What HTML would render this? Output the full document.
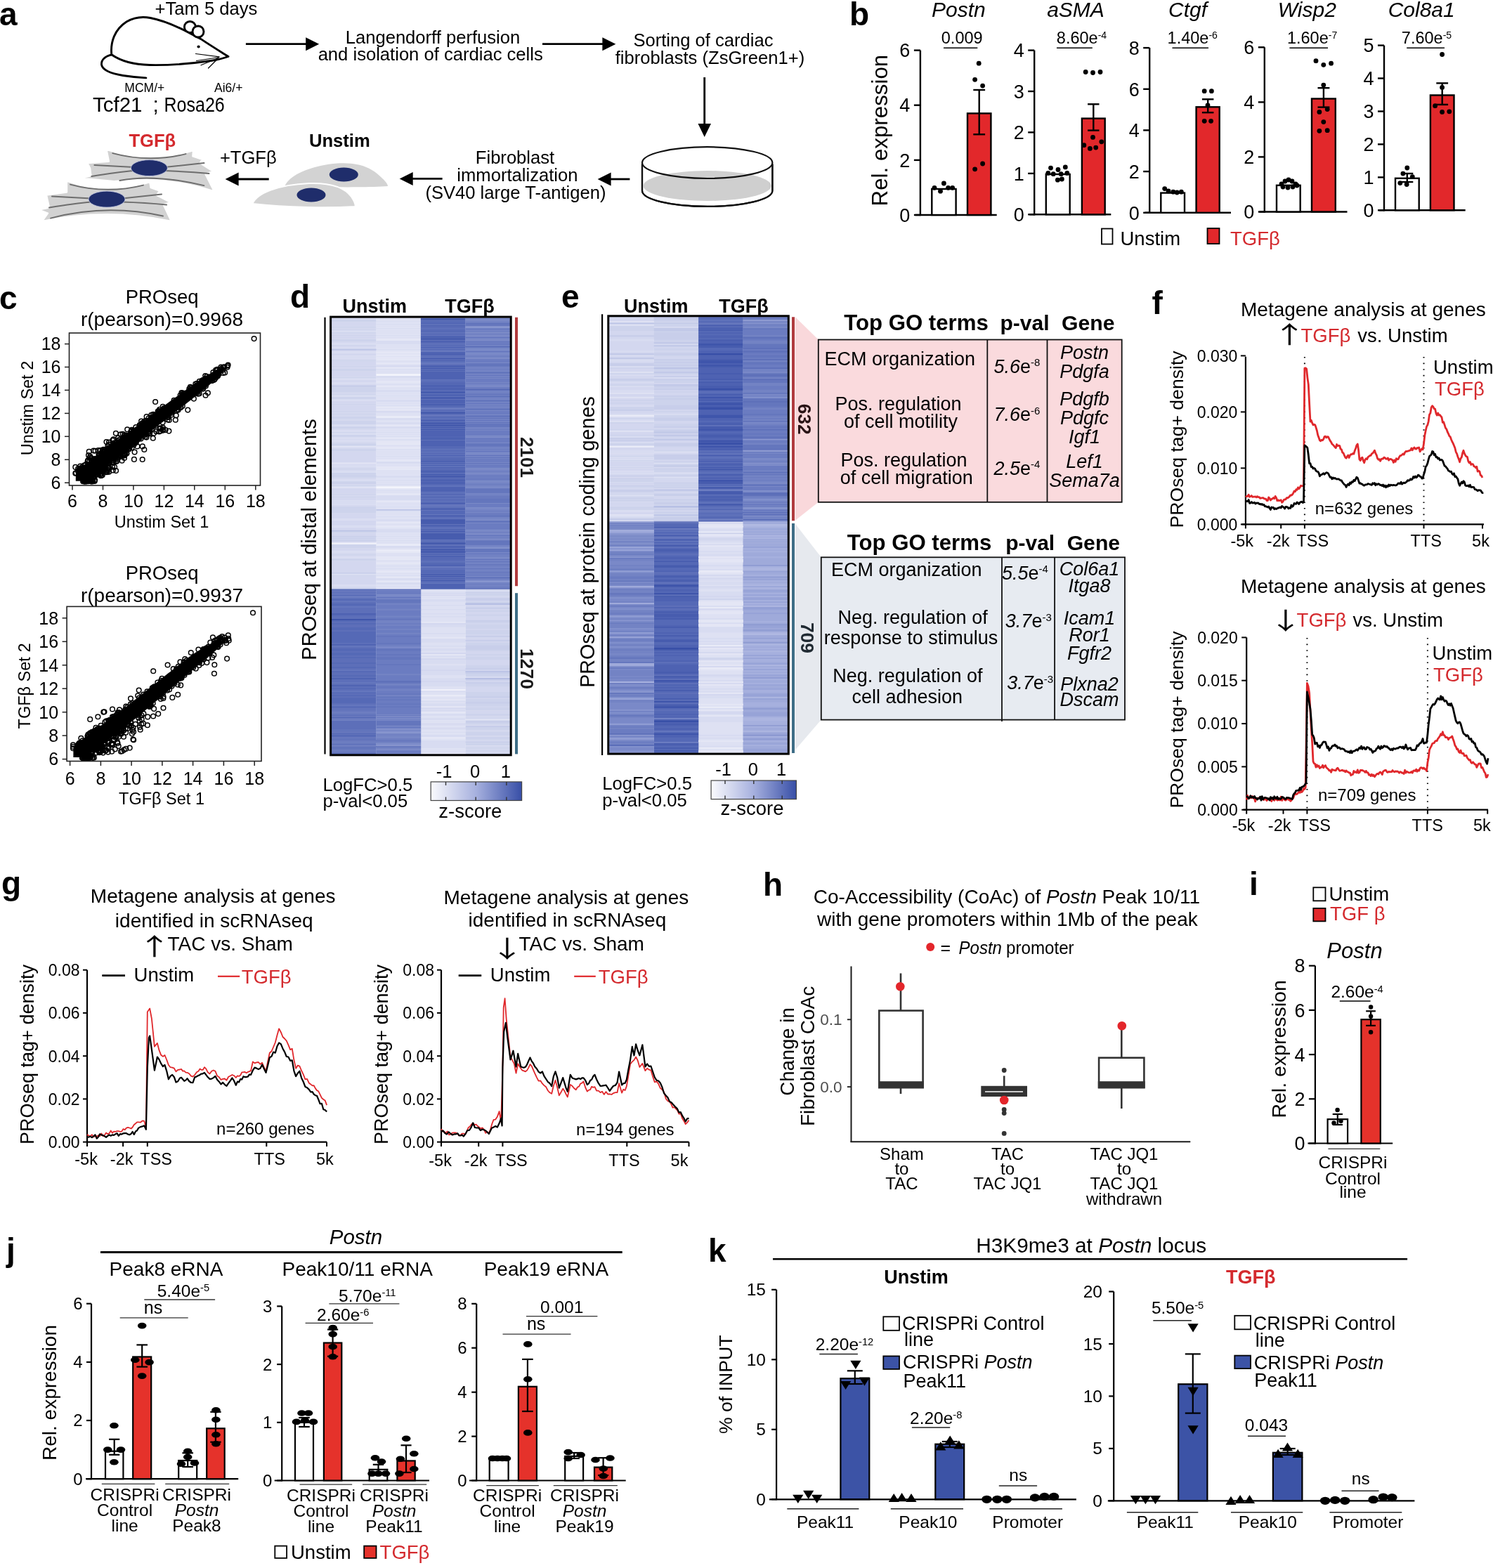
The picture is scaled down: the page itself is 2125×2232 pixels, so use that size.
<!DOCTYPE html><html><head><meta charset="utf-8"><title>Figure</title><style>html,body{margin:0;padding:0;background:#fff;width:2125px;height:2232px;overflow:hidden}svg{display:block}</style></head><body><svg width="2125" height="2232" viewBox="0 0 2125 2232" font-family="'Liberation Sans', Arial, Helvetica, sans-serif"><rect width="2125" height="2232" fill="#fff"/><text x="-1" y="35.5" font-size="46" font-weight="bold">a</text>
<text x="293.4" y="21.3" font-size="25.6" text-anchor="middle">+Tam 5 days</text>
<g fill="none" stroke="#000" stroke-width="2.9" stroke-linecap="round" stroke-linejoin="round">
<circle cx="270.4" cy="38.5" r="8" fill="#fff"/>
<path d="M158.8 77.8 C157 60 163 42 180 31 C192 24 204 23.5 214 25.5 C232 29 250 37 262 43 L285.7 55.4 C300 65 313 73 325 80.5 C318 83 310 85 300 86.5 C270 91 240 93 213 92.5 C190 92 172 87 158.8 77.8 Z" fill="#fff"/>
<circle cx="282" cy="45" r="8" fill="#fff"/>
<path d="M158.8 77.8 C150 80 144 85 144.5 92 C146 101 160 105 175 107.5 C188 109.5 200 110.5 207.9 110.9"/>
<path d="M278.5 76.5 L312 80.8 M279.5 86.5 L312 81.5 M286 92.8 L311 82.5 M296.5 97 L309 84.5" stroke-width="1.2"/>
</g>
<circle cx="282.6" cy="66.5" r="2.1"/>
<text x="132" y="158.8" font-size="29.5">Tcf21</text>
<text x="217.5" y="158.8" font-size="29.5">;</text>
<text x="233.5" y="158.8" font-size="29.5" textLength="86.3" lengthAdjust="spacingAndGlyphs">Rosa26</text>
<text x="205.8" y="130.5" font-size="17.5" text-anchor="middle">MCM/+</text>
<text x="325.2" y="130.5" font-size="17.5" text-anchor="middle">Ai6/+</text>
<line x1="349.9" y1="62.7" x2="437.2" y2="62.7" stroke="#000" stroke-width="2.8" />
<path d="M435.2 53.2 L454.2 62.7 L435.2 72.2Z" fill="#000" />
<line x1="772" y1="62.7" x2="859.4" y2="62.7" stroke="#000" stroke-width="2.8" />
<path d="M857.4 53.2 L876.4 62.7 L857.4 72.2Z" fill="#000" />
<text x="616" y="61.8" font-size="25.6" text-anchor="middle">Langendorff perfusion</text>
<text x="612.7" y="86" font-size="25.6" text-anchor="middle">and isolation of cardiac cells</text>
<text x="1001" y="66.3" font-size="25.6" text-anchor="middle">Sorting of cardiac</text>
<text x="1010.5" y="91" font-size="25.6" text-anchor="middle">fibroblasts (ZsGreen1+)</text>
<line x1="1002.7" y1="110" x2="1002.7" y2="178" stroke="#000" stroke-width="2.8" />
<path d="M993.5 176 L1002.7 195 L1012 176Z" fill="#000" />
<g stroke="#111" stroke-width="2.2">
<path d="M914 233.5 L914 271.5 A92.7 22.4 0 0 0 1099.4 271.5 L1099.4 233.5" fill="#fff"/>
<ellipse cx="1006.7" cy="264.5" rx="91" ry="21.5" fill="#cfcfcf" stroke="none"/>
<path d="M914 271.5 A92.7 22.4 0 0 0 1099.4 271.5" fill="none"/>
<path d="M914 233.5 L914 271.5 M1099.4 233.5 L1099.4 271.5" fill="none"/>
<ellipse cx="1006.7" cy="231.6" rx="92.7" ry="22.4" fill="none"/>
</g>
<line x1="867.6" y1="255" x2="896.4" y2="255" stroke="#000" stroke-width="2.8" />
<path d="M869.6 245.5 L850.6 255 L869.6 264.5Z" fill="#000" />
<line x1="585.7" y1="254.4" x2="629.6" y2="254.4" stroke="#000" stroke-width="2.8" />
<path d="M587.7 244.9 L568.7 254.4 L587.7 263.9Z" fill="#000" />
<line x1="337.6" y1="255" x2="382.7" y2="255" stroke="#000" stroke-width="2.8" />
<path d="M339.6 245.5 L320.6 255 L339.6 264.5Z" fill="#000" />
<text x="733" y="233.4" font-size="25.6" text-anchor="middle">Fibroblast</text>
<text x="736.4" y="257.6" font-size="25.6" text-anchor="middle">immortalization</text>
<text x="733.9" y="282.8" font-size="25.6" text-anchor="middle">(SV40 large T-antigen)</text>
<text x="483.3" y="209.4" font-size="25.6" text-anchor="middle" font-weight="bold">Unstim</text>
<text x="216.8" y="208.8" font-size="25.6" text-anchor="middle" font-weight="bold" fill="#d42a2e">TGFβ</text>
<text x="353.3" y="233.3" font-size="25.6" text-anchor="middle">+TGFβ</text>
<g fill="#d3d3d3">
<path d="M405.7 264 C412 250 440 236 480 232.5 C505 231 525 236 540 250 C548 257 552 262 552 265 C520 267 460 267 405.7 264 Z"/>
<path d="M359.4 290 C366 275 395 263 440 261 C470 260 490 266 500 280 C504 286 506 292 505.7 294 C470 296 410 296 359.4 290 Z" stroke="#fff" stroke-width="2"/>
</g>
<g fill="#1f2d6b">
<ellipse cx="489.3" cy="248.5" rx="20.5" ry="10"/>
<ellipse cx="443" cy="277.5" rx="20.5" ry="10"/>
</g>
<path d="M151.4 212.6 Q211.4 234.4 275.1 214.1 L274.4 222.4 L287.8 226.9 L284.8 232.1 L303.4 244 L292.4 247.8 L304.9 272.4 Q232.4 249.1 162.4 258.1 L115.4 253.7 L129.4 250 L128.1 239.5 L124.4 232.1 L154.9 229.8Z" fill="#d2d2d2" stroke="#fff" stroke-width="2.4" stroke-linejoin="round"/>
<g stroke="#6e6e6e" stroke-width="2" fill="none" stroke-linecap="round">
<path d="M160.4 218.1 Q212.4 232.1 264.4 219.1"/>
<path d="M134.4 235.1 Q172.4 237.1 190.4 238.1"/>
<path d="M234.4 238.1 Q262.4 235.1 290.4 232.1"/>
<path d="M130.4 251.1 Q167.4 245.1 190.4 243.1"/>
<path d="M234.4 243.1 Q267.4 244.1 297.4 247.1"/>
<path d="M170.4 257.1 Q217.4 247.1 290.4 264.1"/>
</g>
<ellipse cx="212.4" cy="239.1" rx="26" ry="11.5" fill="#1f2d6b" stroke="#c8cde6" stroke-width="0.8"/>
<path d="M95 257.6 Q154 278.9 213.2 259 L214.7 267.2 L227.4 271.6 L223 277.6 L243 288.1 L232.6 291.1 L243.8 314.9 Q152 295.6 60 314.9 L68 303.6 L55 298.6 L70 295.6 L66 277.6 L95 273.6Z" fill="#d2d2d2" stroke="#fff" stroke-width="2.4" stroke-linejoin="round"/>
<g stroke="#6e6e6e" stroke-width="2" fill="none" stroke-linecap="round">
<path d="M100 262.6 Q152 276.6 204 263.6"/>
<path d="M74 279.6 Q112 281.6 130 282.6"/>
<path d="M174 282.6 Q202 279.6 230 276.6"/>
<path d="M70 295.6 Q107 289.6 130 287.6"/>
<path d="M174 287.6 Q207 288.6 237 291.6"/>
<path d="M72 310.6 Q152 289.6 232 307.6"/>
</g>
<ellipse cx="152" cy="283.6" rx="26" ry="11.5" fill="#1f2d6b" stroke="#c8cde6" stroke-width="0.8"/>
<text x="1209" y="35.5" font-size="46" font-weight="bold">b</text>
<line x1="1309.9" y1="71.6" x2="1309.9" y2="307.2" stroke="#000" stroke-width="2.4" />
<line x1="1302.5" y1="306" x2="1418.7" y2="306" stroke="#000" stroke-width="2.4" />
<line x1="1300.9" y1="306" x2="1309.9" y2="306" stroke="#000" stroke-width="2.4" />
<text x="1295.4" y="315.7" font-size="27" text-anchor="end">0</text>
<line x1="1300.9" y1="227.9" x2="1309.9" y2="227.9" stroke="#000" stroke-width="2.4" />
<text x="1295.4" y="237.6" font-size="27" text-anchor="end">2</text>
<line x1="1300.9" y1="149.7" x2="1309.9" y2="149.7" stroke="#000" stroke-width="2.4" />
<text x="1295.4" y="159.4" font-size="27" text-anchor="end">4</text>
<line x1="1300.9" y1="71.6" x2="1309.9" y2="71.6" stroke="#000" stroke-width="2.4" />
<text x="1295.4" y="81.3" font-size="27" text-anchor="end">6</text>
<rect x="1326.3" y="269" width="34.3" height="37" fill="#fff" stroke="#000" stroke-width="2.4" />
<circle cx="1330" cy="267.3" r="3.4"/>
<circle cx="1338.5" cy="272.2" r="3.4"/>
<circle cx="1343.4" cy="261" r="3.4"/>
<circle cx="1349.6" cy="267.3" r="3.4"/>
<circle cx="1355.7" cy="267.3" r="3.4"/>
<rect x="1377" y="161.4" width="33.4" height="144.6" fill="#e2282b" stroke="#000" stroke-width="2.4" />
<line x1="1393.7" y1="128" x2="1393.7" y2="191.3" stroke="#000" stroke-width="2.4" />
<line x1="1385.3" y1="128" x2="1402.1" y2="128" stroke="#000" stroke-width="2.4" />
<line x1="1385.3" y1="191.3" x2="1402.1" y2="191.3" stroke="#000" stroke-width="2.4" />
<circle cx="1393.2" cy="90.2" r="3.4"/>
<circle cx="1387.6" cy="113.3" r="3.4"/>
<circle cx="1398.6" cy="122.1" r="3.4"/>
<circle cx="1398.6" cy="233" r="3.4"/>
<circle cx="1387.6" cy="240.8" r="3.4"/>
<line x1="1472.2" y1="71.6" x2="1472.2" y2="306.5" stroke="#000" stroke-width="2.4" />
<line x1="1465.3" y1="305.3" x2="1581.3" y2="305.3" stroke="#000" stroke-width="2.4" />
<line x1="1463.2" y1="305.3" x2="1472.2" y2="305.3" stroke="#000" stroke-width="2.4" />
<text x="1457.7" y="315" font-size="27" text-anchor="end">0</text>
<line x1="1463.2" y1="246.9" x2="1472.2" y2="246.9" stroke="#000" stroke-width="2.4" />
<text x="1457.7" y="256.6" font-size="27" text-anchor="end">1</text>
<line x1="1463.2" y1="188.4" x2="1472.2" y2="188.4" stroke="#000" stroke-width="2.4" />
<text x="1457.7" y="198.2" font-size="27" text-anchor="end">2</text>
<line x1="1463.2" y1="130" x2="1472.2" y2="130" stroke="#000" stroke-width="2.4" />
<text x="1457.7" y="139.7" font-size="27" text-anchor="end">3</text>
<line x1="1463.2" y1="71.6" x2="1472.2" y2="71.6" stroke="#000" stroke-width="2.4" />
<text x="1457.7" y="81.3" font-size="27" text-anchor="end">4</text>
<rect x="1488.8" y="248" width="33.9" height="57.3" fill="#fff" stroke="#000" stroke-width="2.4" />
<circle cx="1495.5" cy="239.1" r="3.4"/>
<circle cx="1506" cy="241.5" r="3.4"/>
<circle cx="1516.3" cy="237.9" r="3.4"/>
<circle cx="1491.8" cy="246.4" r="3.4"/>
<circle cx="1499.2" cy="247.7" r="3.4"/>
<circle cx="1510.2" cy="247.7" r="3.4"/>
<circle cx="1518.8" cy="246.4" r="3.4"/>
<circle cx="1505.4" cy="256.2" r="3.4"/>
<circle cx="1511.4" cy="255" r="3.4"/>
<rect x="1539.9" y="168.6" width="32.8" height="136.7" fill="#e2282b" stroke="#000" stroke-width="2.4" />
<line x1="1556.3" y1="148.3" x2="1556.3" y2="185.6" stroke="#000" stroke-width="2.4" />
<line x1="1548.1" y1="148.3" x2="1564.5" y2="148.3" stroke="#000" stroke-width="2.4" />
<line x1="1548.1" y1="185.6" x2="1564.5" y2="185.6" stroke="#000" stroke-width="2.4" />
<circle cx="1545.2" cy="102.5" r="3.4"/>
<circle cx="1555.5" cy="103.5" r="3.4"/>
<circle cx="1566" cy="102.5" r="3.4"/>
<circle cx="1555.5" cy="195.4" r="3.4"/>
<circle cx="1542.8" cy="206.7" r="3.4"/>
<circle cx="1551.4" cy="211.4" r="3.4"/>
<circle cx="1559.7" cy="210.1" r="3.4"/>
<circle cx="1567.8" cy="201.8" r="3.4"/>
<line x1="1636.2" y1="68.1" x2="1636.2" y2="304" stroke="#000" stroke-width="2.4" />
<line x1="1629.5" y1="302.8" x2="1752" y2="302.8" stroke="#000" stroke-width="2.4" />
<line x1="1627.2" y1="302.8" x2="1636.2" y2="302.8" stroke="#000" stroke-width="2.4" />
<text x="1621.7" y="312.5" font-size="27" text-anchor="end">0</text>
<line x1="1627.2" y1="244.1" x2="1636.2" y2="244.1" stroke="#000" stroke-width="2.4" />
<text x="1621.7" y="253.8" font-size="27" text-anchor="end">2</text>
<line x1="1627.2" y1="185.4" x2="1636.2" y2="185.4" stroke="#000" stroke-width="2.4" />
<text x="1621.7" y="195.2" font-size="27" text-anchor="end">4</text>
<line x1="1627.2" y1="126.8" x2="1636.2" y2="126.8" stroke="#000" stroke-width="2.4" />
<text x="1621.7" y="136.5" font-size="27" text-anchor="end">6</text>
<line x1="1627.2" y1="68.1" x2="1636.2" y2="68.1" stroke="#000" stroke-width="2.4" />
<text x="1621.7" y="77.8" font-size="27" text-anchor="end">8</text>
<rect x="1652.3" y="274.6" width="33.7" height="28.2" fill="#fff" stroke="#000" stroke-width="2.4" />
<circle cx="1657.7" cy="268.6" r="3.4"/>
<circle cx="1663" cy="271.9" r="3.4"/>
<circle cx="1669.8" cy="273.2" r="3.4"/>
<circle cx="1675.2" cy="274" r="3.4"/>
<circle cx="1681.4" cy="273.2" r="3.4"/>
<rect x="1702.6" y="152.3" width="33.1" height="150.5" fill="#e2282b" stroke="#000" stroke-width="2.4" />
<line x1="1719.2" y1="141.3" x2="1719.2" y2="160.2" stroke="#000" stroke-width="2.4" />
<line x1="1710.9" y1="141.3" x2="1727.4" y2="141.3" stroke="#000" stroke-width="2.4" />
<line x1="1710.9" y1="160.2" x2="1727.4" y2="160.2" stroke="#000" stroke-width="2.4" />
<circle cx="1714.2" cy="129.7" r="3.4"/>
<circle cx="1724.4" cy="129.7" r="3.4"/>
<circle cx="1719" cy="150" r="3.4"/>
<circle cx="1714.2" cy="172.3" r="3.4"/>
<circle cx="1723.6" cy="172.3" r="3.4"/>
<line x1="1799.8" y1="67.3" x2="1799.8" y2="302.7" stroke="#000" stroke-width="2.4" />
<line x1="1792.5" y1="301.5" x2="1917.5" y2="301.5" stroke="#000" stroke-width="2.4" />
<line x1="1790.8" y1="301.5" x2="1799.8" y2="301.5" stroke="#000" stroke-width="2.4" />
<text x="1785.3" y="311.2" font-size="27" text-anchor="end">0</text>
<line x1="1790.8" y1="223.4" x2="1799.8" y2="223.4" stroke="#000" stroke-width="2.4" />
<text x="1785.3" y="233.2" font-size="27" text-anchor="end">2</text>
<line x1="1790.8" y1="145.4" x2="1799.8" y2="145.4" stroke="#000" stroke-width="2.4" />
<text x="1785.3" y="155.1" font-size="27" text-anchor="end">4</text>
<line x1="1790.8" y1="67.3" x2="1799.8" y2="67.3" stroke="#000" stroke-width="2.4" />
<text x="1785.3" y="77" font-size="27" text-anchor="end">6</text>
<rect x="1817" y="263.8" width="33.7" height="37.7" fill="#fff" stroke="#000" stroke-width="2.4" />
<circle cx="1824" cy="262" r="3.4"/>
<circle cx="1829" cy="258" r="3.4"/>
<circle cx="1834" cy="256" r="3.4"/>
<circle cx="1839" cy="258" r="3.4"/>
<circle cx="1844" cy="262" r="3.4"/>
<circle cx="1826" cy="266" r="3.4"/>
<circle cx="1833" cy="267" r="3.4"/>
<circle cx="1840" cy="266" r="3.4"/>
<circle cx="1846" cy="264" r="3.4"/>
<rect x="1867" y="140.5" width="33.8" height="161" fill="#e2282b" stroke="#000" stroke-width="2.4" />
<line x1="1883.9" y1="125.2" x2="1883.9" y2="152.6" stroke="#000" stroke-width="2.4" />
<line x1="1875.5" y1="125.2" x2="1892.4" y2="125.2" stroke="#000" stroke-width="2.4" />
<line x1="1875.5" y1="152.6" x2="1892.4" y2="152.6" stroke="#000" stroke-width="2.4" />
<circle cx="1873" cy="86.7" r="3.4"/>
<circle cx="1883.8" cy="92.3" r="3.4"/>
<circle cx="1894.6" cy="90.2" r="3.4"/>
<circle cx="1883.8" cy="121.1" r="3.4"/>
<circle cx="1877.9" cy="159.4" r="3.4"/>
<circle cx="1889.2" cy="155.6" r="3.4"/>
<circle cx="1883.8" cy="173.6" r="3.4"/>
<circle cx="1877.9" cy="186.3" r="3.4"/>
<circle cx="1889.2" cy="185.7" r="3.4"/>
<line x1="1970" y1="64.6" x2="1970" y2="300.5" stroke="#000" stroke-width="2.4" />
<line x1="1963" y1="299.3" x2="2085.7" y2="299.3" stroke="#000" stroke-width="2.4" />
<line x1="1961" y1="299.3" x2="1970" y2="299.3" stroke="#000" stroke-width="2.4" />
<text x="1955.5" y="309" font-size="27" text-anchor="end">0</text>
<line x1="1961" y1="252.4" x2="1970" y2="252.4" stroke="#000" stroke-width="2.4" />
<text x="1955.5" y="262.1" font-size="27" text-anchor="end">1</text>
<line x1="1961" y1="205.4" x2="1970" y2="205.4" stroke="#000" stroke-width="2.4" />
<text x="1955.5" y="215.1" font-size="27" text-anchor="end">2</text>
<line x1="1961" y1="158.5" x2="1970" y2="158.5" stroke="#000" stroke-width="2.4" />
<text x="1955.5" y="168.2" font-size="27" text-anchor="end">3</text>
<line x1="1961" y1="111.5" x2="1970" y2="111.5" stroke="#000" stroke-width="2.4" />
<text x="1955.5" y="121.3" font-size="27" text-anchor="end">4</text>
<line x1="1961" y1="64.6" x2="1970" y2="64.6" stroke="#000" stroke-width="2.4" />
<text x="1955.5" y="74.3" font-size="27" text-anchor="end">5</text>
<rect x="1986" y="253.8" width="33.7" height="45.5" fill="#fff" stroke="#000" stroke-width="2.4" />
<line x1="2002.8" y1="247" x2="2002.8" y2="259" stroke="#000" stroke-width="2.4" />
<line x1="1994.4" y1="247" x2="2011.3" y2="247" stroke="#000" stroke-width="2.4" />
<line x1="1994.4" y1="259" x2="2011.3" y2="259" stroke="#000" stroke-width="2.4" />
<circle cx="2002.8" cy="239" r="3.4"/>
<circle cx="1996.9" cy="247.1" r="3.4"/>
<circle cx="2010.3" cy="251.7" r="3.4"/>
<circle cx="1992.8" cy="260.6" r="3.4"/>
<circle cx="2002.2" cy="262.5" r="3.4"/>
<rect x="2035.9" y="135.5" width="33.6" height="163.8" fill="#e2282b" stroke="#000" stroke-width="2.4" />
<line x1="2052.7" y1="118.4" x2="2052.7" y2="148.9" stroke="#000" stroke-width="2.4" />
<line x1="2044.3" y1="118.4" x2="2061.1" y2="118.4" stroke="#000" stroke-width="2.4" />
<line x1="2044.3" y1="148.9" x2="2061.1" y2="148.9" stroke="#000" stroke-width="2.4" />
<circle cx="2052.6" cy="77.5" r="3.4"/>
<circle cx="2052.6" cy="124.4" r="3.4"/>
<circle cx="2042.6" cy="150.7" r="3.4"/>
<circle cx="2052.6" cy="159.4" r="3.4"/>
<circle cx="2062.8" cy="158.8" r="3.4"/>
<text x="1364.3" y="24.3" font-size="30" text-anchor="middle" font-style="italic">Postn</text>
<text x="1531" y="24.3" font-size="30" text-anchor="middle" font-style="italic">aSMA</text>
<text x="1690.5" y="24.3" font-size="30" text-anchor="middle" font-style="italic">Ctgf</text>
<text x="1860.3" y="24.3" font-size="30" text-anchor="middle" font-style="italic">Wisp2</text>
<text x="2023.2" y="24.3" font-size="30" text-anchor="middle" font-style="italic">Col8a1</text>
<text x="1369.2" y="62.3" font-size="23.5" text-anchor="middle">0.009</text>
<text x="1539.5" y="62.3" font-size="23.5" text-anchor="middle">8.60e<tspan font-size="14.1" dy="-7.5">-4</tspan></text>
<text x="1697.3" y="62.3" font-size="23.5" text-anchor="middle">1.40e<tspan font-size="14.1" dy="-7.5">-6</tspan></text>
<text x="1867.6" y="62.3" font-size="23.5" text-anchor="middle">1.60e<tspan font-size="14.1" dy="-7.5">-7</tspan></text>
<text x="2030.5" y="62.3" font-size="23.5" text-anchor="middle">7.60e<tspan font-size="14.1" dy="-7.5">-5</tspan></text>
<line x1="1343" y1="68.2" x2="1391.3" y2="68.2" stroke="#000" stroke-width="1.6" />
<line x1="1504" y1="68.2" x2="1554.8" y2="68.2" stroke="#000" stroke-width="1.6" />
<line x1="1668.5" y1="68.2" x2="1720" y2="68.2" stroke="#000" stroke-width="1.6" />
<line x1="1835.4" y1="68.2" x2="1890" y2="68.2" stroke="#000" stroke-width="1.6" />
<line x1="2002.2" y1="68.2" x2="2056" y2="68.2" stroke="#000" stroke-width="1.6" />
<text transform="translate(1262.5 185.6) rotate(-90)" font-size="31.3" text-anchor="middle">Rel. expression</text>
<rect x="1568" y="325.5" width="15.5" height="22" fill="#fff" stroke="#000" stroke-width="1.8" />
<text x="1594.5" y="348.5" font-size="27.5">Unstim</text>
<rect x="1718.5" y="325" width="17" height="22" fill="#e2282b" stroke="#000" stroke-width="1.8" />
<text x="1751" y="348.5" font-size="27.5" fill="#d42a2e">TGFβ</text>
<defs><marker id="oc" markerUnits="userSpaceOnUse" markerWidth="9" markerHeight="9" refX="4.5" refY="4.5" overflow="visible"><circle cx="4.5" cy="4.5" r="3.3" fill="none" stroke="#000" stroke-width="1.5"/></marker></defs>
<text x="-1" y="439.5" font-size="46" font-weight="bold">c</text>
<text x="230.6" y="432" font-size="27.5" text-anchor="middle">PROseq</text>
<text x="230.5" y="464.2" font-size="28" text-anchor="middle">r(pearson)=0.9968</text>
<path d="M107.8 684.7 L107.8 672.4 L110.9 668.5 L114.2 665.9 L117.5 663.4 L120.9 660.9 L124.2 658.4 L127.5 655.8 L130.9 653.3 L134.3 650.8 L137.7 648.4 L141 645.9 L144.4 643.4 L147.8 640.9 L151.2 638.4 L154.5 635.9 L157.9 633.4 L161.3 630.9 L164.7 628.4 L168 625.9 L171.4 623.4 L174.8 620.9 L178.2 618.4 L181.5 615.9 L184.9 613.4 L188.3 610.9 L191.7 608.4 L195 605.9 L198.4 603.4 L201.8 601 L205.2 598.5 L208.6 596 L211.9 593.5 L215.3 591 L218.7 588.5 L222.1 586 L225.5 583.5 L228.9 581.1 L232.3 578.6 L235.6 576.1 L239 573.6 L242.4 571.1 L245.8 568.6 L249.2 566.1 L252.6 563.7 L256 561.2 L259.4 558.7 L262.8 556.2 L266.2 553.8 L269.6 551.3 L273 548.8 L276.4 546.3 L279.8 543.9 L283.3 541.5 L287 539.2 L290.6 536.9 L294.3 534.6 L298 532.4 L301.6 530.1 L305.3 527.8 L309 525.6 L313.1 523.6 L318.9 528 L316.2 531 L313.3 533.9 L310.3 536.7 L307.3 539.4 L304.3 542.2 L301.3 545 L298.3 547.8 L295.2 550.5 L292.1 553.2 L288.8 555.8 L285.6 558.3 L282.3 560.9 L279 563.5 L275.8 566.1 L272.5 568.7 L269.3 571.2 L266 573.8 L262.7 576.4 L259.5 579 L256.2 581.5 L252.9 584.1 L249.6 586.7 L246.3 589.2 L243 591.8 L239.8 594.4 L236.5 596.9 L233.2 599.5 L229.9 602.1 L226.6 604.6 L223.4 607.2 L220.1 609.8 L216.8 612.3 L213.5 614.9 L210.2 617.4 L206.9 620 L203.6 622.6 L200.3 625.1 L197 627.7 L193.8 630.2 L190.5 632.8 L187.2 635.3 L183.9 637.9 L180.6 640.5 L177.3 643 L174 645.6 L170.7 648.1 L167.4 650.7 L164.1 653.2 L160.8 655.8 L157.5 658.4 L154.3 660.9 L151 663.5 L147.7 666 L144.4 668.6 L141.1 671.1 L137.7 673.7 L134.4 676.2 L131.1 678.7 L127.7 681.2 L125.8 684.7Z" fill="#000" />
<path d="M114.3 666.9 190.1 612.8 280.5 545.8 143.7 674.6 150.3 671.8 307.1 526.9 257 580.2 129.3 685.2 144.5 677 233.4 581 147.5 665.7 188 631.8 115.6 667.6 227.1 582.8 221.1 572 226.6 614.5 194 628.3 169 647.8 113.3 667.9 204.7 602 125.6 682.2 251.3 584.5 128.4 682.9 280.6 558.9 151.2 660.5 292.2 535.1 171.2 644.9 114.3 668.7 143.4 677.2 215.3 590.8 235.6 612.1 111.1 667 187.5 611.8 205 619.8 186.3 614.3 121.6 685.2 148.4 663.6 207 618.8 238.6 597.5 172.9 645.4 192.7 628.6 317.3 522.7 134.2 674.2 168.7 650 139.7 669.3 122 661.4 144.1 666 177.1 619.3 197.1 624.6 311.3 532.7 178.1 647.1 193.4 608 127.2 683.5 275.9 567.6 180.2 641.2 129.8 685.2 313.3 525.7 123.4 681.9 228.5 613.5 155.7 666.5 160.7 655.2 187.7 631.9 119.9 685.2 129.9 652.3 160.8 669.4 113.1 667.5 310.1 535.2 308.9 527.4 142.7 670.1 303.4 530.1 161.5 652.4 160.4 626.7 128.6 679.1 202.9 602.1 219 616.7 226.4 585.4 148.7 663 127.6 678.4 206.7 621.7 152.8 669.4 162.4 633 126.2 679.3 148 662.6 292.8 538.6 161.5 625.3 122.9 683.4 260 559.6 173.6 655.8 259.8 577.9 120 684.4 160.1 664.7 227.9 610.6 267.3 583.6 114.3 663.5 174.5 647.9 124.6 656.9 128 683.7 155.4 659.7 157.7 636.4 128.7 681 176.6 641.8 130.8 655.3 154.2 660.2 128.4 679.4 208.5 622.6 178.3 639.3 185 635.9 151.6 672.2 140.8 647.7 171.6 649.9 130.2 654.8 168.6 650.4 180.5 645.6 220.1 590.7 167.5 653.3 160.7 652.6 123.5 685.2 243.8 588 208.1 617.2 147.9 669.9 166.2 656.8 232 608.7 180.2 644.3 142.4 675.3 207.8 616.3 171.7 618.3 199 606.2 256.6 562.8 143 641 137.2 675.9 128.4 649.7 153.7 664.9 151.5 629.1 153.7 639.3 231.7 578.7 147.2 639.7 165.1 670.1 130.4 656.9 249.8 597.8 183.6 638.4 153 638.7 147.7 667.6 130.2 681.6 121.4 684.4 224.7 585.5 289.2 540.8 187.4 613.2 228.1 609.2 142.9 670.6 211 614.4 164.4 656.9 164.1 652.1 320.1 530.4 185.7 634.2 272.3 551.8 178.2 639.5 244.1 590.4 135.9 672.3 140.8 674.5 119.2 685.2 205.3 640 193.6 629.9 253.6 583.5 132.6 679.9 183.8 639.3 145.7 643.6 238 593.7 135.1 683.2 307.4 537.6 171 647.5 225.9 585.5 122.9 685.2 161.9 653 124.9 683.2 206.8 599.8 155.4 656.8 126 648 120.4 685.2 278.3 546.5 231.6 601.3 324 520.7 145.5 664.4 132.5 685.2 162.5 633.2 155.1 632.7 177.1 648.5 214.9 594.2 192.7 628.5 131.2 683.5 295.9 559.2 119.5 684.2 211.1 614.5 270.8 550.9 317.1 526.8 140.7 671.5 128.1 679.1 169.5 648.6 174.7 617.8 195.5 635.4 152.8 672 211.6 595.2 127.8 651.9 140.6 670.3 200.6 624.6 212.9 617.5 125.3 655 138.6 675.2 120.4 685.2 128.6 681.2 198.8 623.4 139.8 641 250.7 591.3 191.6 643.6 231.9 612.8 137.8 671.2 130.8 676.4 221.4 606 190.9 653.9 169.2 646.7 208.1 599.1 120.1 685.2 160.4 634.4 145.8 676.3 292.6 562.8 205.7 599.9 108.2 673.4 168.3 623.4 134.7 684.9 192.1 628.8 301.8 542 110.9 670.4 315.1 525 127.4 657 126.3 682.9 121.2 683.8 269.3 553.5 198.7 605.1 289.2 553.4 161.4 655.3 232.1 611.2 282 560.8 154.7 638.2 317.5 530.9 122.2 685.2 262.3 559.8 126.7 642.9 172.8 643.5 130.5 679.7 141.7 667.7 177.8 646.9 239.7 593.9 155 629.6 183.4 635.9 168.3 628 155.2 671.7 323.5 522.8 143.5 646.5 153.4 634.5 177 652 208.6 593 287.4 541.8 292.9 549.4 218.1 589.8 144.3 644.8 161 633 210.5 614.9 163 652.5 309.4 534.2 170.5 647.1 163.1 630.4 131.1 675.7 134.4 673.1 107.3 664.9 177.9 641.1 308.3 535.3 121 685.2 164.9 616.8 108 673.2 216.2 610.4 304.3 540.9 133 675.4 125.5 655.3 188.5 632.3 201.1 599.5 190.7 633.1 141.5 648.1 247.6 569.7 130.8 676.5 162.1 657.9 146.5 665.9 150.6 669.5 135.2 653.1 314.5 522.5 226.2 586 253.4 582.7 302.2 541.6 202.7 654 154.3 665.2 179.3 619.5 324.6 519.5 177.4 646.9 283.8 560.3 131.3 685.2 179.3 640.6 206.3 599.4 146.5 667.1 146.3 641.7 202.8 635.4 192.6 628 135.6 641.8 181.6 637.6 240.4 613.6 135.5 675.2 133.2 641.5 147.6 665.1 240.8 597.9 122.7 685.2 309.2 525.8 176.2 622.9 202.7 602.5 126.5 679.8 305.6 539.9 172.7 648.4 112.6 670.3 222.4 614.3 163.1 664.8 196.2 625.7 148.1 667.9 107.3 673.8 131.1 685.2 283.8 542.7 147.4 643.1 116.6 665.1 187.6 637.2 217.8 623.7 134.6 673.9 119.5 662.5 180.6 619.9 176.2 623 287.8 553.4 319.1 522.4 140.5 647.8 213.7 614.5 118.1 685.2 181.2 611.2 152.3 639.4 135.2 653.4 258.4 559.1 257.4 579.6 125.4 685.2 153.5 662.2 169.6 626 259.6 561.5 147.2 667.3 153.6 659.5 155.6 637.8 145.9 640.9 192.4 630.3 226.2 584.9 160.5 657.8 294.4 535.8 129.9 685.2 212.2 616.2 361.6 482.1" fill="none" stroke="none" marker-start="url(#oc)" marker-mid="url(#oc)" marker-end="url(#oc)"/>
<rect x="98.5" y="474" width="272" height="217" fill="none" stroke="#222" stroke-width="1.6" />
<line x1="92" y1="687.2" x2="98.5" y2="687.2" stroke="#222" stroke-width="1.5" />
<text x="86.5" y="696" font-size="25" text-anchor="end">6</text>
<line x1="103" y1="691" x2="103" y2="697.5" stroke="#222" stroke-width="1.5" />
<text x="103" y="722.4" font-size="25" text-anchor="middle">6</text>
<line x1="92" y1="654.3" x2="98.5" y2="654.3" stroke="#222" stroke-width="1.5" />
<text x="86.5" y="663.1" font-size="25" text-anchor="end">8</text>
<line x1="146.5" y1="691" x2="146.5" y2="697.5" stroke="#222" stroke-width="1.5" />
<text x="146.5" y="722.4" font-size="25" text-anchor="middle">8</text>
<line x1="92" y1="621.3" x2="98.5" y2="621.3" stroke="#222" stroke-width="1.5" />
<text x="86.5" y="630.1" font-size="25" text-anchor="end">10</text>
<line x1="189.9" y1="691" x2="189.9" y2="697.5" stroke="#222" stroke-width="1.5" />
<text x="189.9" y="722.4" font-size="25" text-anchor="middle">10</text>
<line x1="92" y1="588.4" x2="98.5" y2="588.4" stroke="#222" stroke-width="1.5" />
<text x="86.5" y="597.2" font-size="25" text-anchor="end">12</text>
<line x1="233.4" y1="691" x2="233.4" y2="697.5" stroke="#222" stroke-width="1.5" />
<text x="233.4" y="722.4" font-size="25" text-anchor="middle">12</text>
<line x1="92" y1="555.4" x2="98.5" y2="555.4" stroke="#222" stroke-width="1.5" />
<text x="86.5" y="564.2" font-size="25" text-anchor="end">14</text>
<line x1="276.8" y1="691" x2="276.8" y2="697.5" stroke="#222" stroke-width="1.5" />
<text x="276.8" y="722.4" font-size="25" text-anchor="middle">14</text>
<line x1="92" y1="522.5" x2="98.5" y2="522.5" stroke="#222" stroke-width="1.5" />
<text x="86.5" y="531.3" font-size="25" text-anchor="end">16</text>
<line x1="320.3" y1="691" x2="320.3" y2="697.5" stroke="#222" stroke-width="1.5" />
<text x="320.3" y="722.4" font-size="25" text-anchor="middle">16</text>
<line x1="92" y1="489.6" x2="98.5" y2="489.6" stroke="#222" stroke-width="1.5" />
<text x="86.5" y="498.4" font-size="25" text-anchor="end">18</text>
<line x1="363.8" y1="691" x2="363.8" y2="697.5" stroke="#222" stroke-width="1.5" />
<text x="363.8" y="722.4" font-size="25" text-anchor="middle">18</text>
<text x="230" y="750.6" font-size="23.5" text-anchor="middle">Unstim Set 1</text>
<text transform="translate(47 581) rotate(-90)" font-size="23.5" text-anchor="middle">Unstim Set 2</text>
<text x="230.6" y="825" font-size="27.5" text-anchor="middle">PROseq</text>
<text x="230.5" y="857.2" font-size="28" text-anchor="middle">r(pearson)=0.9937</text>
<path d="M104.4 1078.1 L104.4 1065.5 L106.5 1060.8 L109.9 1058.2 L113.2 1055.7 L116.6 1053.1 L119.9 1050.5 L123.3 1048 L126.7 1045.4 L130.1 1042.9 L133.5 1040.4 L136.9 1037.8 L140.3 1035.3 L143.7 1032.8 L147.1 1030.3 L150.5 1027.7 L153.9 1025.2 L157.3 1022.7 L160.7 1020.1 L164.1 1017.6 L167.5 1015.1 L170.9 1012.5 L174.3 1010 L177.8 1007.5 L181.2 1004.8 L184.6 1002.1 L188 999.3 L191.4 996.6 L194.8 993.9 L198.2 991.2 L201.6 988.5 L205 985.7 L208.4 983 L211.8 980.3 L215.2 977.6 L218.7 974.9 L222.1 972.2 L225.5 969.5 L228.9 966.7 L232.3 964 L235.7 961.3 L239.1 958.6 L242.6 955.9 L246 953.2 L249.4 950.5 L252.8 947.8 L256.3 945.1 L259.7 942.4 L263.1 939.7 L266.6 937 L270 934.5 L273.5 932.2 L276.9 929.8 L280.5 927.5 L284.2 925.3 L287.9 923.2 L291.6 921 L295.3 918.9 L299.1 916.7 L302.8 914.5 L306.6 912.5 L310.8 910.6 L317.3 915.6 L314.7 918.7 L311.9 921.5 L308.9 924.2 L305.9 926.9 L302.9 929.6 L299.9 932.3 L296.9 935.1 L293.9 937.8 L290.8 940.4 L287.5 942.9 L284.2 945.4 L280.9 948 L277.6 950.8 L274.4 953.6 L271.1 956.4 L267.8 959.2 L264.5 962 L261.3 964.9 L258 967.7 L254.7 970.5 L251.4 973.3 L248.1 976.1 L244.8 978.9 L241.5 981.7 L238.2 984.5 L234.9 987.3 L231.6 990.1 L228.3 992.9 L225 995.7 L221.7 998.5 L218.4 1001.3 L215.1 1004.1 L211.8 1006.9 L208.5 1009.7 L205.2 1012.5 L201.8 1015.3 L198.5 1018.1 L195.2 1020.8 L191.9 1023.4 L188.6 1026 L185.3 1028.7 L182 1031.3 L178.7 1033.9 L175.4 1036.5 L172.1 1039.1 L168.8 1041.7 L165.4 1044.3 L162.1 1046.9 L158.8 1049.5 L155.5 1052.1 L152.2 1054.7 L148.9 1057.3 L145.6 1059.9 L142.3 1062.5 L138.9 1065 L135.6 1067.6 L132.2 1070.2 L128.9 1072.7 L125.5 1075.3 L122.6 1078.1Z" fill="#000" />
<path d="M168.8 1014.1 134.8 1040.1 325.8 911.7 169.6 1039 253.2 988.8 298.9 929.2 161.7 1019.8 315.1 910.7 165.8 1017.8 175 1033.8 118.3 1078.6 143.8 1060 184.2 1033.3 167.1 1042.1 129.8 1076.8 131.8 1042.6 164.3 1049.7 190.2 1053.3 283.9 943.3 146.7 1071.6 118.4 1077.7 154.2 1057.4 167.6 1014 119.3 1078.6 309.9 914.3 256.5 942.3 308.1 911 149.3 1059 320 907.5 128.1 1078.6 172 1069.7 313.8 910.1 186.5 1034 290.5 924.5 181.6 1036.9 224.3 971.6 296.5 936.4 305.7 912 150.1 1068.7 141 1036.5 143.1 1059.9 170.5 1015.9 154.1 1057.1 252.9 974.6 120 1076.9 131.1 1070 201.5 1018.4 155.2 1049 148.9 1056.9 137.2 1071.5 134.7 1067.5 219.1 1008.9 149.8 1054 161.5 1022.8 176.3 1032.9 325.2 909 154.1 1025.7 227 991.4 141.9 1064.2 198 1015.7 268.6 956.1 186 994.3 104 1065.3 203.9 1029.9 197.3 1022 209.9 1032.2 121.5 1078.6 289.6 924 117 1078.6 147.7 1057.3 302.9 907.2 162.5 1021 143.6 1063.7 166.6 1040.8 133.6 1067.2 143.1 1060.4 136.5 1065.8 136.5 1035.8 128.2 1023.9 309.5 910.4 133.9 1078.6 201.7 1023.8 111.9 1059.7 305.3 946.3 189.5 1035.9 115.4 1050.8 117.4 1078.6 181.2 1006.7 167 1056.2 196.2 990.3 312.2 908.5 160.4 1060.2 197.7 1015.4 292.4 923.5 167.5 1058.1 212.8 1002.5 143.6 1032.7 159.2 1069.7 126.7 1078.6 175.8 1034.7 141.3 1060.2 122.4 1078.6 160 1058.2 132.2 1078.6 204.4 1015.9 131.1 1041.9 198 993.6 218.1 1019.5 257.6 965.3 124.5 1047.9 135 1040.9 238.6 946.5 125.5 1075.1 137.9 1064.1 265.6 940.1 165.7 1048.5 146.4 1066.2 214.5 1002.3 110.7 1060.9 159.5 1023.5 131.4 1069.4 154.5 1065.5 269.3 956.4 156.1 1024.8 251.1 952.3 262.5 960.9 153.2 1056.1 117 1078.6 137.1 1063.7 173 1040.9 199.1 1035 230.5 965.7 104.1 1062.9 160 1009.5 245.3 992.9 253.7 948.9 192.7 1030.8 310.4 921.1 210.2 1020.4 140.5 1062.8 129.7 1045.8 151.4 1026.3 144.9 1061 163.7 1066.5 294.2 922.4 312.9 912.2 123.1 1074.8 162.5 1044 190.1 1041.7 150.3 1052.8 232.5 1007.8 167 1040.7 173.8 1039.2 261.6 942.6 232.4 994 217.7 1001 244.5 976.7 314.8 912.1 176 1048.8 313.6 917.6 179.2 1042.7 149.1 1054 304.3 932.4 121.3 1078.3 315 912 216.7 979.4 161.7 1022.2 117.4 1078.6 324.8 904.3 201.3 1030.8 125 1078.6 141.4 1059.8 322.2 915.3 209.5 984.4 232.1 986.6 151.1 1067.9 198.7 1026.3 126.4 1078.6 184.7 1064.6 120.5 1078.6 134.5 1042.1 113.6 1057.3 126.3 1077.5 155.4 1026.9 258.5 964.9 294.4 943.1 225.2 1016.1 178.6 1037.6 287.2 944.1 142.9 1068.5 256.3 965.8 188.5 1000.9 186.4 1032.7 130 1072 139.7 1068.2 195.8 1017.8 186 1027.2 158.9 1059.6 141.3 1071.3 170 1010.3 155.9 1026.3 172.5 1044.7 117 1078.6 153.8 1070.6 182.5 1030.7 173.5 1043 161.3 1048.5 126.3 1048.5 257.2 975.4 154.4 1051 316.1 906.1 129.4 1075.5 213.6 1002.8 133 1043.9 153.6 1054.5 162.4 1053.4 167.1 1017.1 147.3 1013.6 186.5 1029.2 212.9 1005.9 134.9 1042.7 170.4 1038.6 131.4 1078.6 120.2 1078 118.5 1078.6 125.4 1045.5 238.1 982.7 309.5 920.3 138.5 1037.8 212.1 1004.2 127.7 1044 212 1005.5 170.8 1040.7 152.9 1064.1 248.3 973.1 179.3 1065.9 227.1 991 127.8 1075.6 117.4 1054.4 176.5 1067.4 163 1044.8 323.1 937.6 136.9 1064.9 246.7 952 125.7 1078.6 130.2 1072.1 137.5 1039.4 229.2 968.8 129.8 1073.6 219.8 977.3 135.7 1067.2 199.7 1038.7 320.7 912.1 160 1020.4 164.7 1042.9 317.4 911.6 141.6 1070.1 123.8 1078.6 118.9 1078.6 149.1 1054.1 196.4 1017.9 144.4 1066.5 128.7 1078.6 197.7 982.5 128.6 1043.4 302.1 935.9 316.7 912.2 143.2 1070.3 213.6 1004.1 261.9 942.7 148.5 1013.3 112.2 1058.5 160.2 1023.6 149.4 1027.7 150 1068.6 122.2 1078.4 173.8 1069.3 271.8 929 179.3 1005.5 320.9 910.7 161.8 1052.8 178.1 1010.4 127.3 1077.8 313.7 907.9 288.8 925.8 296.7 920.6 232.6 991.8 169.1 1048.8 204.2 988.5 299.3 914.6 104 1060.2 143.6 1061.8 185.9 1002.4 163.5 1044 159.1 1058.2 128.2 1077.1 218.4 978.2 282.4 924.5 189.4 1052.5 136.4 1065.8 168.7 1062.1 315.2 910.8 146.1 1063.6 304.9 958.8 290 938.6 187.9 1044.4 143.5 1068.9 125.1 1078.6 304.6 915.7 176.2 1039.7 124.5 1078.6 218.2 955.2 266.7 956.8 283.4 947.1 138.1 1064.6 278.7 951.8 139.4 1020.2 228.8 994.9 126 1073.6 171.7 1044.2 188.7 1039.1 118.2 1078.6 305.3 916.1 154.1 1051.1 241.1 981.5 123.7 1078.6 275.1 950.2 263.3 938 214.8 1004.3 360 872.3" fill="none" stroke="none" marker-start="url(#oc)" marker-mid="url(#oc)" marker-end="url(#oc)"/>
<rect x="95.1" y="863.4" width="276.9" height="220.1" fill="none" stroke="#222" stroke-width="1.6" />
<line x1="88.6" y1="1080.6" x2="95.1" y2="1080.6" stroke="#222" stroke-width="1.5" />
<text x="83.1" y="1089.4" font-size="25" text-anchor="end">6</text>
<line x1="99.6" y1="1083.5" x2="99.6" y2="1090" stroke="#222" stroke-width="1.5" />
<text x="99.6" y="1117" font-size="25" text-anchor="middle">6</text>
<line x1="88.6" y1="1047.1" x2="95.1" y2="1047.1" stroke="#222" stroke-width="1.5" />
<text x="83.1" y="1055.9" font-size="25" text-anchor="end">8</text>
<line x1="143.4" y1="1083.5" x2="143.4" y2="1090" stroke="#222" stroke-width="1.5" />
<text x="143.4" y="1117" font-size="25" text-anchor="middle">8</text>
<line x1="88.6" y1="1013.7" x2="95.1" y2="1013.7" stroke="#222" stroke-width="1.5" />
<text x="83.1" y="1022.5" font-size="25" text-anchor="end">10</text>
<line x1="187.1" y1="1083.5" x2="187.1" y2="1090" stroke="#222" stroke-width="1.5" />
<text x="187.1" y="1117" font-size="25" text-anchor="middle">10</text>
<line x1="88.6" y1="980.2" x2="95.1" y2="980.2" stroke="#222" stroke-width="1.5" />
<text x="83.1" y="989" font-size="25" text-anchor="end">12</text>
<line x1="230.9" y1="1083.5" x2="230.9" y2="1090" stroke="#222" stroke-width="1.5" />
<text x="230.9" y="1117" font-size="25" text-anchor="middle">12</text>
<line x1="88.6" y1="946.8" x2="95.1" y2="946.8" stroke="#222" stroke-width="1.5" />
<text x="83.1" y="955.6" font-size="25" text-anchor="end">14</text>
<line x1="274.6" y1="1083.5" x2="274.6" y2="1090" stroke="#222" stroke-width="1.5" />
<text x="274.6" y="1117" font-size="25" text-anchor="middle">14</text>
<line x1="88.6" y1="913.3" x2="95.1" y2="913.3" stroke="#222" stroke-width="1.5" />
<text x="83.1" y="922.1" font-size="25" text-anchor="end">16</text>
<line x1="318.4" y1="1083.5" x2="318.4" y2="1090" stroke="#222" stroke-width="1.5" />
<text x="318.4" y="1117" font-size="25" text-anchor="middle">16</text>
<line x1="88.6" y1="879.8" x2="95.1" y2="879.8" stroke="#222" stroke-width="1.5" />
<text x="83.1" y="888.6" font-size="25" text-anchor="end">18</text>
<line x1="362.2" y1="1083.5" x2="362.2" y2="1090" stroke="#222" stroke-width="1.5" />
<text x="362.2" y="1117" font-size="25" text-anchor="middle">18</text>
<text x="230" y="1145.2" font-size="23.5" text-anchor="middle">TGFβ Set 1</text>
<text transform="translate(42.5 976.5) rotate(-90)" font-size="23.5" text-anchor="middle">TGFβ Set 2</text>
<text x="413" y="438.4" font-size="46" font-weight="bold">d</text>
<text x="533.3" y="444.8" font-size="27" text-anchor="middle" font-weight="bold">Unstim</text>
<text x="668.6" y="444.8" font-size="27" text-anchor="middle" font-weight="bold">TGFβ</text>
<path d="M472 452.5h63.7v2.3h-63.7zM472 458.5h63.7v2.3h-63.7zM472 460.5h63.7v2.3h-63.7zM472 462.5h63.7v2.3h-63.7zM472 466.5h63.7v2.3h-63.7zM472 474.5h63.7v2.3h-63.7zM472 478.5h63.7v2.3h-63.7zM472 480.5h63.7v2.3h-63.7zM472 486.5h63.7v2.3h-63.7zM472 492.5h63.7v2.3h-63.7zM472 498.5h63.7v2.3h-63.7zM472 502.5h63.7v2.3h-63.7zM472 504.5h63.7v2.3h-63.7zM472 510.5h63.7v2.3h-63.7zM472 514.5h63.7v2.3h-63.7zM472 516.5h63.7v2.3h-63.7zM472 518.5h63.7v2.3h-63.7zM472 522.5h63.7v2.3h-63.7zM472 528.5h63.7v2.3h-63.7zM472 530.5h63.7v2.3h-63.7zM472 532.5h63.7v2.3h-63.7zM472 534.5h63.7v2.3h-63.7zM472 540.5h63.7v2.3h-63.7zM472 542.5h63.7v2.3h-63.7zM472 546.5h63.7v2.3h-63.7zM472 558.5h63.7v2.3h-63.7zM472 570.5h63.7v2.3h-63.7zM472 572.5h63.7v2.3h-63.7zM472 576.5h63.7v2.3h-63.7zM472 578.5h63.7v2.3h-63.7zM472 580.5h63.7v2.3h-63.7zM472 582.5h63.7v2.3h-63.7zM472 586.5h63.7v2.3h-63.7zM472 590.5h63.7v2.3h-63.7zM472 596.5h63.7v2.3h-63.7zM472 610.5h63.7v2.3h-63.7zM472 624.5h63.7v2.3h-63.7zM472 628.5h63.7v2.3h-63.7zM472 636.5h63.7v2.3h-63.7zM472 642.5h63.7v2.3h-63.7zM472 644.5h63.7v2.3h-63.7zM472 646.5h63.7v2.3h-63.7zM472 648.5h63.7v2.3h-63.7zM472 650.5h63.7v2.3h-63.7zM472 652.5h63.7v2.3h-63.7zM472 654.5h63.7v2.3h-63.7zM472 656.5h63.7v2.3h-63.7zM472 660.5h63.7v2.3h-63.7zM472 664.5h63.7v2.3h-63.7zM472 668.5h63.7v2.3h-63.7zM472 680.5h63.7v2.3h-63.7zM472 688.5h63.7v2.3h-63.7zM472 694.5h63.7v2.3h-63.7zM472 696.5h63.7v2.3h-63.7zM472 698.5h63.7v2.3h-63.7zM472 700.5h63.7v2.3h-63.7zM472 704.5h63.7v2.3h-63.7zM472 708.5h63.7v2.3h-63.7zM472 710.5h63.7v2.3h-63.7zM472 718.5h63.7v2.3h-63.7zM472 730.5h63.7v2.3h-63.7zM472 732.5h63.7v2.3h-63.7zM472 734.5h63.7v2.3h-63.7zM472 736.5h63.7v2.3h-63.7zM472 740.5h63.7v2.3h-63.7zM472 742.5h63.7v2.3h-63.7zM472 744.5h63.7v2.3h-63.7zM472 746.5h63.7v2.3h-63.7zM472 750.5h63.7v2.3h-63.7zM472 752.5h63.7v2.3h-63.7zM472 758.5h63.7v2.3h-63.7zM472 760.5h63.7v2.3h-63.7zM472 770.5h63.7v2.3h-63.7zM472 780.5h63.7v2.3h-63.7zM472 782.5h63.7v2.3h-63.7zM472 786.5h63.7v2.3h-63.7zM472 790.5h63.7v2.3h-63.7zM472 798.5h63.7v2.3h-63.7zM472 800.5h63.7v2.3h-63.7zM472 802.5h63.7v2.3h-63.7zM472 804.5h63.7v2.3h-63.7zM472 806.5h63.7v2.3h-63.7zM472 808.5h63.7v2.3h-63.7zM472 810.5h63.7v2.3h-63.7zM472 812.5h63.7v2.3h-63.7zM472 820.5h63.7v2.3h-63.7zM472 822.5h63.7v2.3h-63.7zM472 824.5h63.7v2.3h-63.7zM472 826.5h63.7v2.3h-63.7zM472 828.5h63.7v2.3h-63.7zM472 830.5h63.7v2.3h-63.7zM472 834.5h63.7v2.3h-63.7zM535.5 520.5h63.7v2.3h-63.7zM535.5 584.5h63.7v2.3h-63.7zM598.9 846.5h63.7v2.3h-63.7zM598.9 886.7h63.7v2.3h-63.7zM598.9 928.8h63.7v2.3h-63.7zM598.9 936.9h63.7v2.3h-63.7zM598.9 952.9h63.7v2.3h-63.7zM598.9 969h63.7v2.3h-63.7zM598.9 1007.1h63.7v2.3h-63.7zM598.9 1029.2h63.7v2.3h-63.7zM598.9 1035.3h63.7v2.3h-63.7zM662.3 848.5h63.7v2.3h-63.7zM662.3 854.6h63.7v2.3h-63.7zM662.3 860.6h63.7v2.3h-63.7zM662.3 862.6h63.7v2.3h-63.7zM662.3 866.6h63.7v2.3h-63.7zM662.3 870.6h63.7v2.3h-63.7zM662.3 872.6h63.7v2.3h-63.7zM662.3 876.6h63.7v2.3h-63.7zM662.3 878.7h63.7v2.3h-63.7zM662.3 880.7h63.7v2.3h-63.7zM662.3 886.7h63.7v2.3h-63.7zM662.3 894.7h63.7v2.3h-63.7zM662.3 902.7h63.7v2.3h-63.7zM662.3 906.8h63.7v2.3h-63.7zM662.3 908.8h63.7v2.3h-63.7zM662.3 912.8h63.7v2.3h-63.7zM662.3 926.8h63.7v2.3h-63.7zM662.3 928.8h63.7v2.3h-63.7zM662.3 932.9h63.7v2.3h-63.7zM662.3 938.9h63.7v2.3h-63.7zM662.3 940.9h63.7v2.3h-63.7zM662.3 942.9h63.7v2.3h-63.7zM662.3 944.9h63.7v2.3h-63.7zM662.3 952.9h63.7v2.3h-63.7zM662.3 969h63.7v2.3h-63.7zM662.3 977h63.7v2.3h-63.7zM662.3 979h63.7v2.3h-63.7zM662.3 981h63.7v2.3h-63.7zM662.3 983.1h63.7v2.3h-63.7zM662.3 993.1h63.7v2.3h-63.7zM662.3 1005.1h63.7v2.3h-63.7zM662.3 1011.2h63.7v2.3h-63.7zM662.3 1013.2h63.7v2.3h-63.7zM662.3 1019.2h63.7v2.3h-63.7zM662.3 1031.2h63.7v2.3h-63.7zM662.3 1039.3h63.7v2.3h-63.7zM662.3 1047.3h63.7v2.3h-63.7zM662.3 1053.3h63.7v2.3h-63.7zM662.3 1061.4h63.7v2.3h-63.7zM662.3 1065.4h63.7v2.3h-63.7zM662.3 1069.4h63.7v2.3h-63.7z" fill="#d3d7ef"/>
<path d="M472 454.5h63.7v2.3h-63.7zM472 456.5h63.7v2.3h-63.7zM472 464.5h63.7v2.3h-63.7zM472 468.5h63.7v2.3h-63.7zM472 472.5h63.7v2.3h-63.7zM472 476.5h63.7v2.3h-63.7zM472 482.5h63.7v2.3h-63.7zM472 484.5h63.7v2.3h-63.7zM472 490.5h63.7v2.3h-63.7zM472 512.5h63.7v2.3h-63.7zM472 520.5h63.7v2.3h-63.7zM472 524.5h63.7v2.3h-63.7zM472 526.5h63.7v2.3h-63.7zM472 536.5h63.7v2.3h-63.7zM472 550.5h63.7v2.3h-63.7zM472 552.5h63.7v2.3h-63.7zM472 554.5h63.7v2.3h-63.7zM472 556.5h63.7v2.3h-63.7zM472 560.5h63.7v2.3h-63.7zM472 564.5h63.7v2.3h-63.7zM472 566.5h63.7v2.3h-63.7zM472 574.5h63.7v2.3h-63.7zM472 584.5h63.7v2.3h-63.7zM472 588.5h63.7v2.3h-63.7zM472 592.5h63.7v2.3h-63.7zM472 594.5h63.7v2.3h-63.7zM472 598.5h63.7v2.3h-63.7zM472 600.5h63.7v2.3h-63.7zM472 602.5h63.7v2.3h-63.7zM472 606.5h63.7v2.3h-63.7zM472 608.5h63.7v2.3h-63.7zM472 614.5h63.7v2.3h-63.7zM472 618.5h63.7v2.3h-63.7zM472 620.5h63.7v2.3h-63.7zM472 630.5h63.7v2.3h-63.7zM472 638.5h63.7v2.3h-63.7zM472 640.5h63.7v2.3h-63.7zM472 666.5h63.7v2.3h-63.7zM472 672.5h63.7v2.3h-63.7zM472 674.5h63.7v2.3h-63.7zM472 678.5h63.7v2.3h-63.7zM472 684.5h63.7v2.3h-63.7zM472 690.5h63.7v2.3h-63.7zM472 702.5h63.7v2.3h-63.7zM472 706.5h63.7v2.3h-63.7zM472 720.5h63.7v2.3h-63.7zM472 722.5h63.7v2.3h-63.7zM472 724.5h63.7v2.3h-63.7zM472 726.5h63.7v2.3h-63.7zM472 728.5h63.7v2.3h-63.7zM472 756.5h63.7v2.3h-63.7zM472 764.5h63.7v2.3h-63.7zM472 766.5h63.7v2.3h-63.7zM472 774.5h63.7v2.3h-63.7zM472 776.5h63.7v2.3h-63.7zM472 778.5h63.7v2.3h-63.7zM472 788.5h63.7v2.3h-63.7zM472 794.5h63.7v2.3h-63.7zM472 796.5h63.7v2.3h-63.7zM472 818.5h63.7v2.3h-63.7zM472 836.5h63.7v2.3h-63.7zM662.3 838.5h63.7v2.3h-63.7zM662.3 844.5h63.7v2.3h-63.7zM662.3 846.5h63.7v2.3h-63.7zM662.3 856.6h63.7v2.3h-63.7zM662.3 868.6h63.7v2.3h-63.7zM662.3 874.6h63.7v2.3h-63.7zM662.3 884.7h63.7v2.3h-63.7zM662.3 888.7h63.7v2.3h-63.7zM662.3 890.7h63.7v2.3h-63.7zM662.3 892.7h63.7v2.3h-63.7zM662.3 896.7h63.7v2.3h-63.7zM662.3 898.7h63.7v2.3h-63.7zM662.3 900.7h63.7v2.3h-63.7zM662.3 914.8h63.7v2.3h-63.7zM662.3 916.8h63.7v2.3h-63.7zM662.3 924.8h63.7v2.3h-63.7zM662.3 930.9h63.7v2.3h-63.7zM662.3 934.9h63.7v2.3h-63.7zM662.3 936.9h63.7v2.3h-63.7zM662.3 946.9h63.7v2.3h-63.7zM662.3 948.9h63.7v2.3h-63.7zM662.3 959h63.7v2.3h-63.7zM662.3 961h63.7v2.3h-63.7zM662.3 967h63.7v2.3h-63.7zM662.3 973h63.7v2.3h-63.7zM662.3 975h63.7v2.3h-63.7zM662.3 985.1h63.7v2.3h-63.7zM662.3 987.1h63.7v2.3h-63.7zM662.3 989.1h63.7v2.3h-63.7zM662.3 995.1h63.7v2.3h-63.7zM662.3 997.1h63.7v2.3h-63.7zM662.3 1001.1h63.7v2.3h-63.7zM662.3 1003.1h63.7v2.3h-63.7zM662.3 1007.1h63.7v2.3h-63.7zM662.3 1009.2h63.7v2.3h-63.7zM662.3 1015.2h63.7v2.3h-63.7zM662.3 1017.2h63.7v2.3h-63.7zM662.3 1021.2h63.7v2.3h-63.7zM662.3 1029.2h63.7v2.3h-63.7zM662.3 1035.3h63.7v2.3h-63.7zM662.3 1037.3h63.7v2.3h-63.7zM662.3 1041.3h63.7v2.3h-63.7zM662.3 1043.3h63.7v2.3h-63.7zM662.3 1045.3h63.7v2.3h-63.7zM662.3 1051.3h63.7v2.3h-63.7zM662.3 1057.3h63.7v2.3h-63.7zM662.3 1059.3h63.7v2.3h-63.7zM662.3 1063.4h63.7v2.3h-63.7zM662.3 1067.4h63.7v2.3h-63.7zM662.3 1071.4h63.7v2.3h-63.7z" fill="#cdd3ec"/>
<path d="M472 470.5h63.7v2.3h-63.7zM472 488.5h63.7v2.3h-63.7zM472 494.5h63.7v2.3h-63.7zM472 500.5h63.7v2.3h-63.7zM472 506.5h63.7v2.3h-63.7zM472 508.5h63.7v2.3h-63.7zM472 538.5h63.7v2.3h-63.7zM472 544.5h63.7v2.3h-63.7zM472 562.5h63.7v2.3h-63.7zM472 568.5h63.7v2.3h-63.7zM472 604.5h63.7v2.3h-63.7zM472 612.5h63.7v2.3h-63.7zM472 616.5h63.7v2.3h-63.7zM472 622.5h63.7v2.3h-63.7zM472 626.5h63.7v2.3h-63.7zM472 662.5h63.7v2.3h-63.7zM472 670.5h63.7v2.3h-63.7zM472 682.5h63.7v2.3h-63.7zM472 712.5h63.7v2.3h-63.7zM472 714.5h63.7v2.3h-63.7zM472 716.5h63.7v2.3h-63.7zM472 738.5h63.7v2.3h-63.7zM472 748.5h63.7v2.3h-63.7zM472 784.5h63.7v2.3h-63.7zM472 792.5h63.7v2.3h-63.7zM472 816.5h63.7v2.3h-63.7zM472 832.5h63.7v2.3h-63.7zM535.5 456.5h63.7v2.3h-63.7zM535.5 460.5h63.7v2.3h-63.7zM535.5 466.5h63.7v2.3h-63.7zM535.5 476.5h63.7v2.3h-63.7zM535.5 484.5h63.7v2.3h-63.7zM535.5 486.5h63.7v2.3h-63.7zM535.5 488.5h63.7v2.3h-63.7zM535.5 496.5h63.7v2.3h-63.7zM535.5 518.5h63.7v2.3h-63.7zM535.5 524.5h63.7v2.3h-63.7zM535.5 534.5h63.7v2.3h-63.7zM535.5 536.5h63.7v2.3h-63.7zM535.5 546.5h63.7v2.3h-63.7zM535.5 554.5h63.7v2.3h-63.7zM535.5 556.5h63.7v2.3h-63.7zM535.5 562.5h63.7v2.3h-63.7zM535.5 568.5h63.7v2.3h-63.7zM535.5 570.5h63.7v2.3h-63.7zM535.5 576.5h63.7v2.3h-63.7zM535.5 586.5h63.7v2.3h-63.7zM535.5 594.5h63.7v2.3h-63.7zM535.5 596.5h63.7v2.3h-63.7zM535.5 600.5h63.7v2.3h-63.7zM535.5 602.5h63.7v2.3h-63.7zM535.5 606.5h63.7v2.3h-63.7zM535.5 608.5h63.7v2.3h-63.7zM535.5 614.5h63.7v2.3h-63.7zM535.5 620.5h63.7v2.3h-63.7zM535.5 624.5h63.7v2.3h-63.7zM535.5 638.5h63.7v2.3h-63.7zM535.5 648.5h63.7v2.3h-63.7zM535.5 656.5h63.7v2.3h-63.7zM535.5 658.5h63.7v2.3h-63.7zM535.5 676.5h63.7v2.3h-63.7zM535.5 678.5h63.7v2.3h-63.7zM535.5 682.5h63.7v2.3h-63.7zM535.5 688.5h63.7v2.3h-63.7zM535.5 696.5h63.7v2.3h-63.7zM535.5 704.5h63.7v2.3h-63.7zM535.5 706.5h63.7v2.3h-63.7zM535.5 708.5h63.7v2.3h-63.7zM535.5 710.5h63.7v2.3h-63.7zM535.5 720.5h63.7v2.3h-63.7zM535.5 726.5h63.7v2.3h-63.7zM535.5 734.5h63.7v2.3h-63.7zM535.5 738.5h63.7v2.3h-63.7zM535.5 740.5h63.7v2.3h-63.7zM535.5 752.5h63.7v2.3h-63.7zM535.5 754.5h63.7v2.3h-63.7zM535.5 756.5h63.7v2.3h-63.7zM535.5 762.5h63.7v2.3h-63.7zM535.5 768.5h63.7v2.3h-63.7zM535.5 776.5h63.7v2.3h-63.7zM535.5 778.5h63.7v2.3h-63.7zM535.5 804.5h63.7v2.3h-63.7zM535.5 808.5h63.7v2.3h-63.7zM535.5 818.5h63.7v2.3h-63.7zM535.5 822.5h63.7v2.3h-63.7zM535.5 824.5h63.7v2.3h-63.7zM535.5 828.5h63.7v2.3h-63.7zM535.5 830.5h63.7v2.3h-63.7zM535.5 834.5h63.7v2.3h-63.7zM598.9 842.5h63.7v2.3h-63.7zM598.9 844.5h63.7v2.3h-63.7zM598.9 852.6h63.7v2.3h-63.7zM598.9 854.6h63.7v2.3h-63.7zM598.9 860.6h63.7v2.3h-63.7zM598.9 866.6h63.7v2.3h-63.7zM598.9 872.6h63.7v2.3h-63.7zM598.9 876.6h63.7v2.3h-63.7zM598.9 888.7h63.7v2.3h-63.7zM598.9 890.7h63.7v2.3h-63.7zM598.9 900.7h63.7v2.3h-63.7zM598.9 908.8h63.7v2.3h-63.7zM598.9 910.8h63.7v2.3h-63.7zM598.9 912.8h63.7v2.3h-63.7zM598.9 918.8h63.7v2.3h-63.7zM598.9 922.8h63.7v2.3h-63.7zM598.9 924.8h63.7v2.3h-63.7zM598.9 932.9h63.7v2.3h-63.7zM598.9 938.9h63.7v2.3h-63.7zM598.9 940.9h63.7v2.3h-63.7zM598.9 942.9h63.7v2.3h-63.7zM598.9 946.9h63.7v2.3h-63.7zM598.9 948.9h63.7v2.3h-63.7zM598.9 950.9h63.7v2.3h-63.7zM598.9 954.9h63.7v2.3h-63.7zM598.9 957h63.7v2.3h-63.7zM598.9 959h63.7v2.3h-63.7zM598.9 965h63.7v2.3h-63.7zM598.9 967h63.7v2.3h-63.7zM598.9 971h63.7v2.3h-63.7zM598.9 973h63.7v2.3h-63.7zM598.9 975h63.7v2.3h-63.7zM598.9 983.1h63.7v2.3h-63.7zM598.9 997.1h63.7v2.3h-63.7zM598.9 1001.1h63.7v2.3h-63.7zM598.9 1003.1h63.7v2.3h-63.7zM598.9 1009.2h63.7v2.3h-63.7zM598.9 1011.2h63.7v2.3h-63.7zM598.9 1015.2h63.7v2.3h-63.7zM598.9 1017.2h63.7v2.3h-63.7zM598.9 1021.2h63.7v2.3h-63.7zM598.9 1023.2h63.7v2.3h-63.7zM598.9 1031.2h63.7v2.3h-63.7zM598.9 1037.3h63.7v2.3h-63.7zM598.9 1041.3h63.7v2.3h-63.7zM598.9 1045.3h63.7v2.3h-63.7zM598.9 1047.3h63.7v2.3h-63.7zM598.9 1053.3h63.7v2.3h-63.7zM598.9 1055.3h63.7v2.3h-63.7zM598.9 1057.3h63.7v2.3h-63.7zM598.9 1059.3h63.7v2.3h-63.7zM598.9 1061.4h63.7v2.3h-63.7zM598.9 1063.4h63.7v2.3h-63.7zM598.9 1069.4h63.7v2.3h-63.7zM662.3 840.5h63.7v2.3h-63.7zM662.3 963h63.7v2.3h-63.7z" fill="#d8dcf1"/>
<path d="M472 496.5h63.7v2.3h-63.7zM472 754.5h63.7v2.3h-63.7zM535.5 724.5h63.7v2.3h-63.7zM662.3 954.9h63.7v2.3h-63.7z" fill="#bcc4e6"/>
<path d="M472 548.5h63.7v2.3h-63.7zM662.3 1033.2h63.7v2.3h-63.7z" fill="#c2c9e8"/>
<path d="M472 632.5h63.7v2.3h-63.7zM472 676.5h63.7v2.3h-63.7zM472 686.5h63.7v2.3h-63.7zM472 762.5h63.7v2.3h-63.7zM472 768.5h63.7v2.3h-63.7zM472 814.5h63.7v2.3h-63.7zM662.3 842.5h63.7v2.3h-63.7zM662.3 850.5h63.7v2.3h-63.7zM662.3 852.6h63.7v2.3h-63.7zM662.3 864.6h63.7v2.3h-63.7zM662.3 882.7h63.7v2.3h-63.7zM662.3 904.8h63.7v2.3h-63.7zM662.3 910.8h63.7v2.3h-63.7zM662.3 918.8h63.7v2.3h-63.7zM662.3 920.8h63.7v2.3h-63.7zM662.3 922.8h63.7v2.3h-63.7zM662.3 950.9h63.7v2.3h-63.7zM662.3 957h63.7v2.3h-63.7zM662.3 971h63.7v2.3h-63.7zM662.3 991.1h63.7v2.3h-63.7zM662.3 999.1h63.7v2.3h-63.7zM662.3 1025.2h63.7v2.3h-63.7zM662.3 1027.2h63.7v2.3h-63.7zM662.3 1049.3h63.7v2.3h-63.7zM662.3 1055.3h63.7v2.3h-63.7z" fill="#c8ceea"/>
<path d="M472 634.5h63.7v2.3h-63.7zM472 658.5h63.7v2.3h-63.7zM472 692.5h63.7v2.3h-63.7zM535.5 452.5h63.7v2.3h-63.7zM535.5 454.5h63.7v2.3h-63.7zM535.5 458.5h63.7v2.3h-63.7zM535.5 462.5h63.7v2.3h-63.7zM535.5 464.5h63.7v2.3h-63.7zM535.5 468.5h63.7v2.3h-63.7zM535.5 470.5h63.7v2.3h-63.7zM535.5 472.5h63.7v2.3h-63.7zM535.5 474.5h63.7v2.3h-63.7zM535.5 478.5h63.7v2.3h-63.7zM535.5 480.5h63.7v2.3h-63.7zM535.5 490.5h63.7v2.3h-63.7zM535.5 492.5h63.7v2.3h-63.7zM535.5 494.5h63.7v2.3h-63.7zM535.5 498.5h63.7v2.3h-63.7zM535.5 502.5h63.7v2.3h-63.7zM535.5 506.5h63.7v2.3h-63.7zM535.5 512.5h63.7v2.3h-63.7zM535.5 514.5h63.7v2.3h-63.7zM535.5 526.5h63.7v2.3h-63.7zM535.5 528.5h63.7v2.3h-63.7zM535.5 530.5h63.7v2.3h-63.7zM535.5 538.5h63.7v2.3h-63.7zM535.5 540.5h63.7v2.3h-63.7zM535.5 544.5h63.7v2.3h-63.7zM535.5 550.5h63.7v2.3h-63.7zM535.5 552.5h63.7v2.3h-63.7zM535.5 558.5h63.7v2.3h-63.7zM535.5 560.5h63.7v2.3h-63.7zM535.5 564.5h63.7v2.3h-63.7zM535.5 566.5h63.7v2.3h-63.7zM535.5 572.5h63.7v2.3h-63.7zM535.5 574.5h63.7v2.3h-63.7zM535.5 580.5h63.7v2.3h-63.7zM535.5 588.5h63.7v2.3h-63.7zM535.5 590.5h63.7v2.3h-63.7zM535.5 598.5h63.7v2.3h-63.7zM535.5 610.5h63.7v2.3h-63.7zM535.5 612.5h63.7v2.3h-63.7zM535.5 616.5h63.7v2.3h-63.7zM535.5 618.5h63.7v2.3h-63.7zM535.5 626.5h63.7v2.3h-63.7zM535.5 632.5h63.7v2.3h-63.7zM535.5 634.5h63.7v2.3h-63.7zM535.5 640.5h63.7v2.3h-63.7zM535.5 642.5h63.7v2.3h-63.7zM535.5 644.5h63.7v2.3h-63.7zM535.5 646.5h63.7v2.3h-63.7zM535.5 650.5h63.7v2.3h-63.7zM535.5 652.5h63.7v2.3h-63.7zM535.5 660.5h63.7v2.3h-63.7zM535.5 662.5h63.7v2.3h-63.7zM535.5 668.5h63.7v2.3h-63.7zM535.5 670.5h63.7v2.3h-63.7zM535.5 672.5h63.7v2.3h-63.7zM535.5 674.5h63.7v2.3h-63.7zM535.5 680.5h63.7v2.3h-63.7zM535.5 684.5h63.7v2.3h-63.7zM535.5 686.5h63.7v2.3h-63.7zM535.5 690.5h63.7v2.3h-63.7zM535.5 698.5h63.7v2.3h-63.7zM535.5 700.5h63.7v2.3h-63.7zM535.5 714.5h63.7v2.3h-63.7zM535.5 716.5h63.7v2.3h-63.7zM535.5 718.5h63.7v2.3h-63.7zM535.5 722.5h63.7v2.3h-63.7zM535.5 728.5h63.7v2.3h-63.7zM535.5 730.5h63.7v2.3h-63.7zM535.5 732.5h63.7v2.3h-63.7zM535.5 736.5h63.7v2.3h-63.7zM535.5 744.5h63.7v2.3h-63.7zM535.5 746.5h63.7v2.3h-63.7zM535.5 750.5h63.7v2.3h-63.7zM535.5 758.5h63.7v2.3h-63.7zM535.5 760.5h63.7v2.3h-63.7zM535.5 764.5h63.7v2.3h-63.7zM535.5 766.5h63.7v2.3h-63.7zM535.5 770.5h63.7v2.3h-63.7zM535.5 772.5h63.7v2.3h-63.7zM535.5 780.5h63.7v2.3h-63.7zM535.5 786.5h63.7v2.3h-63.7zM535.5 788.5h63.7v2.3h-63.7zM535.5 790.5h63.7v2.3h-63.7zM535.5 796.5h63.7v2.3h-63.7zM535.5 798.5h63.7v2.3h-63.7zM535.5 802.5h63.7v2.3h-63.7zM535.5 806.5h63.7v2.3h-63.7zM535.5 810.5h63.7v2.3h-63.7zM535.5 814.5h63.7v2.3h-63.7zM535.5 816.5h63.7v2.3h-63.7zM535.5 832.5h63.7v2.3h-63.7zM598.9 838.5h63.7v2.3h-63.7zM598.9 840.5h63.7v2.3h-63.7zM598.9 848.5h63.7v2.3h-63.7zM598.9 850.5h63.7v2.3h-63.7zM598.9 856.6h63.7v2.3h-63.7zM598.9 858.6h63.7v2.3h-63.7zM598.9 862.6h63.7v2.3h-63.7zM598.9 864.6h63.7v2.3h-63.7zM598.9 868.6h63.7v2.3h-63.7zM598.9 870.6h63.7v2.3h-63.7zM598.9 874.6h63.7v2.3h-63.7zM598.9 878.7h63.7v2.3h-63.7zM598.9 880.7h63.7v2.3h-63.7zM598.9 882.7h63.7v2.3h-63.7zM598.9 892.7h63.7v2.3h-63.7zM598.9 894.7h63.7v2.3h-63.7zM598.9 896.7h63.7v2.3h-63.7zM598.9 898.7h63.7v2.3h-63.7zM598.9 902.7h63.7v2.3h-63.7zM598.9 904.8h63.7v2.3h-63.7zM598.9 914.8h63.7v2.3h-63.7zM598.9 916.8h63.7v2.3h-63.7zM598.9 920.8h63.7v2.3h-63.7zM598.9 926.8h63.7v2.3h-63.7zM598.9 934.9h63.7v2.3h-63.7zM598.9 944.9h63.7v2.3h-63.7zM598.9 961h63.7v2.3h-63.7zM598.9 963h63.7v2.3h-63.7zM598.9 977h63.7v2.3h-63.7zM598.9 979h63.7v2.3h-63.7zM598.9 985.1h63.7v2.3h-63.7zM598.9 987.1h63.7v2.3h-63.7zM598.9 991.1h63.7v2.3h-63.7zM598.9 993.1h63.7v2.3h-63.7zM598.9 999.1h63.7v2.3h-63.7zM598.9 1019.2h63.7v2.3h-63.7zM598.9 1025.2h63.7v2.3h-63.7zM598.9 1027.2h63.7v2.3h-63.7zM598.9 1033.2h63.7v2.3h-63.7zM598.9 1039.3h63.7v2.3h-63.7zM598.9 1043.3h63.7v2.3h-63.7zM598.9 1051.3h63.7v2.3h-63.7zM598.9 1065.4h63.7v2.3h-63.7zM598.9 1067.4h63.7v2.3h-63.7zM662.3 1023.2h63.7v2.3h-63.7z" fill="#dee1f3"/>
<path d="M472 772.5h63.7v2.3h-63.7zM598.9 981h63.7v2.3h-63.7z" fill="#eff0f9"/>
<path d="M535.5 482.5h63.7v2.3h-63.7zM535.5 500.5h63.7v2.3h-63.7zM535.5 504.5h63.7v2.3h-63.7zM535.5 508.5h63.7v2.3h-63.7zM535.5 510.5h63.7v2.3h-63.7zM535.5 516.5h63.7v2.3h-63.7zM535.5 522.5h63.7v2.3h-63.7zM535.5 542.5h63.7v2.3h-63.7zM535.5 548.5h63.7v2.3h-63.7zM535.5 578.5h63.7v2.3h-63.7zM535.5 582.5h63.7v2.3h-63.7zM535.5 604.5h63.7v2.3h-63.7zM535.5 622.5h63.7v2.3h-63.7zM535.5 628.5h63.7v2.3h-63.7zM535.5 630.5h63.7v2.3h-63.7zM535.5 636.5h63.7v2.3h-63.7zM535.5 654.5h63.7v2.3h-63.7zM535.5 664.5h63.7v2.3h-63.7zM535.5 666.5h63.7v2.3h-63.7zM535.5 694.5h63.7v2.3h-63.7zM535.5 702.5h63.7v2.3h-63.7zM535.5 712.5h63.7v2.3h-63.7zM535.5 742.5h63.7v2.3h-63.7zM535.5 748.5h63.7v2.3h-63.7zM535.5 784.5h63.7v2.3h-63.7zM535.5 792.5h63.7v2.3h-63.7zM535.5 794.5h63.7v2.3h-63.7zM535.5 800.5h63.7v2.3h-63.7zM535.5 812.5h63.7v2.3h-63.7zM535.5 820.5h63.7v2.3h-63.7zM535.5 826.5h63.7v2.3h-63.7zM535.5 836.5h63.7v2.3h-63.7zM598.9 884.7h63.7v2.3h-63.7zM598.9 906.8h63.7v2.3h-63.7zM598.9 930.9h63.7v2.3h-63.7zM598.9 995.1h63.7v2.3h-63.7zM598.9 1005.1h63.7v2.3h-63.7zM598.9 1013.2h63.7v2.3h-63.7zM598.9 1049.3h63.7v2.3h-63.7zM598.9 1071.4h63.7v2.3h-63.7z" fill="#e4e6f5"/>
<path d="M535.5 532.5h63.7v2.3h-63.7zM535.5 692.5h63.7v2.3h-63.7z" fill="#f4f5fb"/>
<path d="M535.5 592.5h63.7v2.3h-63.7zM535.5 774.5h63.7v2.3h-63.7zM535.5 782.5h63.7v2.3h-63.7zM598.9 989.1h63.7v2.3h-63.7z" fill="#e9ebf7"/>
<path d="M598.9 452.5h63.7v2.3h-63.7zM598.9 454.5h63.7v2.3h-63.7zM598.9 462.5h63.7v2.3h-63.7zM598.9 470.5h63.7v2.3h-63.7zM598.9 480.5h63.7v2.3h-63.7zM598.9 482.5h63.7v2.3h-63.7zM598.9 512.5h63.7v2.3h-63.7zM598.9 526.5h63.7v2.3h-63.7zM598.9 544.5h63.7v2.3h-63.7zM598.9 556.5h63.7v2.3h-63.7zM598.9 558.5h63.7v2.3h-63.7zM598.9 564.5h63.7v2.3h-63.7zM598.9 566.5h63.7v2.3h-63.7zM598.9 576.5h63.7v2.3h-63.7zM598.9 592.5h63.7v2.3h-63.7zM598.9 600.5h63.7v2.3h-63.7zM598.9 602.5h63.7v2.3h-63.7zM598.9 624.5h63.7v2.3h-63.7zM598.9 636.5h63.7v2.3h-63.7zM598.9 652.5h63.7v2.3h-63.7zM598.9 658.5h63.7v2.3h-63.7zM598.9 664.5h63.7v2.3h-63.7zM598.9 668.5h63.7v2.3h-63.7zM598.9 676.5h63.7v2.3h-63.7zM598.9 678.5h63.7v2.3h-63.7zM598.9 702.5h63.7v2.3h-63.7zM598.9 706.5h63.7v2.3h-63.7zM598.9 738.5h63.7v2.3h-63.7zM598.9 740.5h63.7v2.3h-63.7zM598.9 742.5h63.7v2.3h-63.7zM598.9 744.5h63.7v2.3h-63.7zM598.9 752.5h63.7v2.3h-63.7zM598.9 758.5h63.7v2.3h-63.7zM598.9 760.5h63.7v2.3h-63.7zM598.9 762.5h63.7v2.3h-63.7zM598.9 764.5h63.7v2.3h-63.7zM598.9 766.5h63.7v2.3h-63.7zM598.9 780.5h63.7v2.3h-63.7zM598.9 782.5h63.7v2.3h-63.7zM598.9 788.5h63.7v2.3h-63.7zM598.9 794.5h63.7v2.3h-63.7zM598.9 800.5h63.7v2.3h-63.7zM598.9 822.5h63.7v2.3h-63.7z" fill="#475cae"/>
<path d="M598.9 456.5h63.7v2.3h-63.7zM598.9 458.5h63.7v2.3h-63.7zM598.9 460.5h63.7v2.3h-63.7zM598.9 466.5h63.7v2.3h-63.7zM598.9 472.5h63.7v2.3h-63.7zM598.9 476.5h63.7v2.3h-63.7zM598.9 488.5h63.7v2.3h-63.7zM598.9 492.5h63.7v2.3h-63.7zM598.9 494.5h63.7v2.3h-63.7zM598.9 506.5h63.7v2.3h-63.7zM598.9 514.5h63.7v2.3h-63.7zM598.9 540.5h63.7v2.3h-63.7zM598.9 584.5h63.7v2.3h-63.7zM598.9 594.5h63.7v2.3h-63.7zM598.9 638.5h63.7v2.3h-63.7zM598.9 642.5h63.7v2.3h-63.7zM598.9 646.5h63.7v2.3h-63.7zM598.9 648.5h63.7v2.3h-63.7zM598.9 660.5h63.7v2.3h-63.7zM598.9 662.5h63.7v2.3h-63.7zM598.9 672.5h63.7v2.3h-63.7zM598.9 690.5h63.7v2.3h-63.7zM598.9 700.5h63.7v2.3h-63.7zM598.9 704.5h63.7v2.3h-63.7zM598.9 708.5h63.7v2.3h-63.7zM598.9 712.5h63.7v2.3h-63.7zM598.9 720.5h63.7v2.3h-63.7zM598.9 726.5h63.7v2.3h-63.7zM598.9 728.5h63.7v2.3h-63.7zM598.9 730.5h63.7v2.3h-63.7zM598.9 736.5h63.7v2.3h-63.7zM598.9 750.5h63.7v2.3h-63.7zM598.9 768.5h63.7v2.3h-63.7zM598.9 774.5h63.7v2.3h-63.7zM598.9 798.5h63.7v2.3h-63.7zM598.9 810.5h63.7v2.3h-63.7zM598.9 812.5h63.7v2.3h-63.7zM598.9 814.5h63.7v2.3h-63.7zM598.9 828.5h63.7v2.3h-63.7zM472 838.5h63.7v2.3h-63.7zM472 842.5h63.7v2.3h-63.7zM472 850.5h63.7v2.3h-63.7zM472 858.6h63.7v2.3h-63.7zM472 860.6h63.7v2.3h-63.7zM472 874.6h63.7v2.3h-63.7zM472 882.7h63.7v2.3h-63.7zM472 886.7h63.7v2.3h-63.7zM472 892.7h63.7v2.3h-63.7zM472 894.7h63.7v2.3h-63.7zM472 898.7h63.7v2.3h-63.7zM472 900.7h63.7v2.3h-63.7zM472 902.7h63.7v2.3h-63.7zM472 904.8h63.7v2.3h-63.7zM472 906.8h63.7v2.3h-63.7zM472 908.8h63.7v2.3h-63.7zM472 910.8h63.7v2.3h-63.7zM472 912.8h63.7v2.3h-63.7zM472 922.8h63.7v2.3h-63.7zM472 924.8h63.7v2.3h-63.7zM472 928.8h63.7v2.3h-63.7zM472 930.9h63.7v2.3h-63.7zM472 934.9h63.7v2.3h-63.7zM472 942.9h63.7v2.3h-63.7zM472 948.9h63.7v2.3h-63.7zM472 954.9h63.7v2.3h-63.7zM472 961h63.7v2.3h-63.7zM472 979h63.7v2.3h-63.7zM472 985.1h63.7v2.3h-63.7zM472 989.1h63.7v2.3h-63.7zM472 993.1h63.7v2.3h-63.7zM472 995.1h63.7v2.3h-63.7zM472 997.1h63.7v2.3h-63.7zM472 999.1h63.7v2.3h-63.7zM472 1005.1h63.7v2.3h-63.7zM472 1009.2h63.7v2.3h-63.7zM472 1017.2h63.7v2.3h-63.7zM472 1039.3h63.7v2.3h-63.7zM472 1045.3h63.7v2.3h-63.7zM472 1047.3h63.7v2.3h-63.7zM472 1051.3h63.7v2.3h-63.7zM472 1059.3h63.7v2.3h-63.7zM472 1063.4h63.7v2.3h-63.7z" fill="#5569b6"/>
<path d="M598.9 464.5h63.7v2.3h-63.7zM598.9 468.5h63.7v2.3h-63.7zM598.9 474.5h63.7v2.3h-63.7zM598.9 484.5h63.7v2.3h-63.7zM598.9 486.5h63.7v2.3h-63.7zM598.9 490.5h63.7v2.3h-63.7zM598.9 496.5h63.7v2.3h-63.7zM598.9 500.5h63.7v2.3h-63.7zM598.9 502.5h63.7v2.3h-63.7zM598.9 504.5h63.7v2.3h-63.7zM598.9 508.5h63.7v2.3h-63.7zM598.9 510.5h63.7v2.3h-63.7zM598.9 518.5h63.7v2.3h-63.7zM598.9 522.5h63.7v2.3h-63.7zM598.9 524.5h63.7v2.3h-63.7zM598.9 528.5h63.7v2.3h-63.7zM598.9 530.5h63.7v2.3h-63.7zM598.9 532.5h63.7v2.3h-63.7zM598.9 534.5h63.7v2.3h-63.7zM598.9 536.5h63.7v2.3h-63.7zM598.9 538.5h63.7v2.3h-63.7zM598.9 542.5h63.7v2.3h-63.7zM598.9 546.5h63.7v2.3h-63.7zM598.9 548.5h63.7v2.3h-63.7zM598.9 550.5h63.7v2.3h-63.7zM598.9 554.5h63.7v2.3h-63.7zM598.9 560.5h63.7v2.3h-63.7zM598.9 562.5h63.7v2.3h-63.7zM598.9 568.5h63.7v2.3h-63.7zM598.9 570.5h63.7v2.3h-63.7zM598.9 572.5h63.7v2.3h-63.7zM598.9 578.5h63.7v2.3h-63.7zM598.9 582.5h63.7v2.3h-63.7zM598.9 588.5h63.7v2.3h-63.7zM598.9 596.5h63.7v2.3h-63.7zM598.9 598.5h63.7v2.3h-63.7zM598.9 606.5h63.7v2.3h-63.7zM598.9 608.5h63.7v2.3h-63.7zM598.9 612.5h63.7v2.3h-63.7zM598.9 614.5h63.7v2.3h-63.7zM598.9 616.5h63.7v2.3h-63.7zM598.9 618.5h63.7v2.3h-63.7zM598.9 620.5h63.7v2.3h-63.7zM598.9 626.5h63.7v2.3h-63.7zM598.9 628.5h63.7v2.3h-63.7zM598.9 630.5h63.7v2.3h-63.7zM598.9 632.5h63.7v2.3h-63.7zM598.9 634.5h63.7v2.3h-63.7zM598.9 640.5h63.7v2.3h-63.7zM598.9 644.5h63.7v2.3h-63.7zM598.9 650.5h63.7v2.3h-63.7zM598.9 654.5h63.7v2.3h-63.7zM598.9 656.5h63.7v2.3h-63.7zM598.9 666.5h63.7v2.3h-63.7zM598.9 680.5h63.7v2.3h-63.7zM598.9 684.5h63.7v2.3h-63.7zM598.9 686.5h63.7v2.3h-63.7zM598.9 688.5h63.7v2.3h-63.7zM598.9 692.5h63.7v2.3h-63.7zM598.9 694.5h63.7v2.3h-63.7zM598.9 696.5h63.7v2.3h-63.7zM598.9 698.5h63.7v2.3h-63.7zM598.9 710.5h63.7v2.3h-63.7zM598.9 714.5h63.7v2.3h-63.7zM598.9 716.5h63.7v2.3h-63.7zM598.9 722.5h63.7v2.3h-63.7zM598.9 724.5h63.7v2.3h-63.7zM598.9 732.5h63.7v2.3h-63.7zM598.9 734.5h63.7v2.3h-63.7zM598.9 746.5h63.7v2.3h-63.7zM598.9 748.5h63.7v2.3h-63.7zM598.9 754.5h63.7v2.3h-63.7zM598.9 756.5h63.7v2.3h-63.7zM598.9 770.5h63.7v2.3h-63.7zM598.9 776.5h63.7v2.3h-63.7zM598.9 778.5h63.7v2.3h-63.7zM598.9 786.5h63.7v2.3h-63.7zM598.9 790.5h63.7v2.3h-63.7zM598.9 792.5h63.7v2.3h-63.7zM598.9 796.5h63.7v2.3h-63.7zM598.9 802.5h63.7v2.3h-63.7zM598.9 804.5h63.7v2.3h-63.7zM598.9 808.5h63.7v2.3h-63.7zM598.9 818.5h63.7v2.3h-63.7zM598.9 820.5h63.7v2.3h-63.7zM598.9 824.5h63.7v2.3h-63.7zM598.9 826.5h63.7v2.3h-63.7zM598.9 830.5h63.7v2.3h-63.7zM598.9 832.5h63.7v2.3h-63.7zM598.9 834.5h63.7v2.3h-63.7zM598.9 836.5h63.7v2.3h-63.7zM662.3 492.5h63.7v2.3h-63.7zM472 846.5h63.7v2.3h-63.7zM472 852.6h63.7v2.3h-63.7zM472 872.6h63.7v2.3h-63.7zM472 916.8h63.7v2.3h-63.7zM472 965h63.7v2.3h-63.7zM472 975h63.7v2.3h-63.7zM472 1043.3h63.7v2.3h-63.7zM472 1071.4h63.7v2.3h-63.7z" fill="#4e62b2"/>
<path d="M598.9 478.5h63.7v2.3h-63.7zM598.9 520.5h63.7v2.3h-63.7zM598.9 552.5h63.7v2.3h-63.7zM598.9 574.5h63.7v2.3h-63.7zM598.9 610.5h63.7v2.3h-63.7zM598.9 622.5h63.7v2.3h-63.7zM598.9 670.5h63.7v2.3h-63.7zM598.9 674.5h63.7v2.3h-63.7zM598.9 682.5h63.7v2.3h-63.7zM598.9 816.5h63.7v2.3h-63.7zM472 880.7h63.7v2.3h-63.7z" fill="#3f55ab"/>
<path d="M598.9 498.5h63.7v2.3h-63.7zM598.9 516.5h63.7v2.3h-63.7zM598.9 590.5h63.7v2.3h-63.7zM598.9 718.5h63.7v2.3h-63.7zM598.9 806.5h63.7v2.3h-63.7zM662.3 552.5h63.7v2.3h-63.7zM662.3 554.5h63.7v2.3h-63.7zM662.3 560.5h63.7v2.3h-63.7zM662.3 594.5h63.7v2.3h-63.7zM662.3 600.5h63.7v2.3h-63.7zM662.3 650.5h63.7v2.3h-63.7zM662.3 658.5h63.7v2.3h-63.7zM662.3 676.5h63.7v2.3h-63.7zM662.3 706.5h63.7v2.3h-63.7zM662.3 730.5h63.7v2.3h-63.7zM662.3 798.5h63.7v2.3h-63.7zM662.3 802.5h63.7v2.3h-63.7zM662.3 808.5h63.7v2.3h-63.7zM662.3 814.5h63.7v2.3h-63.7zM662.3 836.5h63.7v2.3h-63.7zM472 840.5h63.7v2.3h-63.7zM472 844.5h63.7v2.3h-63.7zM472 856.6h63.7v2.3h-63.7zM472 864.6h63.7v2.3h-63.7zM472 866.6h63.7v2.3h-63.7zM472 868.6h63.7v2.3h-63.7zM472 870.6h63.7v2.3h-63.7zM472 876.6h63.7v2.3h-63.7zM472 878.7h63.7v2.3h-63.7zM472 884.7h63.7v2.3h-63.7zM472 888.7h63.7v2.3h-63.7zM472 890.7h63.7v2.3h-63.7zM472 896.7h63.7v2.3h-63.7zM472 914.8h63.7v2.3h-63.7zM472 920.8h63.7v2.3h-63.7zM472 926.8h63.7v2.3h-63.7zM472 932.9h63.7v2.3h-63.7zM472 936.9h63.7v2.3h-63.7zM472 938.9h63.7v2.3h-63.7zM472 940.9h63.7v2.3h-63.7zM472 944.9h63.7v2.3h-63.7zM472 946.9h63.7v2.3h-63.7zM472 950.9h63.7v2.3h-63.7zM472 957h63.7v2.3h-63.7zM472 959h63.7v2.3h-63.7zM472 963h63.7v2.3h-63.7zM472 967h63.7v2.3h-63.7zM472 969h63.7v2.3h-63.7zM472 973h63.7v2.3h-63.7zM472 977h63.7v2.3h-63.7zM472 981h63.7v2.3h-63.7zM472 987.1h63.7v2.3h-63.7zM472 991.1h63.7v2.3h-63.7zM472 1001.1h63.7v2.3h-63.7zM472 1007.1h63.7v2.3h-63.7zM472 1011.2h63.7v2.3h-63.7zM472 1015.2h63.7v2.3h-63.7zM472 1019.2h63.7v2.3h-63.7zM472 1021.2h63.7v2.3h-63.7zM472 1025.2h63.7v2.3h-63.7zM472 1027.2h63.7v2.3h-63.7zM472 1029.2h63.7v2.3h-63.7zM472 1031.2h63.7v2.3h-63.7zM472 1033.2h63.7v2.3h-63.7zM472 1035.3h63.7v2.3h-63.7zM472 1037.3h63.7v2.3h-63.7zM472 1041.3h63.7v2.3h-63.7zM472 1049.3h63.7v2.3h-63.7zM472 1053.3h63.7v2.3h-63.7zM472 1057.3h63.7v2.3h-63.7zM472 1061.4h63.7v2.3h-63.7zM472 1065.4h63.7v2.3h-63.7zM472 1069.4h63.7v2.3h-63.7zM535.5 838.5h63.7v2.3h-63.7zM535.5 969h63.7v2.3h-63.7zM535.5 1053.3h63.7v2.3h-63.7zM535.5 1061.4h63.7v2.3h-63.7z" fill="#5d6fb9"/>
<path d="M598.9 580.5h63.7v2.3h-63.7zM662.3 458.5h63.7v2.3h-63.7zM662.3 460.5h63.7v2.3h-63.7zM662.3 462.5h63.7v2.3h-63.7zM662.3 470.5h63.7v2.3h-63.7zM662.3 474.5h63.7v2.3h-63.7zM662.3 506.5h63.7v2.3h-63.7zM662.3 516.5h63.7v2.3h-63.7zM662.3 518.5h63.7v2.3h-63.7zM662.3 520.5h63.7v2.3h-63.7zM662.3 524.5h63.7v2.3h-63.7zM662.3 528.5h63.7v2.3h-63.7zM662.3 530.5h63.7v2.3h-63.7zM662.3 536.5h63.7v2.3h-63.7zM662.3 544.5h63.7v2.3h-63.7zM662.3 550.5h63.7v2.3h-63.7zM662.3 558.5h63.7v2.3h-63.7zM662.3 562.5h63.7v2.3h-63.7zM662.3 564.5h63.7v2.3h-63.7zM662.3 568.5h63.7v2.3h-63.7zM662.3 570.5h63.7v2.3h-63.7zM662.3 576.5h63.7v2.3h-63.7zM662.3 580.5h63.7v2.3h-63.7zM662.3 582.5h63.7v2.3h-63.7zM662.3 590.5h63.7v2.3h-63.7zM662.3 592.5h63.7v2.3h-63.7zM662.3 602.5h63.7v2.3h-63.7zM662.3 604.5h63.7v2.3h-63.7zM662.3 606.5h63.7v2.3h-63.7zM662.3 610.5h63.7v2.3h-63.7zM662.3 630.5h63.7v2.3h-63.7zM662.3 632.5h63.7v2.3h-63.7zM662.3 634.5h63.7v2.3h-63.7zM662.3 638.5h63.7v2.3h-63.7zM662.3 670.5h63.7v2.3h-63.7zM662.3 688.5h63.7v2.3h-63.7zM662.3 694.5h63.7v2.3h-63.7zM662.3 696.5h63.7v2.3h-63.7zM662.3 698.5h63.7v2.3h-63.7zM662.3 700.5h63.7v2.3h-63.7zM662.3 704.5h63.7v2.3h-63.7zM662.3 708.5h63.7v2.3h-63.7zM662.3 710.5h63.7v2.3h-63.7zM662.3 712.5h63.7v2.3h-63.7zM662.3 714.5h63.7v2.3h-63.7zM662.3 726.5h63.7v2.3h-63.7zM662.3 732.5h63.7v2.3h-63.7zM662.3 734.5h63.7v2.3h-63.7zM662.3 740.5h63.7v2.3h-63.7zM662.3 742.5h63.7v2.3h-63.7zM662.3 756.5h63.7v2.3h-63.7zM662.3 764.5h63.7v2.3h-63.7zM662.3 768.5h63.7v2.3h-63.7zM662.3 770.5h63.7v2.3h-63.7zM662.3 772.5h63.7v2.3h-63.7zM662.3 774.5h63.7v2.3h-63.7zM662.3 780.5h63.7v2.3h-63.7zM662.3 782.5h63.7v2.3h-63.7zM662.3 784.5h63.7v2.3h-63.7zM662.3 790.5h63.7v2.3h-63.7zM662.3 804.5h63.7v2.3h-63.7zM662.3 812.5h63.7v2.3h-63.7zM662.3 820.5h63.7v2.3h-63.7zM662.3 822.5h63.7v2.3h-63.7zM662.3 830.5h63.7v2.3h-63.7zM662.3 834.5h63.7v2.3h-63.7zM472 848.5h63.7v2.3h-63.7zM472 854.6h63.7v2.3h-63.7zM472 862.6h63.7v2.3h-63.7zM472 918.8h63.7v2.3h-63.7zM472 952.9h63.7v2.3h-63.7zM472 971h63.7v2.3h-63.7zM472 983.1h63.7v2.3h-63.7zM472 1003.1h63.7v2.3h-63.7zM472 1013.2h63.7v2.3h-63.7zM472 1023.2h63.7v2.3h-63.7zM472 1055.3h63.7v2.3h-63.7zM472 1067.4h63.7v2.3h-63.7zM535.5 852.6h63.7v2.3h-63.7zM535.5 854.6h63.7v2.3h-63.7zM535.5 856.6h63.7v2.3h-63.7zM535.5 880.7h63.7v2.3h-63.7zM535.5 904.8h63.7v2.3h-63.7zM535.5 914.8h63.7v2.3h-63.7zM535.5 922.8h63.7v2.3h-63.7zM535.5 924.8h63.7v2.3h-63.7zM535.5 930.9h63.7v2.3h-63.7zM535.5 934.9h63.7v2.3h-63.7zM535.5 936.9h63.7v2.3h-63.7zM535.5 944.9h63.7v2.3h-63.7zM535.5 971h63.7v2.3h-63.7zM535.5 977h63.7v2.3h-63.7zM535.5 987.1h63.7v2.3h-63.7zM535.5 991.1h63.7v2.3h-63.7zM535.5 995.1h63.7v2.3h-63.7zM535.5 1001.1h63.7v2.3h-63.7zM535.5 1005.1h63.7v2.3h-63.7zM535.5 1017.2h63.7v2.3h-63.7zM535.5 1025.2h63.7v2.3h-63.7zM535.5 1027.2h63.7v2.3h-63.7zM535.5 1029.2h63.7v2.3h-63.7zM535.5 1031.2h63.7v2.3h-63.7zM535.5 1051.3h63.7v2.3h-63.7zM535.5 1055.3h63.7v2.3h-63.7zM535.5 1063.4h63.7v2.3h-63.7z" fill="#6476bd"/>
<path d="M598.9 586.5h63.7v2.3h-63.7zM598.9 604.5h63.7v2.3h-63.7zM598.9 772.5h63.7v2.3h-63.7zM598.9 784.5h63.7v2.3h-63.7z" fill="#384fa7"/>
<path d="M662.3 452.5h63.7v2.3h-63.7zM662.3 456.5h63.7v2.3h-63.7zM662.3 466.5h63.7v2.3h-63.7zM662.3 468.5h63.7v2.3h-63.7zM662.3 478.5h63.7v2.3h-63.7zM662.3 480.5h63.7v2.3h-63.7zM662.3 484.5h63.7v2.3h-63.7zM662.3 486.5h63.7v2.3h-63.7zM662.3 488.5h63.7v2.3h-63.7zM662.3 490.5h63.7v2.3h-63.7zM662.3 494.5h63.7v2.3h-63.7zM662.3 498.5h63.7v2.3h-63.7zM662.3 500.5h63.7v2.3h-63.7zM662.3 504.5h63.7v2.3h-63.7zM662.3 510.5h63.7v2.3h-63.7zM662.3 512.5h63.7v2.3h-63.7zM662.3 514.5h63.7v2.3h-63.7zM662.3 522.5h63.7v2.3h-63.7zM662.3 526.5h63.7v2.3h-63.7zM662.3 532.5h63.7v2.3h-63.7zM662.3 534.5h63.7v2.3h-63.7zM662.3 538.5h63.7v2.3h-63.7zM662.3 540.5h63.7v2.3h-63.7zM662.3 542.5h63.7v2.3h-63.7zM662.3 546.5h63.7v2.3h-63.7zM662.3 556.5h63.7v2.3h-63.7zM662.3 566.5h63.7v2.3h-63.7zM662.3 572.5h63.7v2.3h-63.7zM662.3 574.5h63.7v2.3h-63.7zM662.3 578.5h63.7v2.3h-63.7zM662.3 584.5h63.7v2.3h-63.7zM662.3 586.5h63.7v2.3h-63.7zM662.3 588.5h63.7v2.3h-63.7zM662.3 596.5h63.7v2.3h-63.7zM662.3 598.5h63.7v2.3h-63.7zM662.3 608.5h63.7v2.3h-63.7zM662.3 612.5h63.7v2.3h-63.7zM662.3 614.5h63.7v2.3h-63.7zM662.3 616.5h63.7v2.3h-63.7zM662.3 618.5h63.7v2.3h-63.7zM662.3 622.5h63.7v2.3h-63.7zM662.3 624.5h63.7v2.3h-63.7zM662.3 626.5h63.7v2.3h-63.7zM662.3 628.5h63.7v2.3h-63.7zM662.3 636.5h63.7v2.3h-63.7zM662.3 640.5h63.7v2.3h-63.7zM662.3 642.5h63.7v2.3h-63.7zM662.3 646.5h63.7v2.3h-63.7zM662.3 648.5h63.7v2.3h-63.7zM662.3 652.5h63.7v2.3h-63.7zM662.3 654.5h63.7v2.3h-63.7zM662.3 656.5h63.7v2.3h-63.7zM662.3 660.5h63.7v2.3h-63.7zM662.3 662.5h63.7v2.3h-63.7zM662.3 664.5h63.7v2.3h-63.7zM662.3 668.5h63.7v2.3h-63.7zM662.3 674.5h63.7v2.3h-63.7zM662.3 678.5h63.7v2.3h-63.7zM662.3 680.5h63.7v2.3h-63.7zM662.3 682.5h63.7v2.3h-63.7zM662.3 686.5h63.7v2.3h-63.7zM662.3 690.5h63.7v2.3h-63.7zM662.3 702.5h63.7v2.3h-63.7zM662.3 716.5h63.7v2.3h-63.7zM662.3 718.5h63.7v2.3h-63.7zM662.3 720.5h63.7v2.3h-63.7zM662.3 724.5h63.7v2.3h-63.7zM662.3 728.5h63.7v2.3h-63.7zM662.3 736.5h63.7v2.3h-63.7zM662.3 744.5h63.7v2.3h-63.7zM662.3 746.5h63.7v2.3h-63.7zM662.3 748.5h63.7v2.3h-63.7zM662.3 750.5h63.7v2.3h-63.7zM662.3 752.5h63.7v2.3h-63.7zM662.3 760.5h63.7v2.3h-63.7zM662.3 762.5h63.7v2.3h-63.7zM662.3 776.5h63.7v2.3h-63.7zM662.3 786.5h63.7v2.3h-63.7zM662.3 788.5h63.7v2.3h-63.7zM662.3 794.5h63.7v2.3h-63.7zM662.3 796.5h63.7v2.3h-63.7zM662.3 800.5h63.7v2.3h-63.7zM662.3 806.5h63.7v2.3h-63.7zM662.3 810.5h63.7v2.3h-63.7zM662.3 816.5h63.7v2.3h-63.7zM662.3 818.5h63.7v2.3h-63.7zM662.3 824.5h63.7v2.3h-63.7zM662.3 828.5h63.7v2.3h-63.7zM662.3 832.5h63.7v2.3h-63.7zM535.5 840.5h63.7v2.3h-63.7zM535.5 842.5h63.7v2.3h-63.7zM535.5 844.5h63.7v2.3h-63.7zM535.5 848.5h63.7v2.3h-63.7zM535.5 850.5h63.7v2.3h-63.7zM535.5 860.6h63.7v2.3h-63.7zM535.5 862.6h63.7v2.3h-63.7zM535.5 864.6h63.7v2.3h-63.7zM535.5 868.6h63.7v2.3h-63.7zM535.5 870.6h63.7v2.3h-63.7zM535.5 872.6h63.7v2.3h-63.7zM535.5 874.6h63.7v2.3h-63.7zM535.5 878.7h63.7v2.3h-63.7zM535.5 886.7h63.7v2.3h-63.7zM535.5 890.7h63.7v2.3h-63.7zM535.5 892.7h63.7v2.3h-63.7zM535.5 896.7h63.7v2.3h-63.7zM535.5 898.7h63.7v2.3h-63.7zM535.5 902.7h63.7v2.3h-63.7zM535.5 906.8h63.7v2.3h-63.7zM535.5 908.8h63.7v2.3h-63.7zM535.5 910.8h63.7v2.3h-63.7zM535.5 912.8h63.7v2.3h-63.7zM535.5 916.8h63.7v2.3h-63.7zM535.5 926.8h63.7v2.3h-63.7zM535.5 928.8h63.7v2.3h-63.7zM535.5 932.9h63.7v2.3h-63.7zM535.5 938.9h63.7v2.3h-63.7zM535.5 940.9h63.7v2.3h-63.7zM535.5 942.9h63.7v2.3h-63.7zM535.5 946.9h63.7v2.3h-63.7zM535.5 948.9h63.7v2.3h-63.7zM535.5 950.9h63.7v2.3h-63.7zM535.5 952.9h63.7v2.3h-63.7zM535.5 954.9h63.7v2.3h-63.7zM535.5 957h63.7v2.3h-63.7zM535.5 961h63.7v2.3h-63.7zM535.5 963h63.7v2.3h-63.7zM535.5 965h63.7v2.3h-63.7zM535.5 967h63.7v2.3h-63.7zM535.5 975h63.7v2.3h-63.7zM535.5 979h63.7v2.3h-63.7zM535.5 983.1h63.7v2.3h-63.7zM535.5 985.1h63.7v2.3h-63.7zM535.5 993.1h63.7v2.3h-63.7zM535.5 997.1h63.7v2.3h-63.7zM535.5 999.1h63.7v2.3h-63.7zM535.5 1003.1h63.7v2.3h-63.7zM535.5 1007.1h63.7v2.3h-63.7zM535.5 1009.2h63.7v2.3h-63.7zM535.5 1011.2h63.7v2.3h-63.7zM535.5 1013.2h63.7v2.3h-63.7zM535.5 1015.2h63.7v2.3h-63.7zM535.5 1023.2h63.7v2.3h-63.7zM535.5 1033.2h63.7v2.3h-63.7zM535.5 1035.3h63.7v2.3h-63.7zM535.5 1039.3h63.7v2.3h-63.7zM535.5 1049.3h63.7v2.3h-63.7zM535.5 1067.4h63.7v2.3h-63.7zM535.5 1069.4h63.7v2.3h-63.7zM535.5 1071.4h63.7v2.3h-63.7z" fill="#6b7cc1"/>
<path d="M662.3 454.5h63.7v2.3h-63.7zM662.3 472.5h63.7v2.3h-63.7zM662.3 476.5h63.7v2.3h-63.7zM662.3 482.5h63.7v2.3h-63.7zM662.3 496.5h63.7v2.3h-63.7zM662.3 502.5h63.7v2.3h-63.7zM662.3 508.5h63.7v2.3h-63.7zM662.3 548.5h63.7v2.3h-63.7zM662.3 620.5h63.7v2.3h-63.7zM662.3 644.5h63.7v2.3h-63.7zM662.3 666.5h63.7v2.3h-63.7zM662.3 672.5h63.7v2.3h-63.7zM662.3 684.5h63.7v2.3h-63.7zM662.3 692.5h63.7v2.3h-63.7zM662.3 722.5h63.7v2.3h-63.7zM662.3 738.5h63.7v2.3h-63.7zM662.3 754.5h63.7v2.3h-63.7zM662.3 758.5h63.7v2.3h-63.7zM662.3 766.5h63.7v2.3h-63.7zM662.3 792.5h63.7v2.3h-63.7zM535.5 846.5h63.7v2.3h-63.7zM535.5 858.6h63.7v2.3h-63.7zM535.5 866.6h63.7v2.3h-63.7zM535.5 876.6h63.7v2.3h-63.7zM535.5 882.7h63.7v2.3h-63.7zM535.5 884.7h63.7v2.3h-63.7zM535.5 888.7h63.7v2.3h-63.7zM535.5 894.7h63.7v2.3h-63.7zM535.5 900.7h63.7v2.3h-63.7zM535.5 918.8h63.7v2.3h-63.7zM535.5 959h63.7v2.3h-63.7zM535.5 973h63.7v2.3h-63.7zM535.5 981h63.7v2.3h-63.7zM535.5 989.1h63.7v2.3h-63.7zM535.5 1019.2h63.7v2.3h-63.7zM535.5 1021.2h63.7v2.3h-63.7zM535.5 1043.3h63.7v2.3h-63.7zM535.5 1045.3h63.7v2.3h-63.7zM535.5 1047.3h63.7v2.3h-63.7zM535.5 1057.3h63.7v2.3h-63.7zM535.5 1065.4h63.7v2.3h-63.7z" fill="#7383c4"/>
<path d="M662.3 464.5h63.7v2.3h-63.7zM662.3 826.5h63.7v2.3h-63.7zM535.5 1041.3h63.7v2.3h-63.7z" fill="#8190cc"/>
<path d="M662.3 778.5h63.7v2.3h-63.7zM535.5 920.8h63.7v2.3h-63.7zM535.5 1037.3h63.7v2.3h-63.7zM535.5 1059.3h63.7v2.3h-63.7z" fill="#7a89c8"/>
<path d="M662.3 858.6h63.7v2.3h-63.7zM662.3 965h63.7v2.3h-63.7z" fill="#b7bfe4"/>
<rect x="470.6" y="451.1" width="256.6" height="623.7" fill="none" stroke="#000" stroke-width="3" />
<line x1="462.5" y1="451.8" x2="462.5" y2="1073.4" stroke="#000" stroke-width="2.2" />
<line x1="735" y1="451.8" x2="735" y2="834.2" stroke="#b03a3d" stroke-width="4" />
<line x1="735" y1="844.2" x2="735" y2="1073.4" stroke="#3d6d86" stroke-width="4" />
<text transform="translate(741.2 651) rotate(90)" font-size="26" text-anchor="middle" font-weight="bold" fill="#1a1a1a">2101</text>
<text transform="translate(741.2 952) rotate(90)" font-size="26" text-anchor="middle" font-weight="bold" fill="#1a1a1a">1270</text>
<text transform="translate(450 768) rotate(-90)" font-size="29" text-anchor="middle">PROseq at distal elements</text>
<text x="459.5" y="1125.7" font-size="25.7">LogFC&gt;0.5</text>
<text x="459.5" y="1149" font-size="25.7">p-val&lt;0.05</text>
<defs><linearGradient id="cb613" x1="0" x2="1" y1="0" y2="0"><stop offset="0" stop-color="#fafafd"/><stop offset="0.5" stop-color="#a6b0de"/><stop offset="1" stop-color="#384fa7"/></linearGradient></defs>
<rect x="613.2" y="1112.9" width="129.4" height="26.6" fill="url(#cb613)" stroke="#444" stroke-width="1.2" />
<line x1="634.5" y1="1112.9" x2="634.5" y2="1117.9" stroke="#333" stroke-width="1.4" />
<line x1="634.5" y1="1134.5" x2="634.5" y2="1139.5" stroke="#333" stroke-width="1.4" />
<line x1="677.2" y1="1112.9" x2="677.2" y2="1117.9" stroke="#333" stroke-width="1.4" />
<line x1="677.2" y1="1134.5" x2="677.2" y2="1139.5" stroke="#333" stroke-width="1.4" />
<line x1="720.9" y1="1112.9" x2="720.9" y2="1117.9" stroke="#333" stroke-width="1.4" />
<line x1="720.9" y1="1134.5" x2="720.9" y2="1139.5" stroke="#333" stroke-width="1.4" />
<text x="632" y="1106.5" font-size="25.5" text-anchor="middle">-1</text>
<text x="676.2" y="1106.5" font-size="25.5" text-anchor="middle">0</text>
<text x="719.9" y="1106.5" font-size="25.5" text-anchor="middle">1</text>
<text x="669.3" y="1164" font-size="27.5" text-anchor="middle">z-score</text>
<text x="799" y="438.4" font-size="46" font-weight="bold">e</text>
<text x="933.8" y="444.8" font-size="27" text-anchor="middle" font-weight="bold">Unstim</text>
<text x="1058.5" y="444.8" font-size="27" text-anchor="middle" font-weight="bold">TGFβ</text>
<path d="M867.2 451.2h63.7v2.3h-63.7zM867.2 463.2h63.7v2.3h-63.7zM867.2 465.2h63.7v2.3h-63.7zM867.2 467.1h63.7v2.3h-63.7zM867.2 469.1h63.7v2.3h-63.7zM867.2 523h63.7v2.3h-63.7zM867.2 530.9h63.7v2.3h-63.7zM867.2 540.9h63.7v2.3h-63.7zM867.2 546.9h63.7v2.3h-63.7zM867.2 568.8h63.7v2.3h-63.7zM867.2 572.8h63.7v2.3h-63.7zM867.2 578.8h63.7v2.3h-63.7zM867.2 580.8h63.7v2.3h-63.7zM867.2 594.7h63.7v2.3h-63.7zM867.2 600.7h63.7v2.3h-63.7zM867.2 610.7h63.7v2.3h-63.7zM867.2 618.6h63.7v2.3h-63.7zM867.2 624.6h63.7v2.3h-63.7zM867.2 630.6h63.7v2.3h-63.7zM867.2 632.6h63.7v2.3h-63.7zM867.2 648.5h63.7v2.3h-63.7zM867.2 654.5h63.7v2.3h-63.7zM867.2 664.5h63.7v2.3h-63.7zM867.2 682.4h63.7v2.3h-63.7zM867.2 684.4h63.7v2.3h-63.7zM867.2 692.4h63.7v2.3h-63.7zM867.2 702.3h63.7v2.3h-63.7zM867.2 706.3h63.7v2.3h-63.7zM867.2 710.3h63.7v2.3h-63.7zM867.2 712.3h63.7v2.3h-63.7zM867.2 720.3h63.7v2.3h-63.7zM867.2 722.3h63.7v2.3h-63.7zM867.2 724.3h63.7v2.3h-63.7zM867.2 736.2h63.7v2.3h-63.7zM930.6 457.2h63.7v2.3h-63.7zM930.6 461.2h63.7v2.3h-63.7zM930.6 463.2h63.7v2.3h-63.7zM930.6 471.1h63.7v2.3h-63.7zM930.6 483.1h63.7v2.3h-63.7zM930.6 485.1h63.7v2.3h-63.7zM930.6 495h63.7v2.3h-63.7zM930.6 497h63.7v2.3h-63.7zM930.6 501h63.7v2.3h-63.7zM930.6 505h63.7v2.3h-63.7zM930.6 513h63.7v2.3h-63.7zM930.6 517h63.7v2.3h-63.7zM930.6 521h63.7v2.3h-63.7zM930.6 524.9h63.7v2.3h-63.7zM930.6 526.9h63.7v2.3h-63.7zM930.6 530.9h63.7v2.3h-63.7zM930.6 540.9h63.7v2.3h-63.7zM930.6 542.9h63.7v2.3h-63.7zM930.6 550.9h63.7v2.3h-63.7zM930.6 556.8h63.7v2.3h-63.7zM930.6 564.8h63.7v2.3h-63.7zM930.6 568.8h63.7v2.3h-63.7zM930.6 570.8h63.7v2.3h-63.7zM930.6 572.8h63.7v2.3h-63.7zM930.6 574.8h63.7v2.3h-63.7zM930.6 584.7h63.7v2.3h-63.7zM930.6 590.7h63.7v2.3h-63.7zM930.6 592.7h63.7v2.3h-63.7zM930.6 602.7h63.7v2.3h-63.7zM930.6 604.7h63.7v2.3h-63.7zM930.6 610.7h63.7v2.3h-63.7zM930.6 620.6h63.7v2.3h-63.7zM930.6 634.6h63.7v2.3h-63.7zM930.6 640.5h63.7v2.3h-63.7zM930.6 668.5h63.7v2.3h-63.7zM930.6 670.4h63.7v2.3h-63.7zM930.6 674.4h63.7v2.3h-63.7zM930.6 680.4h63.7v2.3h-63.7zM930.6 688.4h63.7v2.3h-63.7zM930.6 690.4h63.7v2.3h-63.7zM930.6 698.4h63.7v2.3h-63.7zM930.6 712.3h63.7v2.3h-63.7zM930.6 718.3h63.7v2.3h-63.7zM930.6 722.3h63.7v2.3h-63.7zM930.6 730.2h63.7v2.3h-63.7zM930.6 734.2h63.7v2.3h-63.7zM994.1 766.2h63.7v2.3h-63.7zM994.1 852h63.7v2.3h-63.7zM994.1 935.9h63.7v2.3h-63.7z" fill="#cdd3ec"/>
<path d="M867.2 453.2h63.7v2.3h-63.7zM867.2 455.2h63.7v2.3h-63.7zM867.2 471.1h63.7v2.3h-63.7zM867.2 473.1h63.7v2.3h-63.7zM867.2 475.1h63.7v2.3h-63.7zM867.2 479.1h63.7v2.3h-63.7zM867.2 481.1h63.7v2.3h-63.7zM867.2 485.1h63.7v2.3h-63.7zM867.2 487.1h63.7v2.3h-63.7zM867.2 489.1h63.7v2.3h-63.7zM867.2 491.1h63.7v2.3h-63.7zM867.2 493.1h63.7v2.3h-63.7zM867.2 495h63.7v2.3h-63.7zM867.2 497h63.7v2.3h-63.7zM867.2 501h63.7v2.3h-63.7zM867.2 507h63.7v2.3h-63.7zM867.2 515h63.7v2.3h-63.7zM867.2 524.9h63.7v2.3h-63.7zM867.2 526.9h63.7v2.3h-63.7zM867.2 534.9h63.7v2.3h-63.7zM867.2 536.9h63.7v2.3h-63.7zM867.2 544.9h63.7v2.3h-63.7zM867.2 550.9h63.7v2.3h-63.7zM867.2 552.9h63.7v2.3h-63.7zM867.2 560.8h63.7v2.3h-63.7zM867.2 562.8h63.7v2.3h-63.7zM867.2 566.8h63.7v2.3h-63.7zM867.2 570.8h63.7v2.3h-63.7zM867.2 574.8h63.7v2.3h-63.7zM867.2 584.7h63.7v2.3h-63.7zM867.2 586.7h63.7v2.3h-63.7zM867.2 602.7h63.7v2.3h-63.7zM867.2 604.7h63.7v2.3h-63.7zM867.2 606.7h63.7v2.3h-63.7zM867.2 608.7h63.7v2.3h-63.7zM867.2 614.6h63.7v2.3h-63.7zM867.2 616.6h63.7v2.3h-63.7zM867.2 636.6h63.7v2.3h-63.7zM867.2 638.6h63.7v2.3h-63.7zM867.2 646.5h63.7v2.3h-63.7zM867.2 656.5h63.7v2.3h-63.7zM867.2 658.5h63.7v2.3h-63.7zM867.2 660.5h63.7v2.3h-63.7zM867.2 662.5h63.7v2.3h-63.7zM867.2 666.5h63.7v2.3h-63.7zM867.2 668.5h63.7v2.3h-63.7zM867.2 674.4h63.7v2.3h-63.7zM867.2 678.4h63.7v2.3h-63.7zM867.2 686.4h63.7v2.3h-63.7zM867.2 688.4h63.7v2.3h-63.7zM867.2 694.4h63.7v2.3h-63.7zM867.2 700.3h63.7v2.3h-63.7zM867.2 714.3h63.7v2.3h-63.7zM867.2 716.3h63.7v2.3h-63.7zM867.2 718.3h63.7v2.3h-63.7zM867.2 728.2h63.7v2.3h-63.7zM867.2 730.2h63.7v2.3h-63.7zM930.6 465.2h63.7v2.3h-63.7zM930.6 493.1h63.7v2.3h-63.7zM930.6 499h63.7v2.3h-63.7zM930.6 507h63.7v2.3h-63.7zM930.6 509h63.7v2.3h-63.7zM930.6 532.9h63.7v2.3h-63.7zM930.6 544.9h63.7v2.3h-63.7zM930.6 554.8h63.7v2.3h-63.7zM930.6 558.8h63.7v2.3h-63.7zM930.6 560.8h63.7v2.3h-63.7zM930.6 582.7h63.7v2.3h-63.7zM930.6 586.7h63.7v2.3h-63.7zM930.6 598.7h63.7v2.3h-63.7zM930.6 600.7h63.7v2.3h-63.7zM930.6 608.7h63.7v2.3h-63.7zM930.6 616.6h63.7v2.3h-63.7zM930.6 622.6h63.7v2.3h-63.7zM930.6 626.6h63.7v2.3h-63.7zM930.6 628.6h63.7v2.3h-63.7zM930.6 636.6h63.7v2.3h-63.7zM930.6 638.6h63.7v2.3h-63.7zM930.6 644.5h63.7v2.3h-63.7zM930.6 654.5h63.7v2.3h-63.7zM930.6 664.5h63.7v2.3h-63.7zM930.6 682.4h63.7v2.3h-63.7zM930.6 684.4h63.7v2.3h-63.7zM930.6 694.4h63.7v2.3h-63.7zM930.6 700.3h63.7v2.3h-63.7zM930.6 706.3h63.7v2.3h-63.7zM930.6 708.3h63.7v2.3h-63.7zM930.6 726.3h63.7v2.3h-63.7zM994.1 744.2h63.7v2.3h-63.7zM994.1 764.2h63.7v2.3h-63.7zM994.1 768.2h63.7v2.3h-63.7zM994.1 774.2h63.7v2.3h-63.7zM994.1 818.1h63.7v2.3h-63.7zM994.1 822.1h63.7v2.3h-63.7zM994.1 834.1h63.7v2.3h-63.7zM994.1 848h63.7v2.3h-63.7zM994.1 866h63.7v2.3h-63.7zM994.1 919.9h63.7v2.3h-63.7zM994.1 927.9h63.7v2.3h-63.7zM994.1 937.9h63.7v2.3h-63.7zM994.1 947.9h63.7v2.3h-63.7zM994.1 959.9h63.7v2.3h-63.7zM994.1 971.9h63.7v2.3h-63.7zM994.1 987.8h63.7v2.3h-63.7zM994.1 1013.8h63.7v2.3h-63.7z" fill="#d3d7ef"/>
<path d="M867.2 457.2h63.7v2.3h-63.7zM867.2 461.2h63.7v2.3h-63.7zM867.2 528.9h63.7v2.3h-63.7zM867.2 558.8h63.7v2.3h-63.7zM867.2 564.8h63.7v2.3h-63.7zM867.2 598.7h63.7v2.3h-63.7zM867.2 612.6h63.7v2.3h-63.7zM867.2 732.2h63.7v2.3h-63.7zM994.1 742.2h63.7v2.3h-63.7zM994.1 750.2h63.7v2.3h-63.7zM994.1 762.2h63.7v2.3h-63.7zM994.1 772.2h63.7v2.3h-63.7zM994.1 778.1h63.7v2.3h-63.7zM994.1 780.1h63.7v2.3h-63.7zM994.1 782.1h63.7v2.3h-63.7zM994.1 786.1h63.7v2.3h-63.7zM994.1 794.1h63.7v2.3h-63.7zM994.1 800.1h63.7v2.3h-63.7zM994.1 802.1h63.7v2.3h-63.7zM994.1 806.1h63.7v2.3h-63.7zM994.1 808.1h63.7v2.3h-63.7zM994.1 816.1h63.7v2.3h-63.7zM994.1 820.1h63.7v2.3h-63.7zM994.1 826.1h63.7v2.3h-63.7zM994.1 832.1h63.7v2.3h-63.7zM994.1 838.1h63.7v2.3h-63.7zM994.1 840.1h63.7v2.3h-63.7zM994.1 854h63.7v2.3h-63.7zM994.1 868h63.7v2.3h-63.7zM994.1 874h63.7v2.3h-63.7zM994.1 876h63.7v2.3h-63.7zM994.1 878h63.7v2.3h-63.7zM994.1 900h63.7v2.3h-63.7zM994.1 902h63.7v2.3h-63.7zM994.1 904h63.7v2.3h-63.7zM994.1 906h63.7v2.3h-63.7zM994.1 909.9h63.7v2.3h-63.7zM994.1 913.9h63.7v2.3h-63.7zM994.1 923.9h63.7v2.3h-63.7zM994.1 925.9h63.7v2.3h-63.7zM994.1 931.9h63.7v2.3h-63.7zM994.1 933.9h63.7v2.3h-63.7zM994.1 941.9h63.7v2.3h-63.7zM994.1 943.9h63.7v2.3h-63.7zM994.1 953.9h63.7v2.3h-63.7zM994.1 955.9h63.7v2.3h-63.7zM994.1 957.9h63.7v2.3h-63.7zM994.1 963.9h63.7v2.3h-63.7zM994.1 965.9h63.7v2.3h-63.7zM994.1 975.8h63.7v2.3h-63.7zM994.1 977.8h63.7v2.3h-63.7zM994.1 981.8h63.7v2.3h-63.7zM994.1 993.8h63.7v2.3h-63.7zM994.1 995.8h63.7v2.3h-63.7zM994.1 997.8h63.7v2.3h-63.7zM994.1 999.8h63.7v2.3h-63.7zM994.1 1003.8h63.7v2.3h-63.7zM994.1 1027.8h63.7v2.3h-63.7zM994.1 1029.8h63.7v2.3h-63.7zM994.1 1031.8h63.7v2.3h-63.7zM994.1 1033.8h63.7v2.3h-63.7zM994.1 1035.8h63.7v2.3h-63.7zM994.1 1037.8h63.7v2.3h-63.7zM994.1 1039.7h63.7v2.3h-63.7zM994.1 1041.7h63.7v2.3h-63.7zM994.1 1043.7h63.7v2.3h-63.7zM994.1 1047.7h63.7v2.3h-63.7zM994.1 1051.7h63.7v2.3h-63.7zM994.1 1055.7h63.7v2.3h-63.7zM994.1 1057.7h63.7v2.3h-63.7zM994.1 1059.7h63.7v2.3h-63.7zM994.1 1065.7h63.7v2.3h-63.7z" fill="#dee1f3"/>
<path d="M867.2 459.2h63.7v2.3h-63.7zM930.6 451.2h63.7v2.3h-63.7zM930.6 523h63.7v2.3h-63.7zM930.6 696.4h63.7v2.3h-63.7zM930.6 732.2h63.7v2.3h-63.7z" fill="#bcc4e6"/>
<path d="M867.2 477.1h63.7v2.3h-63.7zM867.2 517h63.7v2.3h-63.7zM867.2 519h63.7v2.3h-63.7zM867.2 538.9h63.7v2.3h-63.7zM867.2 582.7h63.7v2.3h-63.7zM867.2 622.6h63.7v2.3h-63.7zM867.2 626.6h63.7v2.3h-63.7zM867.2 676.4h63.7v2.3h-63.7zM867.2 680.4h63.7v2.3h-63.7zM867.2 690.4h63.7v2.3h-63.7zM867.2 696.4h63.7v2.3h-63.7zM867.2 698.4h63.7v2.3h-63.7zM867.2 708.3h63.7v2.3h-63.7zM930.6 455.2h63.7v2.3h-63.7zM930.6 473.1h63.7v2.3h-63.7zM930.6 475.1h63.7v2.3h-63.7zM930.6 477.1h63.7v2.3h-63.7zM930.6 479.1h63.7v2.3h-63.7zM930.6 481.1h63.7v2.3h-63.7zM930.6 503h63.7v2.3h-63.7zM930.6 511h63.7v2.3h-63.7zM930.6 515h63.7v2.3h-63.7zM930.6 519h63.7v2.3h-63.7zM930.6 534.9h63.7v2.3h-63.7zM930.6 538.9h63.7v2.3h-63.7zM930.6 548.9h63.7v2.3h-63.7zM930.6 552.9h63.7v2.3h-63.7zM930.6 562.8h63.7v2.3h-63.7zM930.6 566.8h63.7v2.3h-63.7zM930.6 576.8h63.7v2.3h-63.7zM930.6 578.8h63.7v2.3h-63.7zM930.6 580.8h63.7v2.3h-63.7zM930.6 594.7h63.7v2.3h-63.7zM930.6 596.7h63.7v2.3h-63.7zM930.6 606.7h63.7v2.3h-63.7zM930.6 612.6h63.7v2.3h-63.7zM930.6 630.6h63.7v2.3h-63.7zM930.6 632.6h63.7v2.3h-63.7zM930.6 646.5h63.7v2.3h-63.7zM930.6 648.5h63.7v2.3h-63.7zM930.6 650.5h63.7v2.3h-63.7zM930.6 652.5h63.7v2.3h-63.7zM930.6 656.5h63.7v2.3h-63.7zM930.6 660.5h63.7v2.3h-63.7zM930.6 666.5h63.7v2.3h-63.7zM930.6 676.4h63.7v2.3h-63.7zM930.6 686.4h63.7v2.3h-63.7zM930.6 692.4h63.7v2.3h-63.7zM930.6 702.3h63.7v2.3h-63.7zM930.6 704.3h63.7v2.3h-63.7zM930.6 710.3h63.7v2.3h-63.7zM930.6 714.3h63.7v2.3h-63.7zM930.6 716.3h63.7v2.3h-63.7zM930.6 724.3h63.7v2.3h-63.7zM930.6 728.2h63.7v2.3h-63.7zM930.6 738.2h63.7v2.3h-63.7zM994.1 758.2h63.7v2.3h-63.7z" fill="#c8ceea"/>
<path d="M867.2 483.1h63.7v2.3h-63.7zM867.2 499h63.7v2.3h-63.7zM867.2 505h63.7v2.3h-63.7zM867.2 511h63.7v2.3h-63.7zM867.2 513h63.7v2.3h-63.7zM867.2 521h63.7v2.3h-63.7zM867.2 532.9h63.7v2.3h-63.7zM867.2 542.9h63.7v2.3h-63.7zM867.2 548.9h63.7v2.3h-63.7zM867.2 554.8h63.7v2.3h-63.7zM867.2 556.8h63.7v2.3h-63.7zM867.2 576.8h63.7v2.3h-63.7zM867.2 588.7h63.7v2.3h-63.7zM867.2 592.7h63.7v2.3h-63.7zM867.2 596.7h63.7v2.3h-63.7zM867.2 620.6h63.7v2.3h-63.7zM867.2 628.6h63.7v2.3h-63.7zM867.2 640.5h63.7v2.3h-63.7zM867.2 642.5h63.7v2.3h-63.7zM867.2 644.5h63.7v2.3h-63.7zM867.2 650.5h63.7v2.3h-63.7zM867.2 652.5h63.7v2.3h-63.7zM867.2 670.4h63.7v2.3h-63.7zM867.2 672.4h63.7v2.3h-63.7zM867.2 704.3h63.7v2.3h-63.7zM867.2 726.3h63.7v2.3h-63.7zM867.2 734.2h63.7v2.3h-63.7zM867.2 740.2h63.7v2.3h-63.7zM930.6 489.1h63.7v2.3h-63.7zM930.6 536.9h63.7v2.3h-63.7zM930.6 588.7h63.7v2.3h-63.7zM930.6 642.5h63.7v2.3h-63.7zM930.6 658.5h63.7v2.3h-63.7zM930.6 672.4h63.7v2.3h-63.7zM930.6 678.4h63.7v2.3h-63.7zM994.1 752.2h63.7v2.3h-63.7zM994.1 754.2h63.7v2.3h-63.7zM994.1 770.2h63.7v2.3h-63.7zM994.1 784.1h63.7v2.3h-63.7zM994.1 788.1h63.7v2.3h-63.7zM994.1 790.1h63.7v2.3h-63.7zM994.1 804.1h63.7v2.3h-63.7zM994.1 810.1h63.7v2.3h-63.7zM994.1 824.1h63.7v2.3h-63.7zM994.1 828.1h63.7v2.3h-63.7zM994.1 830.1h63.7v2.3h-63.7zM994.1 836.1h63.7v2.3h-63.7zM994.1 842h63.7v2.3h-63.7zM994.1 844h63.7v2.3h-63.7zM994.1 846h63.7v2.3h-63.7zM994.1 850h63.7v2.3h-63.7zM994.1 862h63.7v2.3h-63.7zM994.1 880h63.7v2.3h-63.7zM994.1 886h63.7v2.3h-63.7zM994.1 892h63.7v2.3h-63.7zM994.1 894h63.7v2.3h-63.7zM994.1 896h63.7v2.3h-63.7zM994.1 898h63.7v2.3h-63.7zM994.1 907.9h63.7v2.3h-63.7zM994.1 911.9h63.7v2.3h-63.7zM994.1 915.9h63.7v2.3h-63.7zM994.1 961.9h63.7v2.3h-63.7zM994.1 967.9h63.7v2.3h-63.7zM994.1 979.8h63.7v2.3h-63.7zM994.1 983.8h63.7v2.3h-63.7zM994.1 989.8h63.7v2.3h-63.7zM994.1 991.8h63.7v2.3h-63.7zM994.1 1007.8h63.7v2.3h-63.7zM994.1 1011.8h63.7v2.3h-63.7zM994.1 1015.8h63.7v2.3h-63.7zM994.1 1019.8h63.7v2.3h-63.7zM994.1 1021.8h63.7v2.3h-63.7zM994.1 1023.8h63.7v2.3h-63.7zM994.1 1025.8h63.7v2.3h-63.7zM994.1 1045.7h63.7v2.3h-63.7zM994.1 1049.7h63.7v2.3h-63.7zM994.1 1061.7h63.7v2.3h-63.7z" fill="#d8dcf1"/>
<path d="M867.2 503h63.7v2.3h-63.7zM867.2 509h63.7v2.3h-63.7zM867.2 738.2h63.7v2.3h-63.7zM930.6 453.2h63.7v2.3h-63.7zM930.6 459.2h63.7v2.3h-63.7zM930.6 467.1h63.7v2.3h-63.7zM930.6 469.1h63.7v2.3h-63.7zM930.6 487.1h63.7v2.3h-63.7zM930.6 491.1h63.7v2.3h-63.7zM930.6 528.9h63.7v2.3h-63.7zM930.6 546.9h63.7v2.3h-63.7zM930.6 614.6h63.7v2.3h-63.7zM930.6 618.6h63.7v2.3h-63.7zM930.6 624.6h63.7v2.3h-63.7zM930.6 662.5h63.7v2.3h-63.7zM930.6 736.2h63.7v2.3h-63.7zM930.6 740.2h63.7v2.3h-63.7z" fill="#c2c9e8"/>
<path d="M867.2 590.7h63.7v2.3h-63.7zM867.2 634.6h63.7v2.3h-63.7zM994.1 812.1h63.7v2.3h-63.7zM994.1 864h63.7v2.3h-63.7zM994.1 917.9h63.7v2.3h-63.7zM994.1 949.9h63.7v2.3h-63.7zM994.1 1005.8h63.7v2.3h-63.7zM994.1 1063.7h63.7v2.3h-63.7z" fill="#e9ebf7"/>
<path d="M930.6 720.3h63.7v2.3h-63.7zM1057.5 902h63.7v2.3h-63.7z" fill="#b1bae2"/>
<path d="M994.1 451.2h63.7v2.3h-63.7zM994.1 457.2h63.7v2.3h-63.7zM994.1 465.2h63.7v2.3h-63.7zM994.1 469.1h63.7v2.3h-63.7zM994.1 483.1h63.7v2.3h-63.7zM994.1 491.1h63.7v2.3h-63.7zM994.1 493.1h63.7v2.3h-63.7zM994.1 511h63.7v2.3h-63.7zM994.1 521h63.7v2.3h-63.7zM994.1 530.9h63.7v2.3h-63.7zM994.1 538.9h63.7v2.3h-63.7zM994.1 542.9h63.7v2.3h-63.7zM994.1 548.9h63.7v2.3h-63.7zM994.1 550.9h63.7v2.3h-63.7zM994.1 560.8h63.7v2.3h-63.7zM994.1 568.8h63.7v2.3h-63.7zM994.1 602.7h63.7v2.3h-63.7zM994.1 606.7h63.7v2.3h-63.7zM994.1 608.7h63.7v2.3h-63.7zM994.1 618.6h63.7v2.3h-63.7zM994.1 620.6h63.7v2.3h-63.7zM994.1 628.6h63.7v2.3h-63.7zM994.1 638.6h63.7v2.3h-63.7zM994.1 642.5h63.7v2.3h-63.7zM994.1 652.5h63.7v2.3h-63.7zM994.1 658.5h63.7v2.3h-63.7zM994.1 666.5h63.7v2.3h-63.7zM994.1 668.5h63.7v2.3h-63.7zM994.1 676.4h63.7v2.3h-63.7zM994.1 692.4h63.7v2.3h-63.7zM994.1 694.4h63.7v2.3h-63.7zM994.1 698.4h63.7v2.3h-63.7zM994.1 700.3h63.7v2.3h-63.7zM994.1 702.3h63.7v2.3h-63.7zM994.1 708.3h63.7v2.3h-63.7zM994.1 712.3h63.7v2.3h-63.7zM994.1 716.3h63.7v2.3h-63.7zM994.1 718.3h63.7v2.3h-63.7zM994.1 724.3h63.7v2.3h-63.7zM994.1 736.2h63.7v2.3h-63.7zM930.6 746.2h63.7v2.3h-63.7zM930.6 776.1h63.7v2.3h-63.7zM930.6 782.1h63.7v2.3h-63.7zM930.6 798.1h63.7v2.3h-63.7zM930.6 804.1h63.7v2.3h-63.7zM930.6 806.1h63.7v2.3h-63.7zM930.6 820.1h63.7v2.3h-63.7zM930.6 826.1h63.7v2.3h-63.7zM930.6 834.1h63.7v2.3h-63.7zM930.6 848h63.7v2.3h-63.7zM930.6 870h63.7v2.3h-63.7zM930.6 874h63.7v2.3h-63.7zM930.6 876h63.7v2.3h-63.7zM930.6 880h63.7v2.3h-63.7zM930.6 892h63.7v2.3h-63.7zM930.6 904h63.7v2.3h-63.7zM930.6 909.9h63.7v2.3h-63.7zM930.6 911.9h63.7v2.3h-63.7zM930.6 923.9h63.7v2.3h-63.7zM930.6 955.9h63.7v2.3h-63.7zM930.6 961.9h63.7v2.3h-63.7zM930.6 981.8h63.7v2.3h-63.7zM930.6 993.8h63.7v2.3h-63.7zM930.6 1003.8h63.7v2.3h-63.7zM930.6 1029.8h63.7v2.3h-63.7zM930.6 1057.7h63.7v2.3h-63.7zM930.6 1063.7h63.7v2.3h-63.7zM930.6 1067.7h63.7v2.3h-63.7z" fill="#475cae"/>
<path d="M994.1 453.2h63.7v2.3h-63.7zM994.1 461.2h63.7v2.3h-63.7zM994.1 463.2h63.7v2.3h-63.7zM994.1 467.1h63.7v2.3h-63.7zM994.1 473.1h63.7v2.3h-63.7zM994.1 477.1h63.7v2.3h-63.7zM994.1 479.1h63.7v2.3h-63.7zM994.1 485.1h63.7v2.3h-63.7zM994.1 487.1h63.7v2.3h-63.7zM994.1 499h63.7v2.3h-63.7zM994.1 501h63.7v2.3h-63.7zM994.1 505h63.7v2.3h-63.7zM994.1 507h63.7v2.3h-63.7zM994.1 509h63.7v2.3h-63.7zM994.1 517h63.7v2.3h-63.7zM994.1 523h63.7v2.3h-63.7zM994.1 524.9h63.7v2.3h-63.7zM994.1 526.9h63.7v2.3h-63.7zM994.1 528.9h63.7v2.3h-63.7zM994.1 532.9h63.7v2.3h-63.7zM994.1 534.9h63.7v2.3h-63.7zM994.1 536.9h63.7v2.3h-63.7zM994.1 544.9h63.7v2.3h-63.7zM994.1 546.9h63.7v2.3h-63.7zM994.1 554.8h63.7v2.3h-63.7zM994.1 566.8h63.7v2.3h-63.7zM994.1 576.8h63.7v2.3h-63.7zM994.1 582.7h63.7v2.3h-63.7zM994.1 584.7h63.7v2.3h-63.7zM994.1 586.7h63.7v2.3h-63.7zM994.1 588.7h63.7v2.3h-63.7zM994.1 594.7h63.7v2.3h-63.7zM994.1 596.7h63.7v2.3h-63.7zM994.1 600.7h63.7v2.3h-63.7zM994.1 612.6h63.7v2.3h-63.7zM994.1 616.6h63.7v2.3h-63.7zM994.1 622.6h63.7v2.3h-63.7zM994.1 636.6h63.7v2.3h-63.7zM994.1 646.5h63.7v2.3h-63.7zM994.1 648.5h63.7v2.3h-63.7zM994.1 654.5h63.7v2.3h-63.7zM994.1 656.5h63.7v2.3h-63.7zM994.1 662.5h63.7v2.3h-63.7zM994.1 670.4h63.7v2.3h-63.7zM994.1 678.4h63.7v2.3h-63.7zM994.1 680.4h63.7v2.3h-63.7zM994.1 704.3h63.7v2.3h-63.7zM994.1 720.3h63.7v2.3h-63.7zM994.1 730.2h63.7v2.3h-63.7zM994.1 734.2h63.7v2.3h-63.7zM994.1 740.2h63.7v2.3h-63.7zM1057.5 738.2h63.7v2.3h-63.7zM930.6 744.2h63.7v2.3h-63.7zM930.6 748.2h63.7v2.3h-63.7zM930.6 750.2h63.7v2.3h-63.7zM930.6 754.2h63.7v2.3h-63.7zM930.6 760.2h63.7v2.3h-63.7zM930.6 762.2h63.7v2.3h-63.7zM930.6 766.2h63.7v2.3h-63.7zM930.6 768.2h63.7v2.3h-63.7zM930.6 774.2h63.7v2.3h-63.7zM930.6 780.1h63.7v2.3h-63.7zM930.6 784.1h63.7v2.3h-63.7zM930.6 792.1h63.7v2.3h-63.7zM930.6 794.1h63.7v2.3h-63.7zM930.6 812.1h63.7v2.3h-63.7zM930.6 818.1h63.7v2.3h-63.7zM930.6 824.1h63.7v2.3h-63.7zM930.6 838.1h63.7v2.3h-63.7zM930.6 840.1h63.7v2.3h-63.7zM930.6 850h63.7v2.3h-63.7zM930.6 852h63.7v2.3h-63.7zM930.6 854h63.7v2.3h-63.7zM930.6 864h63.7v2.3h-63.7zM930.6 872h63.7v2.3h-63.7zM930.6 878h63.7v2.3h-63.7zM930.6 890h63.7v2.3h-63.7zM930.6 900h63.7v2.3h-63.7zM930.6 917.9h63.7v2.3h-63.7zM930.6 919.9h63.7v2.3h-63.7zM930.6 927.9h63.7v2.3h-63.7zM930.6 931.9h63.7v2.3h-63.7zM930.6 939.9h63.7v2.3h-63.7zM930.6 945.9h63.7v2.3h-63.7zM930.6 947.9h63.7v2.3h-63.7zM930.6 949.9h63.7v2.3h-63.7zM930.6 951.9h63.7v2.3h-63.7zM930.6 953.9h63.7v2.3h-63.7zM930.6 957.9h63.7v2.3h-63.7zM930.6 963.9h63.7v2.3h-63.7zM930.6 969.9h63.7v2.3h-63.7zM930.6 973.8h63.7v2.3h-63.7zM930.6 977.8h63.7v2.3h-63.7zM930.6 1001.8h63.7v2.3h-63.7zM930.6 1015.8h63.7v2.3h-63.7zM930.6 1019.8h63.7v2.3h-63.7zM930.6 1023.8h63.7v2.3h-63.7zM930.6 1027.8h63.7v2.3h-63.7zM930.6 1031.8h63.7v2.3h-63.7zM930.6 1035.8h63.7v2.3h-63.7zM930.6 1037.8h63.7v2.3h-63.7zM930.6 1045.7h63.7v2.3h-63.7zM930.6 1047.7h63.7v2.3h-63.7zM930.6 1059.7h63.7v2.3h-63.7z" fill="#4e62b2"/>
<path d="M994.1 455.2h63.7v2.3h-63.7zM994.1 471.1h63.7v2.3h-63.7zM994.1 475.1h63.7v2.3h-63.7zM994.1 481.1h63.7v2.3h-63.7zM994.1 495h63.7v2.3h-63.7zM994.1 497h63.7v2.3h-63.7zM994.1 540.9h63.7v2.3h-63.7zM994.1 558.8h63.7v2.3h-63.7zM994.1 562.8h63.7v2.3h-63.7zM994.1 570.8h63.7v2.3h-63.7zM994.1 598.7h63.7v2.3h-63.7zM994.1 614.6h63.7v2.3h-63.7zM994.1 624.6h63.7v2.3h-63.7zM994.1 632.6h63.7v2.3h-63.7zM994.1 640.5h63.7v2.3h-63.7zM994.1 644.5h63.7v2.3h-63.7zM994.1 650.5h63.7v2.3h-63.7zM994.1 672.4h63.7v2.3h-63.7zM994.1 688.4h63.7v2.3h-63.7zM994.1 690.4h63.7v2.3h-63.7zM994.1 714.3h63.7v2.3h-63.7zM994.1 722.3h63.7v2.3h-63.7zM994.1 728.2h63.7v2.3h-63.7zM994.1 732.2h63.7v2.3h-63.7zM1057.5 728.2h63.7v2.3h-63.7zM867.2 1059.7h63.7v2.3h-63.7zM930.6 756.2h63.7v2.3h-63.7zM930.6 758.2h63.7v2.3h-63.7zM930.6 770.2h63.7v2.3h-63.7zM930.6 772.2h63.7v2.3h-63.7zM930.6 786.1h63.7v2.3h-63.7zM930.6 790.1h63.7v2.3h-63.7zM930.6 796.1h63.7v2.3h-63.7zM930.6 800.1h63.7v2.3h-63.7zM930.6 802.1h63.7v2.3h-63.7zM930.6 808.1h63.7v2.3h-63.7zM930.6 810.1h63.7v2.3h-63.7zM930.6 822.1h63.7v2.3h-63.7zM930.6 836.1h63.7v2.3h-63.7zM930.6 842h63.7v2.3h-63.7zM930.6 856h63.7v2.3h-63.7zM930.6 858h63.7v2.3h-63.7zM930.6 860h63.7v2.3h-63.7zM930.6 868h63.7v2.3h-63.7zM930.6 882h63.7v2.3h-63.7zM930.6 884h63.7v2.3h-63.7zM930.6 886h63.7v2.3h-63.7zM930.6 888h63.7v2.3h-63.7zM930.6 894h63.7v2.3h-63.7zM930.6 896h63.7v2.3h-63.7zM930.6 898h63.7v2.3h-63.7zM930.6 902h63.7v2.3h-63.7zM930.6 906h63.7v2.3h-63.7zM930.6 907.9h63.7v2.3h-63.7zM930.6 913.9h63.7v2.3h-63.7zM930.6 915.9h63.7v2.3h-63.7zM930.6 925.9h63.7v2.3h-63.7zM930.6 929.9h63.7v2.3h-63.7zM930.6 933.9h63.7v2.3h-63.7zM930.6 935.9h63.7v2.3h-63.7zM930.6 937.9h63.7v2.3h-63.7zM930.6 943.9h63.7v2.3h-63.7zM930.6 975.8h63.7v2.3h-63.7zM930.6 979.8h63.7v2.3h-63.7zM930.6 983.8h63.7v2.3h-63.7zM930.6 987.8h63.7v2.3h-63.7zM930.6 989.8h63.7v2.3h-63.7zM930.6 991.8h63.7v2.3h-63.7zM930.6 1007.8h63.7v2.3h-63.7zM930.6 1011.8h63.7v2.3h-63.7zM930.6 1013.8h63.7v2.3h-63.7zM930.6 1017.8h63.7v2.3h-63.7zM930.6 1033.8h63.7v2.3h-63.7zM930.6 1041.7h63.7v2.3h-63.7zM930.6 1049.7h63.7v2.3h-63.7zM930.6 1051.7h63.7v2.3h-63.7zM930.6 1053.7h63.7v2.3h-63.7zM930.6 1061.7h63.7v2.3h-63.7zM930.6 1065.7h63.7v2.3h-63.7zM930.6 1069.7h63.7v2.3h-63.7z" fill="#5569b6"/>
<path d="M994.1 459.2h63.7v2.3h-63.7zM994.1 556.8h63.7v2.3h-63.7zM994.1 604.7h63.7v2.3h-63.7zM994.1 726.3h63.7v2.3h-63.7zM1057.5 451.2h63.7v2.3h-63.7zM1057.5 479.1h63.7v2.3h-63.7zM1057.5 495h63.7v2.3h-63.7zM1057.5 499h63.7v2.3h-63.7zM1057.5 511h63.7v2.3h-63.7zM1057.5 523h63.7v2.3h-63.7zM1057.5 532.9h63.7v2.3h-63.7zM1057.5 538.9h63.7v2.3h-63.7zM1057.5 570.8h63.7v2.3h-63.7zM1057.5 610.7h63.7v2.3h-63.7zM1057.5 622.6h63.7v2.3h-63.7zM1057.5 638.6h63.7v2.3h-63.7zM1057.5 646.5h63.7v2.3h-63.7zM1057.5 674.4h63.7v2.3h-63.7zM1057.5 700.3h63.7v2.3h-63.7zM1057.5 702.3h63.7v2.3h-63.7zM1057.5 704.3h63.7v2.3h-63.7zM867.2 1043.7h63.7v2.3h-63.7zM930.6 742.2h63.7v2.3h-63.7zM930.6 752.2h63.7v2.3h-63.7zM930.6 764.2h63.7v2.3h-63.7zM930.6 778.1h63.7v2.3h-63.7zM930.6 788.1h63.7v2.3h-63.7zM930.6 814.1h63.7v2.3h-63.7zM930.6 816.1h63.7v2.3h-63.7zM930.6 828.1h63.7v2.3h-63.7zM930.6 830.1h63.7v2.3h-63.7zM930.6 846h63.7v2.3h-63.7zM930.6 862h63.7v2.3h-63.7zM930.6 866h63.7v2.3h-63.7zM930.6 941.9h63.7v2.3h-63.7zM930.6 959.9h63.7v2.3h-63.7zM930.6 965.9h63.7v2.3h-63.7zM930.6 971.9h63.7v2.3h-63.7zM930.6 985.8h63.7v2.3h-63.7zM930.6 995.8h63.7v2.3h-63.7zM930.6 999.8h63.7v2.3h-63.7zM930.6 1009.8h63.7v2.3h-63.7z" fill="#5d6fb9"/>
<path d="M994.1 489.1h63.7v2.3h-63.7zM994.1 513h63.7v2.3h-63.7zM994.1 515h63.7v2.3h-63.7zM994.1 519h63.7v2.3h-63.7zM994.1 564.8h63.7v2.3h-63.7zM994.1 572.8h63.7v2.3h-63.7zM994.1 574.8h63.7v2.3h-63.7zM994.1 578.8h63.7v2.3h-63.7zM994.1 590.7h63.7v2.3h-63.7zM994.1 592.7h63.7v2.3h-63.7zM994.1 610.7h63.7v2.3h-63.7zM994.1 626.6h63.7v2.3h-63.7zM994.1 634.6h63.7v2.3h-63.7zM994.1 660.5h63.7v2.3h-63.7zM994.1 664.5h63.7v2.3h-63.7zM994.1 674.4h63.7v2.3h-63.7zM994.1 682.4h63.7v2.3h-63.7zM994.1 684.4h63.7v2.3h-63.7zM994.1 706.3h63.7v2.3h-63.7zM994.1 710.3h63.7v2.3h-63.7zM930.6 832.1h63.7v2.3h-63.7zM930.6 844h63.7v2.3h-63.7zM930.6 967.9h63.7v2.3h-63.7zM930.6 997.8h63.7v2.3h-63.7zM930.6 1005.8h63.7v2.3h-63.7zM930.6 1043.7h63.7v2.3h-63.7z" fill="#3f55ab"/>
<path d="M994.1 503h63.7v2.3h-63.7zM994.1 552.9h63.7v2.3h-63.7zM994.1 580.8h63.7v2.3h-63.7zM994.1 630.6h63.7v2.3h-63.7zM994.1 686.4h63.7v2.3h-63.7zM930.6 921.9h63.7v2.3h-63.7zM930.6 1025.8h63.7v2.3h-63.7z" fill="#384fa7"/>
<path d="M994.1 696.4h63.7v2.3h-63.7zM994.1 738.2h63.7v2.3h-63.7zM1057.5 453.2h63.7v2.3h-63.7zM1057.5 461.2h63.7v2.3h-63.7zM1057.5 467.1h63.7v2.3h-63.7zM1057.5 481.1h63.7v2.3h-63.7zM1057.5 489.1h63.7v2.3h-63.7zM1057.5 491.1h63.7v2.3h-63.7zM1057.5 493.1h63.7v2.3h-63.7zM1057.5 501h63.7v2.3h-63.7zM1057.5 505h63.7v2.3h-63.7zM1057.5 507h63.7v2.3h-63.7zM1057.5 515h63.7v2.3h-63.7zM1057.5 517h63.7v2.3h-63.7zM1057.5 530.9h63.7v2.3h-63.7zM1057.5 534.9h63.7v2.3h-63.7zM1057.5 540.9h63.7v2.3h-63.7zM1057.5 542.9h63.7v2.3h-63.7zM1057.5 558.8h63.7v2.3h-63.7zM1057.5 566.8h63.7v2.3h-63.7zM1057.5 568.8h63.7v2.3h-63.7zM1057.5 572.8h63.7v2.3h-63.7zM1057.5 574.8h63.7v2.3h-63.7zM1057.5 576.8h63.7v2.3h-63.7zM1057.5 588.7h63.7v2.3h-63.7zM1057.5 598.7h63.7v2.3h-63.7zM1057.5 606.7h63.7v2.3h-63.7zM1057.5 616.6h63.7v2.3h-63.7zM1057.5 620.6h63.7v2.3h-63.7zM1057.5 632.6h63.7v2.3h-63.7zM1057.5 634.6h63.7v2.3h-63.7zM1057.5 636.6h63.7v2.3h-63.7zM1057.5 642.5h63.7v2.3h-63.7zM1057.5 656.5h63.7v2.3h-63.7zM1057.5 670.4h63.7v2.3h-63.7zM1057.5 672.4h63.7v2.3h-63.7zM1057.5 678.4h63.7v2.3h-63.7zM1057.5 682.4h63.7v2.3h-63.7zM1057.5 688.4h63.7v2.3h-63.7zM1057.5 690.4h63.7v2.3h-63.7zM1057.5 706.3h63.7v2.3h-63.7zM1057.5 714.3h63.7v2.3h-63.7zM1057.5 720.3h63.7v2.3h-63.7zM1057.5 730.2h63.7v2.3h-63.7zM1057.5 732.2h63.7v2.3h-63.7zM867.2 770.2h63.7v2.3h-63.7zM867.2 826.1h63.7v2.3h-63.7zM867.2 844h63.7v2.3h-63.7zM867.2 935.9h63.7v2.3h-63.7zM867.2 941.9h63.7v2.3h-63.7zM867.2 971.9h63.7v2.3h-63.7zM867.2 985.8h63.7v2.3h-63.7zM867.2 1017.8h63.7v2.3h-63.7zM930.6 1039.7h63.7v2.3h-63.7z" fill="#6476bd"/>
<path d="M1057.5 455.2h63.7v2.3h-63.7zM1057.5 624.6h63.7v2.3h-63.7zM1057.5 640.5h63.7v2.3h-63.7zM867.2 742.2h63.7v2.3h-63.7zM867.2 792.1h63.7v2.3h-63.7zM867.2 882h63.7v2.3h-63.7zM867.2 983.8h63.7v2.3h-63.7zM867.2 1009.8h63.7v2.3h-63.7zM867.2 1045.7h63.7v2.3h-63.7zM867.2 1051.7h63.7v2.3h-63.7zM867.2 1069.7h63.7v2.3h-63.7zM1057.5 1045.7h63.7v2.3h-63.7z" fill="#8996cf"/>
<path d="M1057.5 457.2h63.7v2.3h-63.7zM1057.5 463.2h63.7v2.3h-63.7zM1057.5 469.1h63.7v2.3h-63.7zM1057.5 471.1h63.7v2.3h-63.7zM1057.5 473.1h63.7v2.3h-63.7zM1057.5 475.1h63.7v2.3h-63.7zM1057.5 483.1h63.7v2.3h-63.7zM1057.5 497h63.7v2.3h-63.7zM1057.5 503h63.7v2.3h-63.7zM1057.5 509h63.7v2.3h-63.7zM1057.5 519h63.7v2.3h-63.7zM1057.5 521h63.7v2.3h-63.7zM1057.5 548.9h63.7v2.3h-63.7zM1057.5 550.9h63.7v2.3h-63.7zM1057.5 552.9h63.7v2.3h-63.7zM1057.5 578.8h63.7v2.3h-63.7zM1057.5 582.7h63.7v2.3h-63.7zM1057.5 584.7h63.7v2.3h-63.7zM1057.5 586.7h63.7v2.3h-63.7zM1057.5 590.7h63.7v2.3h-63.7zM1057.5 594.7h63.7v2.3h-63.7zM1057.5 604.7h63.7v2.3h-63.7zM1057.5 608.7h63.7v2.3h-63.7zM1057.5 612.6h63.7v2.3h-63.7zM1057.5 614.6h63.7v2.3h-63.7zM1057.5 618.6h63.7v2.3h-63.7zM1057.5 626.6h63.7v2.3h-63.7zM1057.5 628.6h63.7v2.3h-63.7zM1057.5 644.5h63.7v2.3h-63.7zM1057.5 648.5h63.7v2.3h-63.7zM1057.5 650.5h63.7v2.3h-63.7zM1057.5 654.5h63.7v2.3h-63.7zM1057.5 662.5h63.7v2.3h-63.7zM1057.5 664.5h63.7v2.3h-63.7zM1057.5 666.5h63.7v2.3h-63.7zM1057.5 668.5h63.7v2.3h-63.7zM1057.5 676.4h63.7v2.3h-63.7zM1057.5 680.4h63.7v2.3h-63.7zM1057.5 684.4h63.7v2.3h-63.7zM1057.5 692.4h63.7v2.3h-63.7zM1057.5 694.4h63.7v2.3h-63.7zM1057.5 696.4h63.7v2.3h-63.7zM1057.5 708.3h63.7v2.3h-63.7zM1057.5 712.3h63.7v2.3h-63.7zM1057.5 716.3h63.7v2.3h-63.7zM1057.5 718.3h63.7v2.3h-63.7zM1057.5 724.3h63.7v2.3h-63.7zM1057.5 726.3h63.7v2.3h-63.7zM1057.5 740.2h63.7v2.3h-63.7zM867.2 744.2h63.7v2.3h-63.7zM867.2 750.2h63.7v2.3h-63.7zM867.2 788.1h63.7v2.3h-63.7zM867.2 794.1h63.7v2.3h-63.7zM867.2 810.1h63.7v2.3h-63.7zM867.2 820.1h63.7v2.3h-63.7zM867.2 822.1h63.7v2.3h-63.7zM867.2 838.1h63.7v2.3h-63.7zM867.2 846h63.7v2.3h-63.7zM867.2 862h63.7v2.3h-63.7zM867.2 872h63.7v2.3h-63.7zM867.2 886h63.7v2.3h-63.7zM867.2 909.9h63.7v2.3h-63.7zM867.2 923.9h63.7v2.3h-63.7zM867.2 933.9h63.7v2.3h-63.7zM867.2 949.9h63.7v2.3h-63.7zM867.2 977.8h63.7v2.3h-63.7zM867.2 989.8h63.7v2.3h-63.7zM867.2 1033.8h63.7v2.3h-63.7zM867.2 1037.8h63.7v2.3h-63.7zM867.2 1039.7h63.7v2.3h-63.7zM867.2 1041.7h63.7v2.3h-63.7zM867.2 1055.7h63.7v2.3h-63.7zM930.6 1055.7h63.7v2.3h-63.7z" fill="#6b7cc1"/>
<path d="M1057.5 459.2h63.7v2.3h-63.7zM1057.5 528.9h63.7v2.3h-63.7zM1057.5 560.8h63.7v2.3h-63.7zM1057.5 600.7h63.7v2.3h-63.7zM1057.5 658.5h63.7v2.3h-63.7zM1057.5 698.4h63.7v2.3h-63.7zM1057.5 710.3h63.7v2.3h-63.7zM867.2 760.2h63.7v2.3h-63.7zM867.2 764.2h63.7v2.3h-63.7zM867.2 768.2h63.7v2.3h-63.7zM867.2 772.2h63.7v2.3h-63.7zM867.2 790.1h63.7v2.3h-63.7zM867.2 798.1h63.7v2.3h-63.7zM867.2 800.1h63.7v2.3h-63.7zM867.2 802.1h63.7v2.3h-63.7zM867.2 806.1h63.7v2.3h-63.7zM867.2 814.1h63.7v2.3h-63.7zM867.2 828.1h63.7v2.3h-63.7zM867.2 832.1h63.7v2.3h-63.7zM867.2 836.1h63.7v2.3h-63.7zM867.2 852h63.7v2.3h-63.7zM867.2 854h63.7v2.3h-63.7zM867.2 864h63.7v2.3h-63.7zM867.2 884h63.7v2.3h-63.7zM867.2 896h63.7v2.3h-63.7zM867.2 902h63.7v2.3h-63.7zM867.2 929.9h63.7v2.3h-63.7zM867.2 947.9h63.7v2.3h-63.7zM867.2 951.9h63.7v2.3h-63.7zM867.2 961.9h63.7v2.3h-63.7zM867.2 965.9h63.7v2.3h-63.7zM867.2 967.9h63.7v2.3h-63.7zM867.2 975.8h63.7v2.3h-63.7zM867.2 999.8h63.7v2.3h-63.7zM867.2 1001.8h63.7v2.3h-63.7zM867.2 1003.8h63.7v2.3h-63.7zM867.2 1005.8h63.7v2.3h-63.7zM867.2 1007.8h63.7v2.3h-63.7zM867.2 1021.8h63.7v2.3h-63.7zM867.2 1023.8h63.7v2.3h-63.7zM867.2 1025.8h63.7v2.3h-63.7zM867.2 1027.8h63.7v2.3h-63.7zM867.2 1063.7h63.7v2.3h-63.7zM867.2 1065.7h63.7v2.3h-63.7z" fill="#7a89c8"/>
<path d="M1057.5 465.2h63.7v2.3h-63.7zM1057.5 477.1h63.7v2.3h-63.7zM1057.5 485.1h63.7v2.3h-63.7zM1057.5 487.1h63.7v2.3h-63.7zM1057.5 513h63.7v2.3h-63.7zM1057.5 524.9h63.7v2.3h-63.7zM1057.5 526.9h63.7v2.3h-63.7zM1057.5 536.9h63.7v2.3h-63.7zM1057.5 544.9h63.7v2.3h-63.7zM1057.5 546.9h63.7v2.3h-63.7zM1057.5 554.8h63.7v2.3h-63.7zM1057.5 556.8h63.7v2.3h-63.7zM1057.5 562.8h63.7v2.3h-63.7zM1057.5 580.8h63.7v2.3h-63.7zM1057.5 592.7h63.7v2.3h-63.7zM1057.5 596.7h63.7v2.3h-63.7zM1057.5 602.7h63.7v2.3h-63.7zM1057.5 630.6h63.7v2.3h-63.7zM1057.5 652.5h63.7v2.3h-63.7zM1057.5 660.5h63.7v2.3h-63.7zM1057.5 686.4h63.7v2.3h-63.7zM1057.5 734.2h63.7v2.3h-63.7zM1057.5 736.2h63.7v2.3h-63.7zM867.2 746.2h63.7v2.3h-63.7zM867.2 748.2h63.7v2.3h-63.7zM867.2 752.2h63.7v2.3h-63.7zM867.2 762.2h63.7v2.3h-63.7zM867.2 766.2h63.7v2.3h-63.7zM867.2 774.2h63.7v2.3h-63.7zM867.2 776.1h63.7v2.3h-63.7zM867.2 784.1h63.7v2.3h-63.7zM867.2 786.1h63.7v2.3h-63.7zM867.2 796.1h63.7v2.3h-63.7zM867.2 804.1h63.7v2.3h-63.7zM867.2 808.1h63.7v2.3h-63.7zM867.2 816.1h63.7v2.3h-63.7zM867.2 818.1h63.7v2.3h-63.7zM867.2 824.1h63.7v2.3h-63.7zM867.2 830.1h63.7v2.3h-63.7zM867.2 840.1h63.7v2.3h-63.7zM867.2 842h63.7v2.3h-63.7zM867.2 848h63.7v2.3h-63.7zM867.2 856h63.7v2.3h-63.7zM867.2 860h63.7v2.3h-63.7zM867.2 868h63.7v2.3h-63.7zM867.2 870h63.7v2.3h-63.7zM867.2 874h63.7v2.3h-63.7zM867.2 880h63.7v2.3h-63.7zM867.2 888h63.7v2.3h-63.7zM867.2 890h63.7v2.3h-63.7zM867.2 892h63.7v2.3h-63.7zM867.2 898h63.7v2.3h-63.7zM867.2 904h63.7v2.3h-63.7zM867.2 907.9h63.7v2.3h-63.7zM867.2 911.9h63.7v2.3h-63.7zM867.2 915.9h63.7v2.3h-63.7zM867.2 917.9h63.7v2.3h-63.7zM867.2 921.9h63.7v2.3h-63.7zM867.2 925.9h63.7v2.3h-63.7zM867.2 927.9h63.7v2.3h-63.7zM867.2 931.9h63.7v2.3h-63.7zM867.2 937.9h63.7v2.3h-63.7zM867.2 939.9h63.7v2.3h-63.7zM867.2 953.9h63.7v2.3h-63.7zM867.2 955.9h63.7v2.3h-63.7zM867.2 957.9h63.7v2.3h-63.7zM867.2 959.9h63.7v2.3h-63.7zM867.2 963.9h63.7v2.3h-63.7zM867.2 979.8h63.7v2.3h-63.7zM867.2 987.8h63.7v2.3h-63.7zM867.2 995.8h63.7v2.3h-63.7zM867.2 997.8h63.7v2.3h-63.7zM867.2 1011.8h63.7v2.3h-63.7zM867.2 1015.8h63.7v2.3h-63.7zM867.2 1019.8h63.7v2.3h-63.7zM867.2 1031.8h63.7v2.3h-63.7zM867.2 1035.8h63.7v2.3h-63.7zM867.2 1047.7h63.7v2.3h-63.7zM867.2 1053.7h63.7v2.3h-63.7zM867.2 1057.7h63.7v2.3h-63.7zM930.6 1021.8h63.7v2.3h-63.7z" fill="#7383c4"/>
<path d="M1057.5 564.8h63.7v2.3h-63.7zM1057.5 722.3h63.7v2.3h-63.7zM867.2 758.2h63.7v2.3h-63.7zM867.2 780.1h63.7v2.3h-63.7zM867.2 850h63.7v2.3h-63.7zM867.2 866h63.7v2.3h-63.7zM867.2 878h63.7v2.3h-63.7zM867.2 894h63.7v2.3h-63.7zM867.2 913.9h63.7v2.3h-63.7zM867.2 919.9h63.7v2.3h-63.7zM867.2 973.8h63.7v2.3h-63.7zM867.2 981.8h63.7v2.3h-63.7zM867.2 991.8h63.7v2.3h-63.7zM867.2 1013.8h63.7v2.3h-63.7zM867.2 1061.7h63.7v2.3h-63.7zM867.2 1067.7h63.7v2.3h-63.7z" fill="#8190cc"/>
<path d="M867.2 754.2h63.7v2.3h-63.7zM867.2 834.1h63.7v2.3h-63.7zM867.2 858h63.7v2.3h-63.7zM867.2 943.9h63.7v2.3h-63.7zM867.2 945.9h63.7v2.3h-63.7zM1057.5 742.2h63.7v2.3h-63.7zM1057.5 744.2h63.7v2.3h-63.7zM1057.5 750.2h63.7v2.3h-63.7zM1057.5 754.2h63.7v2.3h-63.7zM1057.5 758.2h63.7v2.3h-63.7zM1057.5 760.2h63.7v2.3h-63.7zM1057.5 766.2h63.7v2.3h-63.7zM1057.5 768.2h63.7v2.3h-63.7zM1057.5 772.2h63.7v2.3h-63.7zM1057.5 774.2h63.7v2.3h-63.7zM1057.5 776.1h63.7v2.3h-63.7zM1057.5 782.1h63.7v2.3h-63.7zM1057.5 786.1h63.7v2.3h-63.7zM1057.5 788.1h63.7v2.3h-63.7zM1057.5 790.1h63.7v2.3h-63.7zM1057.5 794.1h63.7v2.3h-63.7zM1057.5 796.1h63.7v2.3h-63.7zM1057.5 798.1h63.7v2.3h-63.7zM1057.5 800.1h63.7v2.3h-63.7zM1057.5 802.1h63.7v2.3h-63.7zM1057.5 814.1h63.7v2.3h-63.7zM1057.5 816.1h63.7v2.3h-63.7zM1057.5 822.1h63.7v2.3h-63.7zM1057.5 828.1h63.7v2.3h-63.7zM1057.5 838.1h63.7v2.3h-63.7zM1057.5 842h63.7v2.3h-63.7zM1057.5 860h63.7v2.3h-63.7zM1057.5 868h63.7v2.3h-63.7zM1057.5 870h63.7v2.3h-63.7zM1057.5 874h63.7v2.3h-63.7zM1057.5 876h63.7v2.3h-63.7zM1057.5 878h63.7v2.3h-63.7zM1057.5 880h63.7v2.3h-63.7zM1057.5 882h63.7v2.3h-63.7zM1057.5 886h63.7v2.3h-63.7zM1057.5 894h63.7v2.3h-63.7zM1057.5 898h63.7v2.3h-63.7zM1057.5 904h63.7v2.3h-63.7zM1057.5 906h63.7v2.3h-63.7zM1057.5 911.9h63.7v2.3h-63.7zM1057.5 919.9h63.7v2.3h-63.7zM1057.5 923.9h63.7v2.3h-63.7zM1057.5 941.9h63.7v2.3h-63.7zM1057.5 947.9h63.7v2.3h-63.7zM1057.5 955.9h63.7v2.3h-63.7zM1057.5 961.9h63.7v2.3h-63.7zM1057.5 967.9h63.7v2.3h-63.7zM1057.5 969.9h63.7v2.3h-63.7zM1057.5 975.8h63.7v2.3h-63.7zM1057.5 977.8h63.7v2.3h-63.7zM1057.5 985.8h63.7v2.3h-63.7zM1057.5 995.8h63.7v2.3h-63.7zM1057.5 997.8h63.7v2.3h-63.7zM1057.5 1005.8h63.7v2.3h-63.7zM1057.5 1009.8h63.7v2.3h-63.7zM1057.5 1011.8h63.7v2.3h-63.7zM1057.5 1035.8h63.7v2.3h-63.7zM1057.5 1037.8h63.7v2.3h-63.7zM1057.5 1041.7h63.7v2.3h-63.7zM1057.5 1055.7h63.7v2.3h-63.7zM1057.5 1061.7h63.7v2.3h-63.7zM1057.5 1063.7h63.7v2.3h-63.7zM1057.5 1069.7h63.7v2.3h-63.7z" fill="#9faada"/>
<path d="M867.2 756.2h63.7v2.3h-63.7zM867.2 778.1h63.7v2.3h-63.7zM867.2 782.1h63.7v2.3h-63.7zM867.2 906h63.7v2.3h-63.7zM867.2 993.8h63.7v2.3h-63.7zM1057.5 752.2h63.7v2.3h-63.7zM1057.5 756.2h63.7v2.3h-63.7zM1057.5 770.2h63.7v2.3h-63.7zM1057.5 778.1h63.7v2.3h-63.7zM1057.5 812.1h63.7v2.3h-63.7zM1057.5 824.1h63.7v2.3h-63.7zM1057.5 834.1h63.7v2.3h-63.7zM1057.5 840.1h63.7v2.3h-63.7zM1057.5 846h63.7v2.3h-63.7zM1057.5 850h63.7v2.3h-63.7zM1057.5 852h63.7v2.3h-63.7zM1057.5 856h63.7v2.3h-63.7zM1057.5 866h63.7v2.3h-63.7zM1057.5 872h63.7v2.3h-63.7zM1057.5 890h63.7v2.3h-63.7zM1057.5 892h63.7v2.3h-63.7zM1057.5 907.9h63.7v2.3h-63.7zM1057.5 931.9h63.7v2.3h-63.7zM1057.5 935.9h63.7v2.3h-63.7zM1057.5 943.9h63.7v2.3h-63.7zM1057.5 951.9h63.7v2.3h-63.7zM1057.5 959.9h63.7v2.3h-63.7zM1057.5 973.8h63.7v2.3h-63.7zM1057.5 979.8h63.7v2.3h-63.7zM1057.5 987.8h63.7v2.3h-63.7zM1057.5 989.8h63.7v2.3h-63.7zM1057.5 993.8h63.7v2.3h-63.7zM1057.5 1013.8h63.7v2.3h-63.7zM1057.5 1015.8h63.7v2.3h-63.7zM1057.5 1017.8h63.7v2.3h-63.7zM1057.5 1043.7h63.7v2.3h-63.7zM1057.5 1049.7h63.7v2.3h-63.7zM1057.5 1057.7h63.7v2.3h-63.7zM1057.5 1065.7h63.7v2.3h-63.7zM1057.5 1067.7h63.7v2.3h-63.7z" fill="#97a3d7"/>
<path d="M867.2 812.1h63.7v2.3h-63.7zM867.2 876h63.7v2.3h-63.7zM867.2 900h63.7v2.3h-63.7zM867.2 1029.8h63.7v2.3h-63.7zM867.2 1049.7h63.7v2.3h-63.7zM1057.5 804.1h63.7v2.3h-63.7zM1057.5 820.1h63.7v2.3h-63.7zM1057.5 864h63.7v2.3h-63.7zM1057.5 888h63.7v2.3h-63.7zM1057.5 896h63.7v2.3h-63.7zM1057.5 913.9h63.7v2.3h-63.7zM1057.5 963.9h63.7v2.3h-63.7zM1057.5 1007.8h63.7v2.3h-63.7zM1057.5 1031.8h63.7v2.3h-63.7zM1057.5 1051.7h63.7v2.3h-63.7z" fill="#909dd3"/>
<path d="M867.2 969.9h63.7v2.3h-63.7zM1057.5 748.2h63.7v2.3h-63.7zM1057.5 762.2h63.7v2.3h-63.7zM1057.5 764.2h63.7v2.3h-63.7zM1057.5 780.1h63.7v2.3h-63.7zM1057.5 784.1h63.7v2.3h-63.7zM1057.5 792.1h63.7v2.3h-63.7zM1057.5 806.1h63.7v2.3h-63.7zM1057.5 818.1h63.7v2.3h-63.7zM1057.5 826.1h63.7v2.3h-63.7zM1057.5 830.1h63.7v2.3h-63.7zM1057.5 844h63.7v2.3h-63.7zM1057.5 848h63.7v2.3h-63.7zM1057.5 854h63.7v2.3h-63.7zM1057.5 858h63.7v2.3h-63.7zM1057.5 884h63.7v2.3h-63.7zM1057.5 909.9h63.7v2.3h-63.7zM1057.5 917.9h63.7v2.3h-63.7zM1057.5 921.9h63.7v2.3h-63.7zM1057.5 927.9h63.7v2.3h-63.7zM1057.5 929.9h63.7v2.3h-63.7zM1057.5 933.9h63.7v2.3h-63.7zM1057.5 937.9h63.7v2.3h-63.7zM1057.5 939.9h63.7v2.3h-63.7zM1057.5 949.9h63.7v2.3h-63.7zM1057.5 953.9h63.7v2.3h-63.7zM1057.5 957.9h63.7v2.3h-63.7zM1057.5 965.9h63.7v2.3h-63.7zM1057.5 971.9h63.7v2.3h-63.7zM1057.5 981.8h63.7v2.3h-63.7zM1057.5 983.8h63.7v2.3h-63.7zM1057.5 999.8h63.7v2.3h-63.7zM1057.5 1001.8h63.7v2.3h-63.7zM1057.5 1003.8h63.7v2.3h-63.7zM1057.5 1019.8h63.7v2.3h-63.7zM1057.5 1025.8h63.7v2.3h-63.7zM1057.5 1027.8h63.7v2.3h-63.7zM1057.5 1029.8h63.7v2.3h-63.7zM1057.5 1033.8h63.7v2.3h-63.7zM1057.5 1047.7h63.7v2.3h-63.7zM1057.5 1053.7h63.7v2.3h-63.7zM1057.5 1059.7h63.7v2.3h-63.7z" fill="#a6b0de"/>
<path d="M994.1 746.2h63.7v2.3h-63.7zM994.1 748.2h63.7v2.3h-63.7zM994.1 756.2h63.7v2.3h-63.7zM994.1 760.2h63.7v2.3h-63.7zM994.1 776.1h63.7v2.3h-63.7zM994.1 792.1h63.7v2.3h-63.7zM994.1 796.1h63.7v2.3h-63.7zM994.1 798.1h63.7v2.3h-63.7zM994.1 814.1h63.7v2.3h-63.7zM994.1 856h63.7v2.3h-63.7zM994.1 858h63.7v2.3h-63.7zM994.1 860h63.7v2.3h-63.7zM994.1 870h63.7v2.3h-63.7zM994.1 872h63.7v2.3h-63.7zM994.1 882h63.7v2.3h-63.7zM994.1 884h63.7v2.3h-63.7zM994.1 888h63.7v2.3h-63.7zM994.1 890h63.7v2.3h-63.7zM994.1 921.9h63.7v2.3h-63.7zM994.1 929.9h63.7v2.3h-63.7zM994.1 939.9h63.7v2.3h-63.7zM994.1 945.9h63.7v2.3h-63.7zM994.1 951.9h63.7v2.3h-63.7zM994.1 969.9h63.7v2.3h-63.7zM994.1 973.8h63.7v2.3h-63.7zM994.1 985.8h63.7v2.3h-63.7zM994.1 1001.8h63.7v2.3h-63.7zM994.1 1009.8h63.7v2.3h-63.7zM994.1 1017.8h63.7v2.3h-63.7zM994.1 1053.7h63.7v2.3h-63.7zM994.1 1067.7h63.7v2.3h-63.7zM994.1 1069.7h63.7v2.3h-63.7z" fill="#e4e6f5"/>
<path d="M1057.5 746.2h63.7v2.3h-63.7zM1057.5 808.1h63.7v2.3h-63.7zM1057.5 810.1h63.7v2.3h-63.7zM1057.5 832.1h63.7v2.3h-63.7zM1057.5 836.1h63.7v2.3h-63.7zM1057.5 862h63.7v2.3h-63.7zM1057.5 900h63.7v2.3h-63.7zM1057.5 915.9h63.7v2.3h-63.7zM1057.5 925.9h63.7v2.3h-63.7zM1057.5 945.9h63.7v2.3h-63.7zM1057.5 991.8h63.7v2.3h-63.7zM1057.5 1021.8h63.7v2.3h-63.7zM1057.5 1023.8h63.7v2.3h-63.7zM1057.5 1039.7h63.7v2.3h-63.7z" fill="#acb5e0"/>
<rect x="865.8" y="449.8" width="256.5" height="623.3" fill="none" stroke="#000" stroke-width="3" />
<line x1="857.1" y1="447.3" x2="857.1" y2="1075" stroke="#000" stroke-width="2.2" />
<line x1="1129" y1="451.2" x2="1129" y2="741.2" stroke="#b03a3d" stroke-width="4" />
<line x1="1129" y1="745" x2="1129" y2="1072" stroke="#3d6d86" stroke-width="4" />
<text transform="translate(846 771.5) rotate(-90)" font-size="28.7" text-anchor="middle">PROseq at protein coding genes</text>
<text x="857.2" y="1124.1" font-size="25.7">LogFC&gt;0.5</text>
<text x="857.2" y="1148.1" font-size="25.7">p-val&lt;0.05</text>
<defs><linearGradient id="cb1012" x1="0" x2="1" y1="0" y2="0"><stop offset="0" stop-color="#fafafd"/><stop offset="0.5" stop-color="#a6b0de"/><stop offset="1" stop-color="#384fa7"/></linearGradient></defs>
<rect x="1012.1" y="1111" width="121.3" height="26.6" fill="url(#cb1012)" stroke="#444" stroke-width="1.2" />
<line x1="1032" y1="1111" x2="1032" y2="1116" stroke="#333" stroke-width="1.4" />
<line x1="1032" y1="1132.6" x2="1032" y2="1137.6" stroke="#333" stroke-width="1.4" />
<line x1="1072.8" y1="1111" x2="1072.8" y2="1116" stroke="#333" stroke-width="1.4" />
<line x1="1072.8" y1="1132.6" x2="1072.8" y2="1137.6" stroke="#333" stroke-width="1.4" />
<line x1="1113.2" y1="1111" x2="1113.2" y2="1116" stroke="#333" stroke-width="1.4" />
<line x1="1113.2" y1="1132.6" x2="1113.2" y2="1137.6" stroke="#333" stroke-width="1.4" />
<text x="1029.5" y="1104.4" font-size="25.5" text-anchor="middle">-1</text>
<text x="1071.8" y="1104.4" font-size="25.5" text-anchor="middle">0</text>
<text x="1112.2" y="1104.4" font-size="25.5" text-anchor="middle">1</text>
<text x="1070.5" y="1160" font-size="27.5" text-anchor="middle">z-score</text>
<path d="M1131.6 451 L1164.8 483.5 L1164.8 714.8 L1131.6 741Z" fill="#f9d8db" />
<path d="M1131.6 745.3 L1168.8 793.3 L1168.8 1024.6 L1131.6 1067.8Z" fill="#e6e9ee" />
<text transform="translate(1135.6 596.6) rotate(90)" font-size="26.3" text-anchor="middle" font-weight="bold" fill="#2a1416">632</text>
<text transform="translate(1139.6 907.9) rotate(90)" font-size="26.3" text-anchor="middle" font-weight="bold" fill="#202a32">709</text>
<rect x="1164.8" y="483.5" width="431.9" height="231.3" fill="#fadadd" stroke="#111" stroke-width="1.8" />
<line x1="1405.3" y1="483.5" x2="1405.3" y2="714.8" stroke="#111" stroke-width="1.8" />
<line x1="1490.5" y1="483.5" x2="1490.5" y2="714.8" stroke="#111" stroke-width="1.8" />
<text x="1304" y="469.9" font-size="31.2" text-anchor="middle" font-weight="bold">Top GO terms</text>
<text x="1458.5" y="469.9" font-size="30" text-anchor="middle" font-weight="bold">p-val</text>
<text x="1548.7" y="469.9" font-size="30.2" text-anchor="middle" font-weight="bold">Gene</text>
<text x="1280.7" y="519.8" font-size="27" text-anchor="middle">ECM organization</text>
<text x="1278.5" y="583.8" font-size="27" text-anchor="middle">Pos. regulation</text>
<text x="1282" y="608.8" font-size="27" text-anchor="middle">of cell motility</text>
<text x="1286.5" y="664.4" font-size="27" text-anchor="middle">Pos. regulation</text>
<text x="1290.3" y="689.2" font-size="27" text-anchor="middle">of cell migration</text>
<text x="1447.5" y="530.5" font-size="27" text-anchor="middle"><tspan font-style="italic">5.6</tspan>e<tspan font-size="15" dy="-9.5">-8</tspan></text>
<text x="1447.5" y="599" font-size="27" text-anchor="middle"><tspan font-style="italic">7.6</tspan>e<tspan font-size="15" dy="-9.5">-6</tspan></text>
<text x="1447.5" y="675.9" font-size="27" text-anchor="middle"><tspan font-style="italic">2.5</tspan>e<tspan font-size="15" dy="-9.5">-4</tspan></text>
<text x="1543.5" y="510.8" font-size="27" text-anchor="middle" font-style="italic">Postn</text>
<text x="1543.5" y="537.7" font-size="27" text-anchor="middle" font-style="italic">Pdgfa</text>
<text x="1543.5" y="577.4" font-size="27" text-anchor="middle" font-style="italic">Pdgfb</text>
<text x="1543.5" y="604.2" font-size="27" text-anchor="middle" font-style="italic">Pdgfc</text>
<text x="1543.5" y="631.1" font-size="27" text-anchor="middle" font-style="italic">Igf1</text>
<text x="1543.5" y="665.6" font-size="27" text-anchor="middle" font-style="italic">Lef1</text>
<text x="1543.5" y="692.5" font-size="27" text-anchor="middle" font-style="italic">Sema7a</text>
<rect x="1168.8" y="793.3" width="432.2" height="231.3" fill="#e7ebf1" stroke="#111" stroke-width="1.8" />
<line x1="1426" y1="793.3" x2="1426" y2="1027" stroke="#111" stroke-width="1.8" />
<line x1="1501.1" y1="793.3" x2="1501.1" y2="1024.6" stroke="#111" stroke-width="1.8" />
<text x="1308.5" y="782.6" font-size="31.2" text-anchor="middle" font-weight="bold">Top GO terms</text>
<text x="1466.2" y="782.6" font-size="30" text-anchor="middle" font-weight="bold">p-val</text>
<text x="1556.4" y="782.6" font-size="30.2" text-anchor="middle" font-weight="bold">Gene</text>
<text x="1290.2" y="820" font-size="27" text-anchor="middle">ECM organization</text>
<text x="1299.1" y="887.9" font-size="27" text-anchor="middle">Neg. regulation of</text>
<text x="1296.5" y="917.2" font-size="27" text-anchor="middle">response to stimulus</text>
<text x="1291.9" y="970.5" font-size="27" text-anchor="middle">Neg. regulation of</text>
<text x="1291.2" y="1001.2" font-size="27" text-anchor="middle">cell adhesion</text>
<text x="1459" y="824.8" font-size="27" text-anchor="middle"><tspan font-style="italic">5.5</tspan>e<tspan font-size="15" dy="-9.5">-4</tspan></text>
<text x="1463.8" y="893.3" font-size="27" text-anchor="middle"><tspan font-style="italic">3.7</tspan>e<tspan font-size="15" dy="-9.5">-3</tspan></text>
<text x="1466.2" y="981.2" font-size="27" text-anchor="middle"><tspan font-style="italic">3.7</tspan>e<tspan font-size="15" dy="-9.5">-3</tspan></text>
<text x="1550.5" y="819.4" font-size="27" text-anchor="middle" font-style="italic">Col6a1</text>
<text x="1550.5" y="842.6" font-size="27" text-anchor="middle" font-style="italic">Itga8</text>
<text x="1550.5" y="888.7" font-size="27" text-anchor="middle" font-style="italic">Icam1</text>
<text x="1550.5" y="913.2" font-size="27" text-anchor="middle" font-style="italic">Ror1</text>
<text x="1550.5" y="938.6" font-size="27" text-anchor="middle" font-style="italic">Fgfr2</text>
<text x="1550.5" y="982.5" font-size="27" text-anchor="middle" font-style="italic">Plxna2</text>
<text x="1550.5" y="1005.2" font-size="27" text-anchor="middle" font-style="italic">Dscam</text>
<text x="1639.5" y="447" font-size="46" font-weight="bold">f</text>
<text x="1940.4" y="449.8" font-size="28" text-anchor="middle">Metagene analysis at genes</text>
<text transform="translate(1835.4 489.2) scale(1.4 1)" font-size="33.8" text-anchor="middle" font-family="'Noto Sans CJK JP', 'Liberation Sans', sans-serif">↑</text>
<text x="1851.5" y="486.7" font-size="27.5" fill="#d42a2e">TGFβ</text>
<text x="1932.3" y="486.7" font-size="27.5">vs. Unstim</text>
<line x1="1772.9" y1="507.7" x2="1772.9" y2="747.4" stroke="#000" stroke-width="2.2" />
<line x1="1767.5" y1="746.4" x2="2112" y2="746.4" stroke="#000" stroke-width="2.2" />
<line x1="1765.9" y1="746.4" x2="1772.9" y2="746.4" stroke="#000" stroke-width="2" />
<text x="1761.4" y="754.7" font-size="23" text-anchor="end">0.000</text>
<line x1="1765.9" y1="666.4" x2="1772.9" y2="666.4" stroke="#000" stroke-width="2" />
<text x="1761.4" y="674.7" font-size="23" text-anchor="end">0.010</text>
<line x1="1765.9" y1="586.4" x2="1772.9" y2="586.4" stroke="#000" stroke-width="2" />
<text x="1761.4" y="594.7" font-size="23" text-anchor="end">0.020</text>
<line x1="1765.9" y1="506.4" x2="1772.9" y2="506.4" stroke="#000" stroke-width="2" />
<text x="1761.4" y="514.7" font-size="23" text-anchor="end">0.030</text>
<line x1="1772.9" y1="746.4" x2="1772.9" y2="752.4" stroke="#000" stroke-width="2" />
<line x1="1823.2" y1="746.4" x2="1823.2" y2="752.4" stroke="#000" stroke-width="2" />
<line x1="1856.9" y1="746.4" x2="1856.9" y2="752.4" stroke="#000" stroke-width="2" />
<line x1="2026.5" y1="746.4" x2="2026.5" y2="752.4" stroke="#000" stroke-width="2" />
<line x1="2110" y1="746.4" x2="2110" y2="752.4" stroke="#000" stroke-width="2" />
<line x1="1856.9" y1="508" x2="1856.9" y2="746.4" stroke="#000" stroke-width="2" stroke-dasharray="1.6 7"/>
<line x1="2026.5" y1="508" x2="2026.5" y2="746.4" stroke="#000" stroke-width="2" stroke-dasharray="1.6 7"/>
<text x="1767.8" y="777.7" font-size="23.5" text-anchor="middle">-5k</text>
<text x="1819.2" y="777.7" font-size="23.5" text-anchor="middle">-2k</text>
<text x="1868.3" y="777.7" font-size="23.5" text-anchor="middle">TSS</text>
<text x="2029.8" y="777.7" font-size="23.5" text-anchor="middle">TTS</text>
<text x="2107.5" y="777.7" font-size="23.5" text-anchor="middle">5k</text>
<text x="2040" y="531.9" font-size="27.5">Unstim</text>
<text x="2042" y="562.9" font-size="27.5" fill="#d42a2e">TGFβ</text>
<text x="1941.5" y="732.4" font-size="24" text-anchor="middle">n=632 genes</text>
<text transform="translate(1683.5 625.4) rotate(-90)" font-size="26.6" text-anchor="middle">PROseq tag+ density</text>
<path d="M1772.9 706 L1774.3 706.8 L1775.7 706.2 L1777.1 704.2 L1778.5 707.3 L1779.9 706.8 L1781.3 705.6 L1782.7 707.3 L1784.1 707.1 L1785.5 707.1 L1786.9 706.9 L1788.2 707.9 L1789.6 706.6 L1790.9 707.7 L1792.3 707.6 L1793.6 709.4 L1795 708.9 L1796.3 708.8 L1797.7 708.5 L1799 709.6 L1800.4 710.2 L1801.7 710.2 L1803 712.7 L1804.4 712.6 L1805.7 707.9 L1807.1 709.4 L1808.4 712 L1809.8 710.3 L1811.1 709.9 L1812.5 708.5 L1813.8 709.7 L1815.2 706.4 L1816.5 708.4 L1817.9 712.7 L1819.2 711.8 L1820.5 712.8 L1821.9 712.2 L1823.2 711.7 L1824.6 715.2 L1825.9 714.1 L1827.3 711.3 L1828.6 711 L1830 710.8 L1831.3 708.6 L1832.7 708.8 L1834 708 L1835.3 706.9 L1836.7 704.8 L1838 705 L1839.4 704 L1840.7 701.9 L1842.1 699 L1843.4 699.8 L1844.8 696.8 L1846.1 697.3 L1847.5 693.9 L1848.8 695.8 L1850.2 693.8 L1851.5 691.3 L1852.8 691.8 L1854.2 691.6 L1855.5 690.7 L1856.9 524.2 L1858.2 523.8 L1859.6 525 L1860.9 537.6 L1862.3 547.4 L1863.6 573.9 L1865 600.2 L1866.3 598.3 L1867.7 602.2 L1869 604.9 L1870.3 604.2 L1871.7 604.8 L1873 608.3 L1874.4 613 L1875.7 619.2 L1877.1 623 L1878.4 626.8 L1879.8 627.7 L1881.1 626.2 L1882.5 626.8 L1883.8 625 L1885.1 621.6 L1886.5 621.1 L1887.8 622.9 L1889.2 621.6 L1890.5 621.9 L1891.9 624.8 L1893.2 627.4 L1894.6 629.4 L1895.9 632 L1897.3 633.2 L1898.6 634.7 L1900 636.5 L1901.3 637.6 L1902.6 632.5 L1904 634.7 L1905.3 634.2 L1906.7 634.5 L1908 639 L1909.4 639.9 L1910.7 644.1 L1912.1 645 L1913.4 648.2 L1914.8 651.1 L1916.1 652.2 L1917.5 649.7 L1918.8 648 L1920.1 651.5 L1921.5 648.2 L1922.8 646.6 L1924.2 646.8 L1925.5 645.5 L1926.9 646.1 L1928.2 641.6 L1929.6 638.2 L1930.9 633.9 L1932.3 632.1 L1933.6 640.9 L1934.9 653.9 L1936.3 655.5 L1937.6 651.9 L1939 651.1 L1940.3 655.7 L1941.7 658.7 L1943 654.4 L1944.4 652.7 L1945.7 653.8 L1947.1 650.6 L1948.4 649.7 L1949.8 648.5 L1951.1 648.4 L1952.4 645.8 L1953.8 645.3 L1955.1 643.4 L1956.5 641.1 L1957.8 645.2 L1959.2 647.7 L1960.5 652.4 L1961.9 654.2 L1963.2 653.6 L1964.6 656.3 L1965.9 653.6 L1967.3 653 L1968.6 653.1 L1969.9 651.1 L1971.3 651.8 L1972.6 653.2 L1974 653.4 L1975.3 651.9 L1976.7 655.1 L1978 653.6 L1979.4 653.4 L1980.7 654.1 L1982.1 655.2 L1983.4 658.4 L1984.7 655 L1986.1 657.3 L1987.4 652.7 L1988.8 654 L1990.1 653.7 L1991.5 650.7 L1992.8 648.7 L1994.2 648.3 L1995.5 647.4 L1996.9 645.9 L1998.2 647.1 L1999.6 644.2 L2000.9 642.5 L2002.2 642.6 L2003.6 642.2 L2004.9 641.9 L2006.3 641.2 L2007.6 640.9 L2009 637.9 L2010.3 640.7 L2011.7 638.3 L2013 636.9 L2014.4 638.8 L2015.7 639.2 L2017 637.5 L2018.4 637.8 L2019.7 637 L2021.1 642.8 L2022.4 640.8 L2023.8 638.7 L2025.1 639.9 L2026.5 631.6 L2027.8 620 L2029.2 612.9 L2030.5 607.3 L2031.9 604.9 L2033.2 599.8 L2034.5 590.2 L2035.9 588 L2037.2 580 L2038.6 577.8 L2039.9 579 L2041.3 581.9 L2042.6 582.2 L2044 588.5 L2045.3 591.1 L2046.7 588 L2048 591 L2049.4 590.6 L2050.7 592.4 L2052 594 L2053.4 601.4 L2054.7 600.8 L2056.1 604.9 L2057.4 609.1 L2058.8 610.8 L2060.1 614.5 L2061.5 617.3 L2062.8 620.6 L2064.2 621.8 L2065.5 625.5 L2066.8 628.5 L2068.2 631.1 L2069.5 634.3 L2070.9 637.8 L2072.2 643.3 L2073.6 645.9 L2074.9 650.2 L2076.3 653.5 L2077.6 657.7 L2079 652.7 L2080.3 651 L2081.7 644.8 L2083 641.3 L2084.3 645.4 L2085.7 648.2 L2087 649.8 L2088.4 650.3 L2089.7 656.3 L2091.1 658.8 L2092.4 657.5 L2093.8 661.5 L2095.1 660.5 L2096.5 660.9 L2097.8 663.6 L2099.2 664.2 L2100.5 665.8 L2101.8 664.3 L2103.2 671.2 L2104.5 670.2 L2105.9 671.2 L2107.2 676.3 L2108.6 677.2 L2109.9 680" fill="none" stroke="#e0282c" stroke-width="2.8" stroke-linejoin="round"/>
<path d="M1772.9 713.8 L1774.3 713.3 L1775.8 713.6 L1777.2 711.6 L1778.6 716.4 L1780.1 716 L1781.5 714.6 L1782.9 716.1 L1784.2 715.8 L1785.5 715.2 L1786.9 717.1 L1788.2 716 L1789.6 716.2 L1790.9 716 L1792.3 717.6 L1793.6 717.3 L1795 718.2 L1796.3 717.5 L1797.7 718.9 L1799 718.4 L1800.4 720.8 L1801.7 720.6 L1803 721.4 L1804.4 722 L1805.7 721 L1807.1 723.5 L1808.4 725.5 L1809.8 722 L1811.1 722.5 L1812.5 722.5 L1813.8 724.7 L1815.2 723.7 L1816.5 724.5 L1817.9 723.8 L1819.2 723 L1820.5 722.8 L1821.9 722 L1823.2 722.9 L1824.6 720.5 L1825.9 721.4 L1827.3 722.3 L1828.6 724.1 L1830 721.5 L1831.3 721.4 L1832.7 722.1 L1834 723.9 L1835.3 722.8 L1836.7 723.4 L1838 719 L1839.4 721.2 L1840.7 720.1 L1842.1 716.4 L1843.4 717.1 L1844.8 717.3 L1846.1 715 L1847.5 716 L1848.8 717.5 L1850.2 715.2 L1851.5 714.6 L1852.8 714.1 L1854.2 715.6 L1855.5 714.9 L1856.9 634 L1858.2 634.9 L1859.6 635.9 L1860.9 637.6 L1862.3 647.8 L1863.6 659.5 L1865 659.6 L1866.3 664.6 L1867.7 664.4 L1869 667 L1870.3 666.5 L1871.7 667.3 L1873 670.1 L1874.4 671.1 L1875.7 671.4 L1877.1 673.4 L1878.4 677.8 L1879.8 676 L1881.1 675.7 L1882.5 674.6 L1883.8 673.8 L1885.1 675.2 L1886.5 673.8 L1887.8 672.7 L1889.2 673.1 L1890.5 673.9 L1891.9 676.8 L1893.2 679.5 L1894.6 679.1 L1895.9 681.8 L1897.3 679.9 L1898.6 681.1 L1900 680.4 L1901.3 681.4 L1902.6 682 L1904 681.8 L1905.3 681.9 L1906.7 682.9 L1908 683.8 L1909.4 684 L1910.7 686.4 L1912.1 688.1 L1913.4 689.7 L1914.8 690.4 L1916.1 693.4 L1917.5 690.4 L1918.8 688.9 L1920.1 690.7 L1921.5 686.9 L1922.8 688.4 L1924.2 685.7 L1925.5 686.4 L1926.9 683.2 L1928.2 684.6 L1929.6 681.8 L1930.9 679.2 L1932.3 680.4 L1933.6 684.1 L1934.9 688.1 L1936.3 687.7 L1937.6 688.9 L1939 689.2 L1940.3 690.6 L1941.7 691.1 L1943 690 L1944.4 689.9 L1945.7 689.6 L1947.1 688.5 L1948.4 689 L1949.8 689.3 L1951.1 689.9 L1952.4 690.3 L1953.8 687.7 L1955.1 688.9 L1956.5 687.6 L1957.8 690.7 L1959.2 688.8 L1960.5 689.8 L1961.9 688.6 L1963.2 689.2 L1964.6 690.7 L1965.9 690.4 L1967.3 691.6 L1968.6 690 L1969.9 692.8 L1971.3 691 L1972.6 693.7 L1974 691.4 L1975.3 692.7 L1976.7 689.9 L1978 691.7 L1979.4 690.2 L1980.7 690.5 L1982.1 690.9 L1983.4 690.4 L1984.7 690.7 L1986.1 691 L1987.4 690.6 L1988.8 689.6 L1990.1 687.9 L1991.5 688.2 L1992.8 688.6 L1994.2 686.3 L1995.5 689.1 L1996.9 687.8 L1998.2 687.1 L1999.6 687.7 L2000.9 686.7 L2002.2 685.6 L2003.6 683.6 L2004.9 684.3 L2006.3 683.7 L2007.6 681.7 L2009 683.1 L2010.3 681.8 L2011.7 678.5 L2013 680.1 L2014.4 677.9 L2015.7 679.8 L2017 678.8 L2018.4 676.1 L2019.7 676.8 L2021.1 678.4 L2022.4 678.6 L2023.8 681.1 L2025.1 680.8 L2026.5 675.2 L2027.8 671.6 L2029.2 664.3 L2030.5 662.8 L2031.9 659.4 L2033.2 654.2 L2034.5 649.6 L2035.9 648.3 L2037.2 647.1 L2038.6 642.5 L2039.9 643.1 L2041.3 647.9 L2042.6 646.3 L2044 650.9 L2045.3 650.5 L2046.7 653 L2048 651.9 L2049.4 655 L2050.7 654.7 L2052 654.4 L2053.4 656 L2054.7 659.6 L2056.1 663.2 L2057.4 663.8 L2058.8 665.6 L2060.1 667.1 L2061.5 670 L2062.8 670.6 L2064.2 671.5 L2065.5 671.2 L2066.8 674.5 L2068.2 675.7 L2069.5 673.8 L2070.9 678.7 L2072.2 678 L2073.6 680.1 L2074.9 681.9 L2076.3 688.1 L2077.6 691.3 L2079 688.7 L2080.3 686.1 L2081.7 687.9 L2083 684.7 L2084.3 686.2 L2085.7 691.1 L2087 691.7 L2088.4 691.7 L2089.7 690.9 L2091.1 692.8 L2092.4 690.3 L2093.8 693.5 L2095.1 693.3 L2096.5 693.4 L2097.8 693.7 L2099.2 696.7 L2100.5 696.8 L2101.8 697.5 L2103.2 698.8 L2104.5 697.6 L2105.9 697.8 L2107.2 697.8 L2108.6 699.9 L2109.9 701.7 L2111.3 701.5" fill="none" stroke="#000" stroke-width="2.8" stroke-linejoin="round"/>
<text x="1940.4" y="843.6" font-size="28" text-anchor="middle">Metagene analysis at genes</text>
<text transform="translate(1830 895.9) scale(1.4 1)" font-size="33.8" text-anchor="middle" font-family="'Noto Sans CJK JP', 'Liberation Sans', sans-serif">↓</text>
<text x="1845.6" y="892.1" font-size="27.5" fill="#d42a2e">TGFβ</text>
<text x="1925.5" y="892.1" font-size="27.5">vs. Unstim</text>
<line x1="1774.2" y1="907.4" x2="1774.2" y2="1153.7" stroke="#000" stroke-width="2.2" />
<line x1="1769.4" y1="1152.7" x2="2118" y2="1152.7" stroke="#000" stroke-width="2.2" />
<line x1="1767.2" y1="1152.7" x2="1774.2" y2="1152.7" stroke="#000" stroke-width="2" />
<text x="1761.7" y="1161" font-size="23" text-anchor="end">0.000</text>
<line x1="1767.2" y1="1091.4" x2="1774.2" y2="1091.4" stroke="#000" stroke-width="2" />
<text x="1761.7" y="1099.7" font-size="23" text-anchor="end">0.005</text>
<line x1="1767.2" y1="1030.1" x2="1774.2" y2="1030.1" stroke="#000" stroke-width="2" />
<text x="1761.7" y="1038.4" font-size="23" text-anchor="end">0.010</text>
<line x1="1767.2" y1="968.7" x2="1774.2" y2="968.7" stroke="#000" stroke-width="2" />
<text x="1761.7" y="977" font-size="23" text-anchor="end">0.015</text>
<line x1="1767.2" y1="907.4" x2="1774.2" y2="907.4" stroke="#000" stroke-width="2" />
<text x="1761.7" y="915.7" font-size="23" text-anchor="end">0.020</text>
<line x1="1774.2" y1="1152.7" x2="1774.2" y2="1158.7" stroke="#000" stroke-width="2" />
<line x1="1826.5" y1="1152.7" x2="1826.5" y2="1158.7" stroke="#000" stroke-width="2" />
<line x1="1860.4" y1="1152.7" x2="1860.4" y2="1158.7" stroke="#000" stroke-width="2" />
<line x1="2031.9" y1="1152.7" x2="2031.9" y2="1158.7" stroke="#000" stroke-width="2" />
<line x1="2117.2" y1="1152.7" x2="2117.2" y2="1158.7" stroke="#000" stroke-width="2" />
<line x1="1860.4" y1="908" x2="1860.4" y2="1152.7" stroke="#000" stroke-width="2" stroke-dasharray="1.6 7"/>
<line x1="2031.9" y1="908" x2="2031.9" y2="1152.7" stroke="#000" stroke-width="2" stroke-dasharray="1.6 7"/>
<text x="1770" y="1182.8" font-size="23.5" text-anchor="middle">-5k</text>
<text x="1821.2" y="1182.8" font-size="23.5" text-anchor="middle">-2k</text>
<text x="1871" y="1182.8" font-size="23.5" text-anchor="middle">TSS</text>
<text x="2031.8" y="1182.8" font-size="23.5" text-anchor="middle">TTS</text>
<text x="2109.3" y="1182.8" font-size="23.5" text-anchor="middle">5k</text>
<text x="2038.6" y="939.2" font-size="27.5">Unstim</text>
<text x="2040" y="970.2" font-size="27.5" fill="#d42a2e">TGFβ</text>
<text x="1945.7" y="1139.7" font-size="24" text-anchor="middle">n=709 genes</text>
<text transform="translate(1683.5 1024.6) rotate(-90)" font-size="26.6" text-anchor="middle">PROseq tag+ density</text>
<path d="M1774.2 1138.5 L1775.6 1132.4 L1777 1136.4 L1778.3 1135.2 L1779.7 1135.4 L1781.1 1135.8 L1782.4 1133.5 L1783.8 1136 L1785.2 1135.2 L1786.6 1141 L1787.9 1136.9 L1789.3 1136.2 L1790.7 1136.4 L1792 1135.9 L1793.4 1135.5 L1794.8 1136.5 L1796.1 1137.7 L1797.5 1136.8 L1798.9 1138.5 L1800.2 1137.1 L1801.6 1137.5 L1803 1139.6 L1804.3 1138.3 L1805.7 1137 L1807.1 1137.5 L1808.4 1138.6 L1809.8 1140.5 L1811.1 1137.5 L1812.5 1137.6 L1813.8 1139.3 L1815.2 1136.8 L1816.5 1137.6 L1817.9 1139.2 L1819.2 1138.8 L1820.5 1138.2 L1821.9 1139 L1823.2 1134.3 L1824.6 1139.5 L1825.9 1136.9 L1827.3 1136 L1828.6 1138.6 L1830 1139.2 L1831.3 1137.7 L1832.7 1136.8 L1834 1138.4 L1835.3 1138.3 L1836.7 1140.3 L1838 1139.4 L1839.4 1136.6 L1840.7 1135.9 L1842.1 1132.1 L1843.4 1129.1 L1844.8 1130.7 L1846.1 1130.2 L1847.5 1128.7 L1848.8 1127.5 L1850.2 1128.4 L1851.5 1124.3 L1852.8 1127.5 L1854.2 1126.1 L1855.5 1122.2 L1856.9 1123.4 L1858.2 1120.9 L1860.4 972.5 L1862 976.8 L1863.6 986.4 L1865 1012.8 L1866.3 1037.7 L1867.7 1057.4 L1869 1083.9 L1870.3 1086.8 L1871.7 1087.3 L1873 1092.1 L1874.4 1088.8 L1875.7 1091.3 L1877.1 1089.9 L1878.4 1093.6 L1879.8 1092.2 L1881.1 1092.1 L1882.5 1089.3 L1883.8 1092.9 L1885.1 1090.6 L1886.5 1089.6 L1887.8 1092.5 L1889.2 1093.8 L1890.5 1094.8 L1891.9 1096.9 L1893.2 1096.7 L1894.6 1099.3 L1895.9 1095.2 L1897.3 1096.1 L1898.6 1096.2 L1900 1096.7 L1901.3 1096.9 L1902.6 1094.2 L1904 1093.3 L1905.3 1095.3 L1906.7 1097.3 L1908 1097 L1909.4 1096.6 L1910.7 1096.2 L1912.1 1097.4 L1913.4 1097 L1914.8 1098.8 L1916.1 1096.9 L1917.5 1098.6 L1918.8 1098.8 L1920.1 1100.1 L1921.5 1100.1 L1922.8 1103.7 L1924.2 1102.7 L1925.5 1102.4 L1926.9 1097.4 L1928.2 1099.4 L1929.6 1098.7 L1930.9 1100 L1932.3 1095.9 L1933.6 1100.3 L1934.9 1099.8 L1936.3 1096.4 L1937.6 1096.5 L1939 1096.5 L1940.3 1097.3 L1941.7 1097.8 L1943 1099.4 L1944.4 1097.4 L1945.7 1099.7 L1947.1 1099.9 L1948.4 1103.1 L1949.8 1102.7 L1951.1 1104.6 L1952.4 1102.3 L1953.8 1104.5 L1955.1 1103.1 L1956.5 1105.7 L1957.8 1104 L1959.2 1102.1 L1960.5 1101.3 L1961.9 1102 L1963.2 1099.9 L1964.6 1099 L1965.9 1100.3 L1967.3 1102.5 L1968.6 1098.2 L1969.9 1097.3 L1971.3 1096.5 L1972.6 1096.4 L1974 1098.9 L1975.3 1099.4 L1976.7 1098.4 L1978 1098.9 L1979.4 1098.6 L1980.7 1098.7 L1982.1 1096.6 L1983.4 1098.1 L1984.7 1098.9 L1986.1 1097.8 L1987.4 1098.3 L1988.8 1097.9 L1990.1 1098.6 L1991.5 1100.2 L1992.8 1098.6 L1994.2 1099 L1995.5 1100.4 L1996.9 1100.2 L1998.2 1101.5 L1999.6 1096.3 L2000.9 1100.1 L2002.2 1098.2 L2003.6 1098.9 L2004.9 1099.7 L2006.3 1099.9 L2007.6 1099.7 L2009 1098.4 L2010.3 1100.2 L2011.7 1097.1 L2013 1096.8 L2014.4 1097.5 L2015.7 1095.1 L2017 1098.2 L2018.4 1096.2 L2019.7 1097.2 L2021.1 1093.7 L2022.4 1092.7 L2023.8 1092.9 L2025.1 1094.2 L2026.5 1092.9 L2027.8 1094.8 L2029.2 1094.8 L2030.5 1097.5 L2031.9 1085.5 L2033.2 1078.8 L2034.5 1067.5 L2035.9 1064.4 L2037.2 1062.1 L2038.6 1058.7 L2039.9 1057.8 L2041.3 1057.7 L2042.6 1055.2 L2044 1054.4 L2045.3 1054.5 L2046.7 1051.3 L2048 1049.8 L2049.4 1047.8 L2050.7 1044.7 L2052 1046.5 L2053.4 1041.8 L2054.7 1046.4 L2056.1 1046.9 L2057.4 1049.7 L2058.8 1049.5 L2060.1 1049.8 L2061.5 1052.7 L2062.8 1050.5 L2064.2 1050 L2065.5 1049.3 L2066.8 1048 L2068.2 1052.3 L2069.5 1055.8 L2070.9 1061.1 L2072.2 1062.8 L2073.6 1066.5 L2074.9 1066.1 L2076.3 1070.3 L2077.6 1071.5 L2079 1068.1 L2080.3 1072 L2081.7 1072.6 L2083 1072.4 L2084.3 1075.9 L2085.7 1075.9 L2087 1075.4 L2088.4 1078.8 L2089.7 1080.3 L2091.1 1082 L2092.4 1081.6 L2093.8 1085.4 L2095.1 1086.4 L2096.5 1084.8 L2097.8 1086.4 L2099.2 1088 L2100.5 1088.3 L2101.8 1092.3 L2103.2 1089.5 L2104.5 1087.2 L2105.9 1086.9 L2107.2 1087.2 L2108.6 1093 L2109.9 1092.4 L2111.3 1095.5 L2112.6 1098.7 L2114 1100.7 L2115.3 1106.5 L2116.6 1106.1 L2118 1102.1" fill="none" stroke="#e0282c" stroke-width="2.8" stroke-linejoin="round"/>
<path d="M1774.2 1133.5 L1775.6 1134.3 L1777.1 1136.9 L1778.5 1135.7 L1779.9 1132.7 L1781.3 1135.1 L1782.7 1134.4 L1784.1 1135.6 L1785.5 1133.4 L1786.9 1136 L1788.2 1136.1 L1789.6 1138 L1790.9 1136.4 L1792.3 1136.7 L1793.6 1134.1 L1795 1139.2 L1796.3 1133.7 L1797.7 1137.9 L1799 1136 L1800.4 1135.4 L1801.7 1135.7 L1803 1135.8 L1804.4 1137.3 L1805.7 1136.7 L1807.1 1139 L1808.4 1134.6 L1809.8 1136.9 L1811.1 1135.6 L1812.5 1137.8 L1813.8 1133.8 L1815.2 1136 L1816.5 1136.7 L1817.9 1134.3 L1819.2 1137.5 L1820.5 1136.3 L1821.9 1137.3 L1823.2 1137.1 L1824.6 1134.4 L1825.9 1134.8 L1827.3 1135.7 L1828.6 1137.1 L1830 1137.4 L1831.3 1135.4 L1832.7 1135.7 L1834 1135.6 L1835.3 1136 L1836.7 1136.6 L1838 1136.9 L1839.4 1137.5 L1840.7 1131.7 L1842.1 1129.6 L1843.4 1128.2 L1844.8 1125.4 L1846.1 1125.3 L1847.5 1125 L1848.8 1125.1 L1850.2 1121.4 L1851.5 1124.1 L1852.8 1120.4 L1854.2 1119.8 L1855.5 1119.3 L1856.9 1117.8 L1859 1114.2 L1860.4 985 L1862.3 993.3 L1863.6 1001.1 L1865 1009.6 L1866.3 1025.3 L1867.7 1045.8 L1869 1047.2 L1870.3 1050.6 L1871.7 1059.1 L1873 1057.5 L1874.4 1057.4 L1875.7 1062.8 L1877.1 1061.2 L1878.4 1064.5 L1879.8 1060.8 L1881.1 1060.4 L1882.5 1057.4 L1883.8 1056 L1885.1 1056.1 L1886.5 1056.2 L1887.8 1060.1 L1889.2 1064.9 L1890.5 1063 L1891.9 1068.4 L1893.2 1065.4 L1894.6 1065.1 L1895.9 1062.4 L1897.3 1061.5 L1898.6 1061.5 L1900 1060.1 L1901.3 1062.2 L1902.6 1061.7 L1904 1064.9 L1905.3 1063.9 L1906.7 1064.4 L1908 1066.2 L1909.4 1065.9 L1910.7 1065.7 L1912.1 1066.3 L1913.4 1066.9 L1914.8 1069.2 L1916.1 1069.5 L1917.5 1069.6 L1918.8 1070.8 L1920.1 1069.7 L1921.5 1071.8 L1922.8 1068.6 L1924.2 1071.8 L1925.5 1069.5 L1926.9 1069.1 L1928.2 1069.1 L1929.6 1067.7 L1930.9 1066.8 L1932.3 1068.2 L1933.6 1066.2 L1934.9 1064.3 L1936.3 1065.5 L1937.6 1062.1 L1939 1066.4 L1940.3 1063.8 L1941.7 1063.9 L1943 1066.7 L1944.4 1066.4 L1945.7 1063.5 L1947.1 1064 L1948.4 1064.5 L1949.8 1067 L1951.1 1066.2 L1952.4 1068.3 L1953.8 1071.4 L1955.1 1069.4 L1956.5 1069.4 L1957.8 1068.6 L1959.2 1065.5 L1960.5 1065.2 L1961.9 1062.2 L1963.2 1064.7 L1964.6 1066.2 L1965.9 1062.2 L1967.3 1064.7 L1968.6 1063.7 L1969.9 1061.6 L1971.3 1062.3 L1972.6 1063.1 L1974 1062.5 L1975.3 1064 L1976.7 1065 L1978 1066.5 L1979.4 1067.5 L1980.7 1066.1 L1982.1 1067.8 L1983.4 1065.3 L1984.7 1065.8 L1986.1 1066.2 L1987.4 1065.3 L1988.8 1064.9 L1990.1 1065.1 L1991.5 1063.6 L1992.8 1063.2 L1994.2 1063.4 L1995.5 1064.7 L1996.9 1062.9 L1998.2 1065.9 L1999.6 1064 L2000.9 1060 L2002.2 1063.8 L2003.6 1066.9 L2004.9 1065.1 L2006.3 1064.8 L2007.6 1064.5 L2009 1067.8 L2010.3 1067.7 L2011.7 1067.6 L2013 1067.6 L2014.4 1067.5 L2015.7 1065.1 L2017 1060.9 L2018.4 1062 L2019.7 1059.7 L2021.1 1057.8 L2022.4 1057.5 L2023.8 1055 L2025.1 1051.5 L2026.5 1058.1 L2027.8 1058 L2029.2 1056.9 L2030.5 1057.1 L2031.9 1045.8 L2033.2 1031.7 L2034.5 1021.7 L2035.9 1008.9 L2037.2 1006.8 L2038.6 1004.1 L2039.9 1002.5 L2041.3 1003 L2042.6 1001.4 L2044 998.3 L2045.3 995.7 L2046.7 993.9 L2048 995.3 L2049.4 995.9 L2050.7 990.9 L2052 995.8 L2053.4 992.5 L2054.7 996.1 L2056.1 998.3 L2057.4 997.1 L2058.8 998.1 L2060.1 1001.5 L2061.5 1003.6 L2062.8 1001.8 L2064.2 1004.3 L2065.5 1001.4 L2066.8 1004.8 L2068.2 1008.3 L2069.5 1014.2 L2070.9 1020.4 L2072.2 1025.8 L2073.6 1028.5 L2074.9 1029.7 L2076.3 1028.1 L2077.6 1027.8 L2079 1030.5 L2080.3 1035.1 L2081.7 1040.2 L2083 1044 L2084.3 1045.1 L2085.7 1046.2 L2087 1047.9 L2088.4 1046.4 L2089.7 1047.8 L2091.1 1051.7 L2092.4 1052.4 L2093.8 1051.5 L2095.1 1056 L2096.5 1055.4 L2097.8 1058 L2099.2 1057.9 L2100.5 1063.5 L2101.8 1064.4 L2103.2 1067.8 L2104.5 1069.4 L2105.9 1069.9 L2107.2 1071.3 L2108.6 1074.1 L2109.9 1073.6 L2111.3 1074.9 L2112.6 1076.6 L2114 1081.2 L2115.3 1084.9 L2116.6 1087.3 L2118 1079.2" fill="none" stroke="#000" stroke-width="2.8" stroke-linejoin="round"/>
<text x="2" y="1272.7" font-size="46" font-weight="bold">g</text>
<text x="303.2" y="1285.3" font-size="28" text-anchor="middle">Metagene analysis at genes</text>
<text x="304.7" y="1320" font-size="28" text-anchor="middle">identified in scRNAseq</text>
<text transform="translate(220 1360.2) scale(1.4 1)" font-size="33.8" text-anchor="middle" font-family="'Noto Sans CJK JP', 'Liberation Sans', sans-serif">↑</text>
<text x="238.5" y="1353.3" font-size="28">TAC vs. Sham</text>
<line x1="124" y1="1380.7" x2="124" y2="1626.6" stroke="#000" stroke-width="2.2" />
<line x1="124" y1="1625.6" x2="465" y2="1625.6" stroke="#000" stroke-width="2.2" />
<line x1="118" y1="1625.6" x2="124" y2="1625.6" stroke="#000" stroke-width="2" />
<text x="113.5" y="1633.9" font-size="23" text-anchor="end">0.00</text>
<line x1="118" y1="1564.4" x2="124" y2="1564.4" stroke="#000" stroke-width="2" />
<text x="113.5" y="1572.7" font-size="23" text-anchor="end">0.02</text>
<line x1="118" y1="1503.2" x2="124" y2="1503.2" stroke="#000" stroke-width="2" />
<text x="113.5" y="1511.5" font-size="23" text-anchor="end">0.04</text>
<line x1="118" y1="1441.9" x2="124" y2="1441.9" stroke="#000" stroke-width="2" />
<text x="113.5" y="1450.2" font-size="23" text-anchor="end">0.06</text>
<line x1="118" y1="1380.7" x2="124" y2="1380.7" stroke="#000" stroke-width="2" />
<text x="113.5" y="1389" font-size="23" text-anchor="end">0.08</text>
<line x1="124" y1="1625.6" x2="124" y2="1632.1" stroke="#000" stroke-width="2" />
<line x1="175.1" y1="1625.6" x2="175.1" y2="1632.1" stroke="#000" stroke-width="2" />
<line x1="209.8" y1="1625.6" x2="209.8" y2="1632.1" stroke="#000" stroke-width="2" />
<line x1="379.3" y1="1625.6" x2="379.3" y2="1632.1" stroke="#000" stroke-width="2" />
<line x1="465" y1="1625.6" x2="465" y2="1632.1" stroke="#000" stroke-width="2" />
<text x="122.6" y="1658.4" font-size="23.5" text-anchor="middle">-5k</text>
<text x="173.2" y="1658.4" font-size="23.5" text-anchor="middle">-2k</text>
<text x="222.2" y="1658.4" font-size="23.5" text-anchor="middle">TSS</text>
<text x="383.8" y="1658.4" font-size="23.5" text-anchor="middle">TTS</text>
<text x="462.4" y="1658.4" font-size="23.5" text-anchor="middle">5k</text>
<text transform="translate(48 1501) rotate(-90)" font-size="27" text-anchor="middle">PROseq tag+ density</text>
<line x1="145.3" y1="1388.6" x2="178" y2="1388.6" stroke="#000" stroke-width="2.6" />
<text x="190.6" y="1397.2" font-size="27.5">Unstim</text>
<line x1="310" y1="1389.8" x2="341.2" y2="1389.8" stroke="#e0282c" stroke-width="2.2" />
<text x="343.8" y="1400" font-size="27.5" fill="#d42a2e">TGFβ</text>
<text x="377.8" y="1614.5" font-size="24" text-anchor="middle">n=260 genes</text>
<path d="M123.9 1615.1 L126.3 1616.5 L128.6 1617.4 L130.9 1615.2 L133.3 1618.3 L135.5 1617.1 L137.7 1617.5 L139.9 1616.2 L142.1 1617.2 L144.4 1613.4 L146.6 1617.3 L148.8 1615.9 L151 1612.6 L153.3 1614.2 L155.5 1613.4 L157.7 1609.4 L159.9 1612.7 L162.1 1610.6 L164.4 1610.9 L166.6 1610.2 L168.8 1610.2 L171 1610.8 L173.2 1610.6 L175.5 1607.1 L177.7 1608.2 L179.9 1605.6 L182.1 1604.9 L184.3 1605.5 L186.6 1606.5 L188.7 1604.5 L190.8 1601 L193 1599.2 L195.1 1597.4 L197.2 1597.3 L199.9 1597.7 L202.6 1595.4 L205.2 1595.6 L207.9 1605.1 L209.8 1440.4 L213.2 1435.6 L215.9 1450 L219.9 1489.8 L223.9 1484.9 L226.5 1494.9 L229.2 1501.8 L231.9 1503.9 L234.5 1502 L237.2 1508.5 L239.9 1516 L242.5 1519.2 L245.2 1519.6 L247.9 1520.7 L250.5 1525.4 L253.2 1522.8 L255.9 1522.5 L258 1521.8 L260.1 1524.6 L262.3 1524.5 L264.4 1526.7 L266.5 1526.8 L269.2 1528.3 L271.9 1531.6 L274.5 1532.6 L277.2 1530.1 L279.9 1526.3 L282.5 1524.8 L284.6 1521.5 L286.8 1522.9 L288.9 1522.8 L291 1519.1 L293.2 1521.3 L295.8 1526.4 L298.5 1528.5 L301.2 1524.8 L303.8 1523.5 L306.5 1524.9 L309.2 1531.6 L311.8 1533.2 L314.5 1537 L317.2 1535.9 L319.8 1535.5 L322.5 1537.7 L325.2 1532.7 L327.8 1531.5 L330.5 1530 L333.2 1531.2 L335.8 1534 L338 1531.4 L340.1 1532 L342.2 1530.6 L344.3 1526.3 L346.5 1526.2 L348.6 1525.9 L350.7 1527.3 L352.9 1525.9 L355 1525.1 L357.1 1524.1 L359.8 1511.5 L362.5 1513.3 L365.1 1512.3 L367.8 1512 L370.5 1514.9 L373.1 1512.8 L375.8 1519.2 L378.5 1524.9 L381.1 1511.4 L383.8 1498.8 L386.5 1496.5 L389.1 1490.5 L391.8 1484 L394.5 1473.5 L397.1 1464.3 L399.8 1469.2 L402.5 1476 L405.1 1478.5 L407.8 1481.6 L410.4 1487.3 L413.1 1494.1 L415.8 1492.8 L418.4 1508.8 L421.1 1520.9 L423.8 1516.6 L426.4 1517.7 L429.1 1524 L431.8 1529.7 L434.4 1536.4 L437.1 1535.8 L439.8 1541.7 L442.4 1543.6 L444.6 1545.3 L446.7 1545.2 L448.8 1549.1 L451 1552.1 L453.1 1553.2 L455.5 1557.8 L457.9 1562.8 L460.3 1565 L462.7 1566.6 L465.1 1573.1" fill="none" stroke="#e0282c" stroke-width="1.8" stroke-linejoin="round"/>
<path d="M123.9 1618.6 L126.3 1618.6 L128.6 1617.7 L130.9 1619.2 L133.3 1617.4 L135.5 1615.3 L137.7 1620.7 L139.9 1618.5 L142.1 1614.3 L144.4 1615.6 L146.6 1616.1 L148.8 1617.4 L151 1618.8 L153.3 1616.9 L155.5 1615.5 L157.7 1616.7 L159.9 1615.4 L162.1 1615.8 L164.4 1614.3 L166.6 1613.2 L168.8 1616.9 L171 1614.2 L173.2 1614.6 L175.5 1613.3 L177.7 1613.1 L179.9 1613.2 L182.1 1614.6 L184.3 1615.3 L186.6 1614 L188.7 1610.9 L190.8 1614.9 L193 1610.5 L195.1 1609.3 L197.2 1605.6 L199.9 1604.1 L202.6 1603.4 L205.2 1602.3 L207.9 1607.8 L209.8 1519.8 L211.9 1477.2 L213.2 1474.6 L215.9 1493.8 L219.9 1523.7 L223.9 1504.5 L226.5 1508.2 L229.2 1513.9 L231.9 1518.1 L234.5 1515.9 L237.2 1524.6 L239.9 1536.3 L242.5 1531.9 L245.2 1529.9 L247.9 1533.2 L250.5 1540.6 L253.2 1539.3 L255.9 1534.7 L258 1533.8 L260.1 1536.2 L262.3 1538.8 L264.4 1537.6 L266.5 1535.2 L269.2 1539 L271.9 1541 L274.5 1541.1 L277.2 1533.4 L279.5 1532.6 L281.8 1531.2 L284 1530.4 L286.3 1528.7 L288.6 1528.4 L290.9 1526.9 L293.2 1529.9 L295.8 1533.3 L298.5 1535.9 L301.2 1535.6 L303.8 1534.1 L306.5 1531.9 L309.2 1537 L311.8 1539.7 L314.5 1543.4 L317.2 1540.9 L319.8 1543.8 L322.5 1545.8 L325.2 1541.9 L327.8 1538.4 L330.5 1534.5 L333.2 1538.7 L335.8 1544.7 L338 1539.6 L340.1 1540.4 L342.2 1536.1 L344.3 1536.6 L346.5 1532.2 L348.6 1533.2 L350.7 1533.1 L352.9 1532.5 L355 1529.5 L357.1 1529.9 L359.8 1523.7 L362.5 1519.6 L365.1 1520.6 L367.8 1522.1 L370.5 1520.8 L373.1 1515.5 L375.8 1521.2 L378.5 1526.9 L381.1 1516.8 L383.8 1505.2 L386.5 1503.8 L389.1 1497.6 L391.8 1498.7 L394.5 1489.3 L397.1 1484.4 L399.8 1486.1 L402.5 1492.7 L405.1 1497.4 L407.8 1504 L410.4 1504.5 L413.1 1509.8 L415.8 1509.4 L418.4 1524.3 L421.1 1532.1 L423.8 1527.7 L426.4 1524.7 L429.1 1534.4 L431.8 1540 L434.4 1546.9 L437.1 1548.2 L439.8 1550.9 L442.4 1554.5 L444.6 1554.2 L446.7 1557.6 L448.8 1559.2 L451 1559.8 L453.1 1564.7 L455.5 1571.1 L457.9 1570.8 L460.3 1579.3 L462.7 1580 L465.1 1582.5" fill="none" stroke="#000" stroke-width="2.2" stroke-linejoin="round"/>
<text x="805.9" y="1287.4" font-size="28" text-anchor="middle">Metagene analysis at genes</text>
<text x="807.4" y="1319.4" font-size="28" text-anchor="middle">identified in scRNAseq</text>
<text transform="translate(722 1362.9) scale(1.4 1)" font-size="33.8" text-anchor="middle" font-family="'Noto Sans CJK JP', 'Liberation Sans', sans-serif">↓</text>
<text x="738.5" y="1353.3" font-size="28">TAC vs. Sham</text>
<line x1="628" y1="1380.7" x2="628" y2="1626.6" stroke="#000" stroke-width="2.2" />
<line x1="628" y1="1625.6" x2="980.5" y2="1625.6" stroke="#000" stroke-width="2.2" />
<line x1="622" y1="1625.6" x2="628" y2="1625.6" stroke="#000" stroke-width="2" />
<text x="618" y="1633.9" font-size="23" text-anchor="end">0.00</text>
<line x1="622" y1="1564.4" x2="628" y2="1564.4" stroke="#000" stroke-width="2" />
<text x="618" y="1572.7" font-size="23" text-anchor="end">0.02</text>
<line x1="622" y1="1503.2" x2="628" y2="1503.2" stroke="#000" stroke-width="2" />
<text x="618" y="1511.5" font-size="23" text-anchor="end">0.04</text>
<line x1="622" y1="1441.9" x2="628" y2="1441.9" stroke="#000" stroke-width="2" />
<text x="618" y="1450.2" font-size="23" text-anchor="end">0.06</text>
<line x1="622" y1="1380.7" x2="628" y2="1380.7" stroke="#000" stroke-width="2" />
<text x="618" y="1389" font-size="23" text-anchor="end">0.08</text>
<line x1="628" y1="1625.6" x2="628" y2="1632.1" stroke="#000" stroke-width="2" />
<line x1="681.2" y1="1625.6" x2="681.2" y2="1632.1" stroke="#000" stroke-width="2" />
<line x1="715.4" y1="1625.6" x2="715.4" y2="1632.1" stroke="#000" stroke-width="2" />
<line x1="892.3" y1="1625.6" x2="892.3" y2="1632.1" stroke="#000" stroke-width="2" />
<line x1="980.5" y1="1625.6" x2="980.5" y2="1632.1" stroke="#000" stroke-width="2" />
<text x="626.6" y="1659.8" font-size="23.5" text-anchor="middle">-5k</text>
<text x="677.2" y="1659.8" font-size="23.5" text-anchor="middle">-2k</text>
<text x="727.9" y="1659.8" font-size="23.5" text-anchor="middle">TSS</text>
<text x="888.5" y="1659.8" font-size="23.5" text-anchor="middle">TTS</text>
<text x="967" y="1659.8" font-size="23.5" text-anchor="middle">5k</text>
<text transform="translate(552 1501) rotate(-90)" font-size="27" text-anchor="middle">PROseq tag+ density</text>
<line x1="652.7" y1="1388.6" x2="685.2" y2="1388.6" stroke="#000" stroke-width="2.6" />
<text x="697.8" y="1397.2" font-size="27.5">Unstim</text>
<line x1="817.2" y1="1389.8" x2="847.8" y2="1389.8" stroke="#e0282c" stroke-width="2.2" />
<text x="851.8" y="1400" font-size="27.5" fill="#d42a2e">TGFβ</text>
<text x="889.8" y="1615.8" font-size="24" text-anchor="middle">n=194 genes</text>
<path d="M627.9 1607.1 L630.2 1610.4 L632.4 1610.9 L634.6 1612.6 L636.8 1610.5 L639 1615.3 L641.3 1614.6 L643.6 1612.6 L645.9 1612.3 L648.3 1612.4 L650.6 1613.3 L652.9 1616.3 L655.3 1615.9 L657.6 1613.6 L659.9 1613.6 L662.1 1614.9 L664.4 1610.6 L666.6 1605.2 L668.8 1603.5 L671 1600.4 L673.2 1598.7 L675.5 1601.2 L677.7 1600.7 L679.9 1603 L682.1 1604.7 L684.3 1606.4 L686.6 1605.4 L688.9 1607.8 L691.2 1612.9 L693.6 1611.1 L695.9 1613.2 L698.1 1607.6 L700.3 1599.8 L702.6 1593.8 L705.2 1593.6 L707.9 1589.4 L710.6 1582 L713.2 1597.1 L715.4 1519.8 L716.7 1434.5 L718.6 1421.2 L720.7 1450.6 L723.9 1480.5 L726.5 1504.1 L729.2 1509.2 L731.9 1514.3 L734.5 1527.7 L737.2 1514.2 L741.2 1520.8 L743.4 1523.6 L745.6 1524.4 L747.9 1525.3 L750.1 1523.6 L752.3 1519.9 L754.5 1515 L756.8 1517.7 L759 1522.9 L761.2 1527.8 L763.9 1533.6 L766.5 1538.7 L769.2 1538.3 L771.9 1542.4 L774.5 1545.1 L777.2 1547.3 L779.9 1552.5 L782.5 1555.3 L785.2 1556.8 L787.8 1545.8 L790.5 1537.7 L793.2 1547.8 L795.8 1559.4 L798.5 1554.8 L801.2 1549.6 L803.4 1552.9 L805.6 1557.5 L807.8 1561.5 L811.8 1543.9 L814.5 1545.9 L817.2 1549.2 L819.8 1551.3 L822 1547.5 L824.1 1546.6 L826.2 1542.5 L828.4 1541.7 L830.5 1539.4 L833.2 1548 L835.8 1553.6 L838 1551.6 L840.1 1551.2 L842.2 1546.7 L844.3 1547.9 L846.5 1547.2 L849.1 1552.5 L851.8 1552.6 L854.5 1555.1 L857.1 1553.8 L859.8 1557.9 L862.5 1554.1 L865.1 1557.5 L867.8 1557.3 L870.5 1558 L873.1 1556.1 L875.8 1555.2 L878.5 1555.2 L881.1 1542.2 L885.1 1555.7 L887.3 1550.7 L889.6 1552.1 L891.8 1546.4 L894.5 1530.6 L897.1 1514.6 L899.8 1511.3 L902.5 1508.9 L905.1 1504.5 L907.8 1509.9 L910.4 1519 L914.4 1513.9 L918.4 1524.1 L921.1 1520.8 L923.8 1522.7 L926.4 1523.4 L929.1 1532.4 L931.8 1540.4 L934.4 1539.4 L937.1 1542.6 L939.8 1548.8 L942.4 1551 L945.1 1554.6 L947.8 1564 L950.4 1567.2 L953.1 1568.4 L955.3 1571.6 L957.5 1576.7 L959.8 1576.2 L962 1578.3 L964.2 1580.7 L966.4 1585.7 L968.8 1585 L971.1 1592.1 L973.4 1595.7 L975.7 1600.2 L978.1 1597.9 L980.5 1594.5" fill="none" stroke="#e0282c" stroke-width="1.8" stroke-linejoin="round"/>
<path d="M627.9 1610.9 L630.6 1609.5 L633.3 1613 L635.9 1614.6 L638.6 1611.3 L641.3 1613.7 L643.9 1615.5 L646.6 1614.4 L649.3 1614.4 L651.4 1613.3 L653.5 1616.4 L655.7 1616.5 L657.8 1615.6 L659.9 1617.6 L662.6 1613.9 L665.2 1609.1 L667.9 1609 L670.6 1604.9 L673.2 1598.5 L675.9 1605 L678.6 1605.5 L681.2 1605.4 L683.9 1609.1 L686.6 1607.5 L689.2 1608.4 L691.9 1609.9 L695.9 1614 L699.9 1605.7 L702.6 1604.4 L705.2 1603.1 L707.9 1604.5 L710.6 1599.1 L713.2 1591.8 L714.6 1602.5 L715.4 1519.8 L717.2 1468.4 L719.9 1455.9 L722.5 1478.2 L726.5 1508.3 L730.5 1495.7 L734.5 1518.5 L737.2 1499.9 L741.2 1518.2 L743.4 1519.2 L745.6 1519.8 L747.9 1518.8 L750.1 1515.3 L752.3 1510.2 L754.5 1505.5 L756.8 1510.6 L759 1513.5 L761.2 1518.2 L763.9 1521.3 L766.5 1525.6 L769.2 1527.5 L771.9 1525.5 L774.5 1531.8 L777.2 1536 L779.9 1540.1 L782.5 1542 L785.2 1546.2 L787.8 1532.4 L790.5 1525.4 L793.2 1533.8 L795.8 1548.6 L798.5 1541.4 L801.2 1534.1 L803.4 1541.4 L805.6 1548.6 L807.8 1553.9 L811.8 1529.8 L814.5 1534.5 L817.2 1535.5 L819.8 1536.4 L822 1535.6 L824.1 1534.9 L826.2 1536.1 L828.4 1534.4 L830.5 1534.3 L833.2 1537.8 L835.8 1544.1 L838 1542.2 L840.1 1538 L842.2 1536.6 L844.3 1532.1 L846.5 1529.9 L849.1 1536.5 L851.8 1541.9 L854.5 1545.9 L857.1 1545.7 L859.8 1545.2 L862.5 1544.6 L865.1 1548.5 L867.8 1552.9 L870.5 1549 L873.1 1545.8 L875.8 1545 L878.5 1541.1 L881.1 1525.5 L885.1 1544.4 L887.3 1542.2 L889.6 1541.8 L891.8 1537 L894.5 1521.9 L897.1 1508.6 L899.8 1489.9 L902.5 1502.4 L905.1 1486.4 L907.8 1495.5 L910.4 1502.3 L914.4 1487.3 L918.4 1518.5 L921.1 1514.4 L923.8 1517.9 L926.4 1517.5 L929.1 1525.5 L931.8 1533.5 L934.4 1537.7 L937.1 1538.5 L939.8 1541.5 L942.4 1547.4 L945.1 1556.2 L947.8 1559.4 L950.4 1562.2 L953.1 1568.1 L955.8 1569.5 L958.4 1572.6 L961.1 1575.4 L963.8 1578.1 L966.4 1583.5 L968.8 1583.2 L971.1 1588.1 L973.4 1591.6 L975.7 1596.5 L978.1 1592.3 L980.5 1591.8" fill="none" stroke="#000" stroke-width="2.2" stroke-linejoin="round"/>
<text x="1086" y="1275" font-size="46" font-weight="bold">h</text>
<text x="1432.9" y="1286" font-size="28" text-anchor="middle">Co-Accessibility (CoAc) of <tspan font-style="italic">Postn</tspan> Peak 10/11</text>
<text x="1433.9" y="1317.5" font-size="28" text-anchor="middle">with gene promoters within 1Mb of the peak</text>
<circle cx="1324.2" cy="1348" r="6" fill="#e3262b"/>
<text x="1338.4" y="1357.8" font-size="25">=</text>
<text x="1364.5" y="1357.8" font-size="25" font-style="italic" textLength="61.5" lengthAdjust="spacingAndGlyphs">Postn</text>
<text x="1432" y="1357.8" font-size="25" textLength="96.6" lengthAdjust="spacingAndGlyphs">promoter</text>
<line x1="1211.5" y1="1375.5" x2="1211.5" y2="1626" stroke="#1a1a1a" stroke-width="2" />
<line x1="1210.5" y1="1625.2" x2="1694.3" y2="1625.2" stroke="#1a1a1a" stroke-width="2" />
<line x1="1205.9" y1="1451.3" x2="1211.8" y2="1451.3" stroke="#1a1a1a" stroke-width="1.8" />
<text x="1198.5" y="1459.3" font-size="22.5" text-anchor="end" fill="#4d4d4d">0.1</text>
<line x1="1205.9" y1="1547.1" x2="1211.8" y2="1547.1" stroke="#1a1a1a" stroke-width="1.8" />
<text x="1198.5" y="1555.1" font-size="22.5" text-anchor="end" fill="#4d4d4d">0.0</text>
<text transform="translate(1129.5 1497) rotate(-90)" font-size="27.5" text-anchor="middle">Change in</text>
<text transform="translate(1159 1503.4) rotate(-90)" font-size="28" text-anchor="middle">Fibroblast CoAc</text>
<g stroke="#333" stroke-width="2.6" fill="#fff">
<path d="M1282 1438.6 V1385.4 M1282 1548 V1557" fill="none"/>
<rect x="1251.3" y="1438.6" width="62.3" height="109.4"/>
<rect x="1251.3" y="1540.5" width="62.3" height="7.5" fill="#333"/>
<path d="M1429.2 1547.1 V1531.4" fill="none"/>
<rect x="1397.6" y="1547.1" width="63.1" height="12.6" fill="#333"/>
<path d="M1402 1554 H1456" stroke="#fff" stroke-width="1.6"/>
<path d="M1596.3 1505.7 V1460.3 M1596.3 1548 V1577.9" fill="none"/>
<rect x="1564.1" y="1505.7" width="64.3" height="42.3"/>
<rect x="1564.1" y="1540.5" width="64.3" height="7.5" fill="#333"/>
</g>
<circle cx="1429.2" cy="1523.5" r="3.4" fill="#333"/>
<circle cx="1429.2" cy="1579.5" r="3.4" fill="#333"/>
<circle cx="1429.2" cy="1584.6" r="3.4" fill="#333"/>
<circle cx="1429.2" cy="1613.4" r="3.4" fill="#333"/>
<circle cx="1281.3" cy="1404.3" r="6.3" fill="#e3262b"/>
<circle cx="1429.2" cy="1566" r="6.3" fill="#e3262b"/>
<circle cx="1596.8" cy="1460.3" r="6.3" fill="#e3262b"/>
<text x="1283.4" y="1650.5" font-size="24" text-anchor="middle">Sham</text>
<text x="1283.4" y="1671.9" font-size="24" text-anchor="middle">to</text>
<text x="1283.4" y="1693.3" font-size="24" text-anchor="middle">TAC</text>
<text x="1434" y="1650.5" font-size="24" text-anchor="middle">TAC</text>
<text x="1434" y="1671.9" font-size="24" text-anchor="middle">to</text>
<text x="1434" y="1693.3" font-size="24" text-anchor="middle">TAC JQ1</text>
<text x="1600" y="1650.5" font-size="24" text-anchor="middle">TAC JQ1</text>
<text x="1600" y="1671.9" font-size="24" text-anchor="middle">to</text>
<text x="1600" y="1693.3" font-size="24" text-anchor="middle">TAC JQ1</text>
<text x="1600" y="1714.7" font-size="24" text-anchor="middle">withdrawn</text>
<text x="1778" y="1274" font-size="46" font-weight="bold">i</text>
<rect x="1869.3" y="1263.3" width="17.2" height="19" fill="#fff" stroke="#000" stroke-width="1.8" />
<text x="1891.5" y="1281.8" font-size="27.5">Unstim</text>
<rect x="1869.3" y="1292.9" width="17.2" height="18.5" fill="#e2282b" stroke="#000" stroke-width="1.8" />
<text x="1893" y="1310.3" font-size="27.5" fill="#d42a2e">TGF β</text>
<text x="1928" y="1363.6" font-size="31" text-anchor="middle" font-style="italic">Postn</text>
<line x1="1871.9" y1="1374.7" x2="1871.9" y2="1628.6" stroke="#000" stroke-width="2.2" />
<line x1="1861.4" y1="1627.5" x2="1982.2" y2="1627.5" stroke="#000" stroke-width="2.2" />
<line x1="1862.9" y1="1627.5" x2="1871.9" y2="1627.5" stroke="#000" stroke-width="2.2" />
<text x="1857.5" y="1637.2" font-size="27" text-anchor="end">0</text>
<line x1="1862.9" y1="1564.3" x2="1871.9" y2="1564.3" stroke="#000" stroke-width="2.2" />
<text x="1857.5" y="1574" font-size="27" text-anchor="end">2</text>
<line x1="1862.9" y1="1501.1" x2="1871.9" y2="1501.1" stroke="#000" stroke-width="2.2" />
<text x="1857.5" y="1510.8" font-size="27" text-anchor="end">4</text>
<line x1="1862.9" y1="1437.9" x2="1871.9" y2="1437.9" stroke="#000" stroke-width="2.2" />
<text x="1857.5" y="1447.6" font-size="27" text-anchor="end">6</text>
<line x1="1862.9" y1="1374.7" x2="1871.9" y2="1374.7" stroke="#000" stroke-width="2.2" />
<text x="1857.5" y="1384.4" font-size="27" text-anchor="end">8</text>
<rect x="1889.6" y="1593.2" width="28.5" height="34.3" fill="#fff" stroke="#000" stroke-width="2.2" />
<line x1="1903.8" y1="1586" x2="1903.8" y2="1601" stroke="#000" stroke-width="2.2" />
<line x1="1896.7" y1="1586" x2="1911" y2="1586" stroke="#000" stroke-width="2.2" />
<line x1="1896.7" y1="1601" x2="1911" y2="1601" stroke="#000" stroke-width="2.2" />
<circle cx="1903.6" cy="1580" r="3.2"/>
<circle cx="1898.5" cy="1598.5" r="3.2"/>
<circle cx="1908.5" cy="1595.8" r="3.2"/>
<rect x="1937.4" y="1451.2" width="27.4" height="176.3" fill="#e5322b" stroke="#000" stroke-width="2.2" />
<line x1="1951.1" y1="1439.3" x2="1951.1" y2="1459.9" stroke="#000" stroke-width="2.2" />
<line x1="1944.2" y1="1439.3" x2="1957.9" y2="1439.3" stroke="#000" stroke-width="2.2" />
<line x1="1944.2" y1="1459.9" x2="1957.9" y2="1459.9" stroke="#000" stroke-width="2.2" />
<circle cx="1951.1" cy="1433.5" r="3.2"/>
<circle cx="1951.1" cy="1446.7" r="3.2"/>
<circle cx="1951.1" cy="1469.2" r="3.2"/>
<text x="1931.6" y="1420.3" font-size="24.5" text-anchor="middle">2.60e<tspan font-size="14.7" dy="-7.8">-4</tspan></text>
<line x1="1906.8" y1="1425.1" x2="1950.6" y2="1425.1" stroke="#000" stroke-width="1.5" />
<line x1="1890.4" y1="1635.4" x2="1964.3" y2="1635.4" stroke="#333" stroke-width="1.2" />
<text x="1925.5" y="1663.1" font-size="24.5" text-anchor="middle">CRISPRi</text>
<text x="1925.5" y="1685.5" font-size="24.5" text-anchor="middle">Control</text>
<text x="1925.5" y="1705.3" font-size="24.5" text-anchor="middle">line</text>
<text transform="translate(1830 1493.4) rotate(-90)" font-size="28.5" text-anchor="middle">Rel. expression</text>
<text x="9" y="1794.8" font-size="46" font-weight="bold">j</text>
<line x1="143" y1="1782.5" x2="885.7" y2="1782.5" stroke="#000" stroke-width="3.2" />
<text x="506.5" y="1770.7" font-size="29.5" text-anchor="middle" font-style="italic">Postn</text>
<text x="236.5" y="1816.2" font-size="28" text-anchor="middle">Peak8 eRNA</text>
<text x="508.7" y="1816.2" font-size="28" text-anchor="middle">Peak10/11 eRNA</text>
<text x="777.4" y="1816.2" font-size="28" text-anchor="middle">Peak19 eRNA</text>
<line x1="130" y1="1855.7" x2="130" y2="2106.2" stroke="#000" stroke-width="2.2" />
<line x1="122.1" y1="2105.2" x2="339.2" y2="2105.2" stroke="#000" stroke-width="2.2" />
<line x1="123" y1="2105.2" x2="130" y2="2105.2" stroke="#000" stroke-width="2.2" />
<text x="117.5" y="2113.6" font-size="24" text-anchor="end">0</text>
<line x1="123" y1="2022" x2="130" y2="2022" stroke="#000" stroke-width="2.2" />
<text x="117.5" y="2030.4" font-size="24" text-anchor="end">2</text>
<line x1="123" y1="1938.9" x2="130" y2="1938.9" stroke="#000" stroke-width="2.2" />
<text x="117.5" y="1947.3" font-size="24" text-anchor="end">4</text>
<line x1="123" y1="1855.7" x2="130" y2="1855.7" stroke="#000" stroke-width="2.2" />
<text x="117.5" y="1864.1" font-size="24" text-anchor="end">6</text>
<rect x="150" y="2065.7" width="25.4" height="39.5" fill="#fff" stroke="#000" stroke-width="2.2" />
<line x1="162.7" y1="2048.8" x2="162.7" y2="2070.8" stroke="#000" stroke-width="2.2" />
<line x1="155.1" y1="2048.8" x2="170.3" y2="2048.8" stroke="#000" stroke-width="2.2" />
<line x1="155.1" y1="2070.8" x2="170.3" y2="2070.8" stroke="#000" stroke-width="2.2" />
<ellipse cx="162.4" cy="2029.3" rx="6.3" ry="4.3"/>
<ellipse cx="153.3" cy="2063.6" rx="6.3" ry="4.3"/>
<ellipse cx="172" cy="2063.6" rx="6.3" ry="4.3"/>
<ellipse cx="162.4" cy="2081.2" rx="6.3" ry="4.3"/>
<rect x="189.2" y="1931.4" width="26" height="173.8" fill="#e5322b" stroke="#000" stroke-width="2.2" />
<line x1="202.2" y1="1914.4" x2="202.2" y2="1945.6" stroke="#000" stroke-width="2.2" />
<line x1="194.4" y1="1914.4" x2="210" y2="1914.4" stroke="#000" stroke-width="2.2" />
<line x1="194.4" y1="1945.6" x2="210" y2="1945.6" stroke="#000" stroke-width="2.2" />
<ellipse cx="202.2" cy="1887.1" rx="6.3" ry="4.3"/>
<ellipse cx="192.3" cy="1935.7" rx="6.3" ry="4.3"/>
<ellipse cx="212.6" cy="1939.1" rx="6.3" ry="4.3"/>
<ellipse cx="202.2" cy="1958.6" rx="6.3" ry="4.3"/>
<rect x="254.2" y="2079" width="26" height="26.2" fill="#fff" stroke="#000" stroke-width="2.2" />
<line x1="267.2" y1="2068.3" x2="267.2" y2="2088" stroke="#000" stroke-width="2.2" />
<line x1="259.4" y1="2068.3" x2="275" y2="2068.3" stroke="#000" stroke-width="2.2" />
<line x1="259.4" y1="2088" x2="275" y2="2088" stroke="#000" stroke-width="2.2" />
<ellipse cx="267.2" cy="2065.7" rx="6.3" ry="4.3"/>
<ellipse cx="267.2" cy="2074" rx="6.3" ry="4.3"/>
<ellipse cx="258" cy="2083.8" rx="6.3" ry="4.3"/>
<ellipse cx="277" cy="2082.5" rx="6.3" ry="4.3"/>
<rect x="294.2" y="2033.3" width="25.5" height="71.9" fill="#e5322b" stroke="#000" stroke-width="2.2" />
<line x1="306.9" y1="2009.8" x2="306.9" y2="2052.7" stroke="#000" stroke-width="2.2" />
<line x1="299.3" y1="2009.8" x2="314.6" y2="2009.8" stroke="#000" stroke-width="2.2" />
<line x1="299.3" y1="2052.7" x2="314.6" y2="2052.7" stroke="#000" stroke-width="2.2" />
<ellipse cx="307.4" cy="2007.2" rx="6.3" ry="4.3"/>
<ellipse cx="307.4" cy="2020.7" rx="6.3" ry="4.3"/>
<ellipse cx="307.4" cy="2042.3" rx="6.3" ry="4.3"/>
<ellipse cx="307.4" cy="2055.3" rx="6.3" ry="4.3"/>
<line x1="170.7" y1="1875.9" x2="267.7" y2="1875.9" stroke="#333" stroke-width="1.3" />
<text x="218" y="1870.2" font-size="25" text-anchor="middle">ns</text>
<line x1="205.3" y1="1850" x2="306.1" y2="1850" stroke="#333" stroke-width="1.3" />
<text x="260.9" y="1845.5" font-size="24.5" text-anchor="middle">5.40e<tspan font-size="14.7" dy="-7.8">-5</tspan></text>
<line x1="144.8" y1="2112.4" x2="220.4" y2="2112.4" stroke="#333" stroke-width="1.3" />
<line x1="235.2" y1="2112.4" x2="326.2" y2="2112.4" stroke="#333" stroke-width="1.3" />
<text x="177.6" y="2135.8" font-size="24.5" text-anchor="middle">CRISPRi</text>
<text x="177.6" y="2157.9" font-size="24.5" text-anchor="middle">Control</text>
<text x="177.6" y="2180" font-size="24.5" text-anchor="middle">line</text>
<text x="280" y="2135.8" font-size="24.5" text-anchor="middle">CRISPRi</text>
<text x="280" y="2157.9" font-size="24.5" text-anchor="middle"><tspan font-style="italic">Postn</tspan></text>
<text x="280" y="2180" font-size="24.5" text-anchor="middle">Peak8</text>
<text transform="translate(80 1982.5) rotate(-90)" font-size="28" text-anchor="middle">Rel. expression</text>
<line x1="401.2" y1="1859.4" x2="401.2" y2="2108.5" stroke="#000" stroke-width="2.2" />
<line x1="390.7" y1="2107.5" x2="611" y2="2107.5" stroke="#000" stroke-width="2.2" />
<line x1="394.2" y1="2107.5" x2="401.2" y2="2107.5" stroke="#000" stroke-width="2.2" />
<text x="387.3" y="2115.9" font-size="24" text-anchor="end">0</text>
<line x1="394.2" y1="2024.8" x2="401.2" y2="2024.8" stroke="#000" stroke-width="2.2" />
<text x="387.3" y="2033.2" font-size="24" text-anchor="end">1</text>
<line x1="394.2" y1="1942.1" x2="401.2" y2="1942.1" stroke="#000" stroke-width="2.2" />
<text x="387.3" y="1950.5" font-size="24" text-anchor="end">2</text>
<line x1="394.2" y1="1859.4" x2="401.2" y2="1859.4" stroke="#000" stroke-width="2.2" />
<text x="387.3" y="1867.8" font-size="24" text-anchor="end">3</text>
<rect x="420" y="2024.8" width="26" height="82.7" fill="#fff" stroke="#000" stroke-width="2.2" />
<line x1="433" y1="2018" x2="433" y2="2031" stroke="#000" stroke-width="2.2" />
<line x1="425.2" y1="2018" x2="440.8" y2="2018" stroke="#000" stroke-width="2.2" />
<line x1="425.2" y1="2031" x2="440.8" y2="2031" stroke="#000" stroke-width="2.2" />
<ellipse cx="422" cy="2023.9" rx="6.3" ry="4.3"/>
<ellipse cx="446" cy="2023.9" rx="6.3" ry="4.3"/>
<ellipse cx="429.5" cy="2011.5" rx="6.3" ry="4.3"/>
<ellipse cx="439" cy="2011.5" rx="6.3" ry="4.3"/>
<ellipse cx="434" cy="2022" rx="6.3" ry="4.3"/>
<rect x="460.9" y="1911.5" width="25.4" height="196" fill="#e5322b" stroke="#000" stroke-width="2.2" />
<line x1="473.6" y1="1892.5" x2="473.6" y2="1930.7" stroke="#000" stroke-width="2.2" />
<line x1="466" y1="1892.5" x2="481.2" y2="1892.5" stroke="#000" stroke-width="2.2" />
<line x1="466" y1="1930.7" x2="481.2" y2="1930.7" stroke="#000" stroke-width="2.2" />
<ellipse cx="473.7" cy="1890.1" rx="6.3" ry="4.3"/>
<ellipse cx="473.7" cy="1899.1" rx="6.3" ry="4.3"/>
<ellipse cx="473.7" cy="1917" rx="6.3" ry="4.3"/>
<ellipse cx="473.7" cy="1931.3" rx="6.3" ry="4.3"/>
<rect x="525.7" y="2091.8" width="25.6" height="15.7" fill="#fff" stroke="#000" stroke-width="2.2" />
<line x1="538.5" y1="2084.8" x2="538.5" y2="2098" stroke="#000" stroke-width="2.2" />
<line x1="530.8" y1="2084.8" x2="546.2" y2="2084.8" stroke="#000" stroke-width="2.2" />
<line x1="530.8" y1="2098" x2="546.2" y2="2098" stroke="#000" stroke-width="2.2" />
<ellipse cx="534" cy="2075.2" rx="6.3" ry="4.3"/>
<ellipse cx="543" cy="2080.6" rx="6.3" ry="4.3"/>
<ellipse cx="529.5" cy="2097.6" rx="6.3" ry="4.3"/>
<ellipse cx="549" cy="2097.6" rx="6.3" ry="4.3"/>
<ellipse cx="538.5" cy="2097.6" rx="6.3" ry="4.3"/>
<rect x="565.4" y="2079.4" width="25.3" height="28.1" fill="#e5322b" stroke="#000" stroke-width="2.2" />
<line x1="578" y1="2057.3" x2="578" y2="2096" stroke="#000" stroke-width="2.2" />
<line x1="570.5" y1="2057.3" x2="585.6" y2="2057.3" stroke="#000" stroke-width="2.2" />
<line x1="570.5" y1="2096" x2="585.6" y2="2096" stroke="#000" stroke-width="2.2" />
<ellipse cx="578.2" cy="2047.8" rx="6.3" ry="4.3"/>
<ellipse cx="589.3" cy="2069.3" rx="6.3" ry="4.3"/>
<ellipse cx="569.9" cy="2076.7" rx="6.3" ry="4.3"/>
<ellipse cx="589.3" cy="2091" rx="6.3" ry="4.3"/>
<ellipse cx="568.4" cy="2097.6" rx="6.3" ry="4.3"/>
<line x1="434.6" y1="1883.3" x2="531" y2="1883.3" stroke="#333" stroke-width="1.3" />
<text x="488.2" y="1880.3" font-size="24.5" text-anchor="middle">2.60e<tspan font-size="14.7" dy="-7.8">-6</tspan></text>
<line x1="468.4" y1="1855.8" x2="568.4" y2="1855.8" stroke="#333" stroke-width="1.3" />
<text x="522.8" y="1852.8" font-size="24.5" text-anchor="middle">5.70e<tspan font-size="14.7" dy="-7.8">-11</tspan></text>
<line x1="426.6" y1="2113.1" x2="501.2" y2="2113.1" stroke="#333" stroke-width="1.3" />
<line x1="516" y1="2113.1" x2="607.2" y2="2113.1" stroke="#333" stroke-width="1.3" />
<text x="457" y="2137" font-size="24.5" text-anchor="middle">CRISPRi</text>
<text x="457" y="2159.1" font-size="24.5" text-anchor="middle">Control</text>
<text x="457" y="2181.2" font-size="24.5" text-anchor="middle">line</text>
<text x="561" y="2137" font-size="24.5" text-anchor="middle">CRISPRi</text>
<text x="561" y="2159.1" font-size="24.5" text-anchor="middle"><tspan font-style="italic">Postn</tspan></text>
<text x="561" y="2181.2" font-size="24.5" text-anchor="middle">Peak11</text>
<line x1="678.2" y1="1855.8" x2="678.2" y2="2108.5" stroke="#000" stroke-width="2.2" />
<line x1="668" y1="2107.5" x2="890.7" y2="2107.5" stroke="#000" stroke-width="2.2" />
<line x1="671.2" y1="2107.5" x2="678.2" y2="2107.5" stroke="#000" stroke-width="2.2" />
<text x="664.5" y="2115.9" font-size="24" text-anchor="end">0</text>
<line x1="671.2" y1="2044.6" x2="678.2" y2="2044.6" stroke="#000" stroke-width="2.2" />
<text x="664.5" y="2053" font-size="24" text-anchor="end">2</text>
<line x1="671.2" y1="1981.7" x2="678.2" y2="1981.7" stroke="#000" stroke-width="2.2" />
<text x="664.5" y="1990.1" font-size="24" text-anchor="end">4</text>
<line x1="671.2" y1="1918.7" x2="678.2" y2="1918.7" stroke="#000" stroke-width="2.2" />
<text x="664.5" y="1927.1" font-size="24" text-anchor="end">6</text>
<line x1="671.2" y1="1855.8" x2="678.2" y2="1855.8" stroke="#000" stroke-width="2.2" />
<text x="664.5" y="1864.2" font-size="24" text-anchor="end">8</text>
<rect x="696.7" y="2076" width="26.9" height="31.5" fill="#fff" stroke="#000" stroke-width="2.2" />
<ellipse cx="701" cy="2076" rx="6.3" ry="4.3"/>
<ellipse cx="708" cy="2076" rx="6.3" ry="4.3"/>
<ellipse cx="715" cy="2076" rx="6.3" ry="4.3"/>
<ellipse cx="721" cy="2076" rx="6.3" ry="4.3"/>
<rect x="737.9" y="1973.8" width="26" height="133.7" fill="#e5322b" stroke="#000" stroke-width="2.2" />
<line x1="750.9" y1="1934.9" x2="750.9" y2="2009" stroke="#000" stroke-width="2.2" />
<line x1="743.1" y1="1934.9" x2="758.7" y2="1934.9" stroke="#000" stroke-width="2.2" />
<line x1="743.1" y1="2009" x2="758.7" y2="2009" stroke="#000" stroke-width="2.2" />
<ellipse cx="751.3" cy="1913.4" rx="6.3" ry="4.3"/>
<ellipse cx="751.3" cy="1963.3" rx="6.3" ry="4.3"/>
<ellipse cx="751.3" cy="2039.4" rx="6.3" ry="4.3"/>
<rect x="804.2" y="2072.9" width="25.9" height="34.6" fill="#fff" stroke="#000" stroke-width="2.2" />
<line x1="817.2" y1="2068" x2="817.2" y2="2076" stroke="#000" stroke-width="2.2" />
<line x1="809.4" y1="2068" x2="824.9" y2="2068" stroke="#000" stroke-width="2.2" />
<line x1="809.4" y1="2076" x2="824.9" y2="2076" stroke="#000" stroke-width="2.2" />
<ellipse cx="808.7" cy="2067" rx="6.3" ry="4.3"/>
<ellipse cx="826.6" cy="2071" rx="6.3" ry="4.3"/>
<ellipse cx="808.7" cy="2076" rx="6.3" ry="4.3"/>
<rect x="846" y="2088.6" width="25.3" height="18.9" fill="#e5322b" stroke="#000" stroke-width="2.2" />
<line x1="858.6" y1="2075.2" x2="858.6" y2="2100" stroke="#000" stroke-width="2.2" />
<line x1="851.1" y1="2075.2" x2="866.2" y2="2075.2" stroke="#000" stroke-width="2.2" />
<line x1="851.1" y1="2100" x2="866.2" y2="2100" stroke="#000" stroke-width="2.2" />
<ellipse cx="847.5" cy="2078" rx="6.3" ry="4.3"/>
<ellipse cx="868.4" cy="2075.5" rx="6.3" ry="4.3"/>
<ellipse cx="858.8" cy="2090.5" rx="6.3" ry="4.3"/>
<ellipse cx="858.8" cy="2101" rx="6.3" ry="4.3"/>
<line x1="715.5" y1="1899.1" x2="812.5" y2="1899.1" stroke="#333" stroke-width="1.3" />
<text x="763.1" y="1893.1" font-size="25" text-anchor="middle">ns</text>
<line x1="749" y1="1873.7" x2="850.4" y2="1873.7" stroke="#333" stroke-width="1.3" />
<text x="799.7" y="1869.3" font-size="24.5" text-anchor="middle">0.001</text>
<line x1="692.2" y1="2114.6" x2="766.9" y2="2114.6" stroke="#333" stroke-width="1.3" />
<line x1="787.8" y1="2114.6" x2="878.8" y2="2114.6" stroke="#333" stroke-width="1.3" />
<text x="722.1" y="2137" font-size="24.5" text-anchor="middle">CRISPRi</text>
<text x="722.1" y="2159.1" font-size="24.5" text-anchor="middle">Control</text>
<text x="722.1" y="2181.2" font-size="24.5" text-anchor="middle">line</text>
<text x="832" y="2137" font-size="24.5" text-anchor="middle">CRISPRi</text>
<text x="832" y="2159.1" font-size="24.5" text-anchor="middle"><tspan font-style="italic">Postn</tspan></text>
<text x="832" y="2181.2" font-size="24.5" text-anchor="middle">Peak19</text>
<rect x="391.3" y="2200.6" width="16.8" height="17.3" fill="#fff" stroke="#000" stroke-width="1.8" />
<text x="414" y="2218.5" font-size="27.5">Unstim</text>
<rect x="518.2" y="2200.6" width="17.3" height="17.3" fill="#e5322b" stroke="#000" stroke-width="1.8" />
<text x="540.6" y="2218.5" font-size="27.5" fill="#d42a2e">TGFβ</text>
<text x="1008" y="1796" font-size="46" font-weight="bold">k</text>
<text x="1553.2" y="1782.5" font-size="29.8" text-anchor="middle">H3K9me3 at <tspan font-style="italic">Postn</tspan> locus</text>
<line x1="1100" y1="1792.3" x2="2003.1" y2="1792.3" stroke="#000" stroke-width="2.4" />
<text x="1303.9" y="1826.9" font-size="27" text-anchor="middle" font-weight="bold">Unstim</text>
<text x="1780.2" y="1827" font-size="27" text-anchor="middle" font-weight="bold" fill="#d42a2e">TGFβ</text>
<text transform="translate(1042 1970.8) rotate(-90)" font-size="26.6" text-anchor="middle">% of INPUT</text>
<line x1="1105.1" y1="1835.8" x2="1105.1" y2="2135.3" stroke="#000" stroke-width="2.2" />
<line x1="1098.1" y1="2134.3" x2="1105.1" y2="2134.3" stroke="#000" stroke-width="2.2" />
<text x="1090" y="2142.8" font-size="24.5" text-anchor="end">0</text>
<line x1="1098.1" y1="2034.8" x2="1105.1" y2="2034.8" stroke="#000" stroke-width="2.2" />
<text x="1090" y="2043.3" font-size="24.5" text-anchor="end">5</text>
<line x1="1098.1" y1="1935.3" x2="1105.1" y2="1935.3" stroke="#000" stroke-width="2.2" />
<text x="1090" y="1943.8" font-size="24.5" text-anchor="end">10</text>
<line x1="1098.1" y1="1835.8" x2="1105.1" y2="1835.8" stroke="#000" stroke-width="2.2" />
<text x="1090" y="1844.3" font-size="24.5" text-anchor="end">15</text>
<rect x="1196.4" y="1962.2" width="40.9" height="172.1" fill="#3c53a6" stroke="#000" stroke-width="2.2" />
<line x1="1216.8" y1="1951.3" x2="1216.8" y2="1970" stroke="#000" stroke-width="2.2" />
<line x1="1205.8" y1="1951.3" x2="1227.8" y2="1951.3" stroke="#000" stroke-width="2.2" />
<line x1="1205.8" y1="1970" x2="1227.8" y2="1970" stroke="#000" stroke-width="2.2" />
<rect x="1331.3" y="2055.7" width="40.9" height="78.6" fill="#3c53a6" stroke="#000" stroke-width="2.2" />
<line x1="1351.8" y1="2052" x2="1351.8" y2="2060" stroke="#000" stroke-width="2.2" />
<line x1="1340.8" y1="2052" x2="1362.8" y2="2052" stroke="#000" stroke-width="2.2" />
<line x1="1340.8" y1="2060" x2="1362.8" y2="2060" stroke="#000" stroke-width="2.2" />
<line x1="1094.9" y1="2134.3" x2="1531.9" y2="2134.3" stroke="#000" stroke-width="2.2" />
<path d="M1210.3 1936.7L1225.5 1936.7L1217.9 1948.9ZM1196 1965.9L1211.2 1965.9L1203.6 1978.1ZM1222.8 1960.6L1238 1960.6L1230.4 1972.8ZM1128.2 2127.7L1143.4 2127.7L1135.8 2139.9ZM1143.1 2121.8L1158.3 2121.8L1150.7 2134ZM1155.1 2127.7L1170.3 2127.7L1162.7 2139.9ZM1331.2 2064.5L1346.4 2064.5L1338.8 2052.3ZM1344.6 2055.6L1359.8 2055.6L1352.2 2043.4ZM1357.2 2062.4L1372.4 2062.4L1364.8 2050.2ZM1264.6 2138.1L1279.8 2138.1L1272.2 2125.9ZM1276 2137.2L1291.2 2137.2L1283.6 2125ZM1289.4 2138.1L1304.6 2138.1L1297 2125.9Z"/>
<ellipse cx="1404.5" cy="2134.3" rx="7.3" ry="5.6"/>
<ellipse cx="1419.4" cy="2134.3" rx="7.3" ry="5.6"/>
<ellipse cx="1432.8" cy="2134.3" rx="7.3" ry="5.6"/>
<ellipse cx="1473.1" cy="2131.9" rx="7.3" ry="5.6"/>
<ellipse cx="1486.6" cy="2130.4" rx="7.3" ry="5.6"/>
<ellipse cx="1500" cy="2130.4" rx="7.3" ry="5.6"/>
<line x1="1166.3" y1="1927.5" x2="1220.9" y2="1927.5" stroke="#222" stroke-width="1.5" />
<text x="1202" y="1922.4" font-size="24.5" text-anchor="middle">2.20e<tspan font-size="14.7" dy="-7.8">-12</tspan></text>
<line x1="1297.9" y1="2031.9" x2="1352.2" y2="2031.9" stroke="#222" stroke-width="1.5" />
<text x="1332.2" y="2026.9" font-size="24.5" text-anchor="middle">2.20e<tspan font-size="14.7" dy="-7.8">-8</tspan></text>
<line x1="1421.8" y1="2114.9" x2="1476.1" y2="2114.9" stroke="#222" stroke-width="1.5" />
<text x="1449.2" y="2107.5" font-size="24.5" text-anchor="middle">ns</text>
<line x1="1120.3" y1="2147.8" x2="1222.4" y2="2147.8" stroke="#222" stroke-width="1.4" />
<line x1="1267.8" y1="2147.8" x2="1371" y2="2147.8" stroke="#222" stroke-width="1.4" />
<line x1="1408.4" y1="2147.8" x2="1511.9" y2="2147.8" stroke="#222" stroke-width="1.4" />
<text x="1174.6" y="2174.6" font-size="24.5" text-anchor="middle">Peak11</text>
<text x="1320.9" y="2174.6" font-size="24.5" text-anchor="middle">Peak10</text>
<text x="1462.7" y="2174.6" font-size="24.5" text-anchor="middle">Promoter</text>
<rect x="1257.3" y="1874.3" width="22.7" height="19.5" fill="#fff" stroke="#000" stroke-width="1.8" />
<text x="1284" y="1893.1" font-size="27">CRISPRi Control</text>
<text x="1287" y="1916.4" font-size="27">line</text>
<rect x="1257.3" y="1930.4" width="22.7" height="18.5" fill="#3c53a6" stroke="#000" stroke-width="1.8" />
<text x="1285" y="1948.4" font-size="27">CRISPRi <tspan font-style="italic">Postn</tspan></text>
<text x="1285.5" y="1975.2" font-size="27">Peak11</text>
<line x1="1585.2" y1="1838.5" x2="1585.2" y2="2137.3" stroke="#000" stroke-width="2.2" />
<line x1="1578.2" y1="2136.3" x2="1585.2" y2="2136.3" stroke="#000" stroke-width="2.2" />
<text x="1569" y="2144.8" font-size="24.5" text-anchor="end">0</text>
<line x1="1578.2" y1="2061.9" x2="1585.2" y2="2061.9" stroke="#000" stroke-width="2.2" />
<text x="1569" y="2070.4" font-size="24.5" text-anchor="end">5</text>
<line x1="1578.2" y1="1987.4" x2="1585.2" y2="1987.4" stroke="#000" stroke-width="2.2" />
<text x="1569" y="1995.9" font-size="24.5" text-anchor="end">10</text>
<line x1="1578.2" y1="1913" x2="1585.2" y2="1913" stroke="#000" stroke-width="2.2" />
<text x="1569" y="1921.5" font-size="24.5" text-anchor="end">15</text>
<line x1="1578.2" y1="1838.5" x2="1585.2" y2="1838.5" stroke="#000" stroke-width="2.2" />
<text x="1569" y="1847" font-size="24.5" text-anchor="end">20</text>
<rect x="1677.2" y="1970.3" width="41.2" height="166" fill="#3c53a6" stroke="#000" stroke-width="2.2" />
<line x1="1697.8" y1="1927.4" x2="1697.8" y2="2011.6" stroke="#000" stroke-width="2.2" />
<line x1="1686.8" y1="1927.4" x2="1708.8" y2="1927.4" stroke="#000" stroke-width="2.2" />
<line x1="1686.8" y1="2011.6" x2="1708.8" y2="2011.6" stroke="#000" stroke-width="2.2" />
<rect x="1811.9" y="2067.8" width="41.5" height="68.5" fill="#3c53a6" stroke="#000" stroke-width="2.2" />
<line x1="1832.7" y1="2062" x2="1832.7" y2="2071" stroke="#000" stroke-width="2.2" />
<line x1="1821.7" y1="2062" x2="1843.7" y2="2062" stroke="#000" stroke-width="2.2" />
<line x1="1821.7" y1="2071" x2="1843.7" y2="2071" stroke="#000" stroke-width="2.2" />
<line x1="1576.8" y1="2136.3" x2="2013.4" y2="2136.3" stroke="#000" stroke-width="2.2" />
<path d="M1690.5 1884.3L1705.7 1884.3L1698.1 1896.5ZM1690.5 1974.7L1705.7 1974.7L1698.1 1986.9ZM1690.5 2029.3L1705.7 2029.3L1698.1 2041.5ZM1608.8 2129L1624 2129L1616.4 2141.2ZM1622.8 2129L1638 2129L1630.4 2141.2ZM1636.9 2129L1652.1 2129L1644.5 2141.2ZM1811.5 2075L1826.7 2075L1819.1 2062.8ZM1824.9 2065.6L1840.1 2065.6L1832.5 2053.4ZM1839.6 2075L1854.8 2075L1847.2 2062.8ZM1744.4 2141.9L1759.6 2141.9L1752 2129.7ZM1757.5 2140.1L1772.7 2140.1L1765.1 2127.9ZM1770.9 2140.1L1786.1 2140.1L1778.5 2127.9Z"/>
<ellipse cx="1886.1" cy="2136.3" rx="7.3" ry="5.6"/>
<ellipse cx="1900.2" cy="2135.4" rx="7.3" ry="5.6"/>
<ellipse cx="1914.2" cy="2136.3" rx="7.3" ry="5.6"/>
<ellipse cx="1954.7" cy="2134.7" rx="7.3" ry="5.6"/>
<ellipse cx="1968.8" cy="2131" rx="7.3" ry="5.6"/>
<ellipse cx="1981.3" cy="2131.6" rx="7.3" ry="5.6"/>
<line x1="1641.3" y1="1879.7" x2="1695.9" y2="1879.7" stroke="#222" stroke-width="1.5" />
<text x="1676.1" y="1870.3" font-size="24.5" text-anchor="middle">5.50e<tspan font-size="14.7" dy="-7.8">-5</tspan></text>
<line x1="1776" y1="2044.3" x2="1830" y2="2044.3" stroke="#222" stroke-width="1.5" />
<text x="1802.5" y="2036.5" font-size="24.5" text-anchor="middle">0.043</text>
<line x1="1909.5" y1="2122.3" x2="1962.5" y2="2122.3" stroke="#222" stroke-width="1.5" />
<text x="1936.8" y="2112.9" font-size="24.5" text-anchor="middle">ns</text>
<line x1="1603.9" y1="2152.8" x2="1705.3" y2="2152.8" stroke="#222" stroke-width="1.4" />
<line x1="1752" y1="2152.8" x2="1854.3" y2="2152.8" stroke="#222" stroke-width="1.4" />
<line x1="1892.4" y1="2152.8" x2="1995.3" y2="2152.8" stroke="#222" stroke-width="1.4" />
<text x="1658.3" y="2175.3" font-size="24.5" text-anchor="middle">Peak11</text>
<text x="1804.3" y="2175.3" font-size="24.5" text-anchor="middle">Peak10</text>
<text x="1947" y="2175.3" font-size="24.5" text-anchor="middle">Promoter</text>
<rect x="1757.3" y="1872.8" width="22.7" height="19.5" fill="#fff" stroke="#000" stroke-width="1.8" />
<text x="1783.8" y="1893" font-size="27">CRISPRi Control</text>
<text x="1786.8" y="1916.5" font-size="27">line</text>
<rect x="1757.3" y="1929.6" width="22.7" height="18.5" fill="#3c53a6" stroke="#000" stroke-width="1.8" />
<text x="1784.8" y="1949.2" font-size="27">CRISPRi <tspan font-style="italic">Postn</tspan></text>
<text x="1785.3" y="1974.1" font-size="27">Peak11</text></svg></body></html>
